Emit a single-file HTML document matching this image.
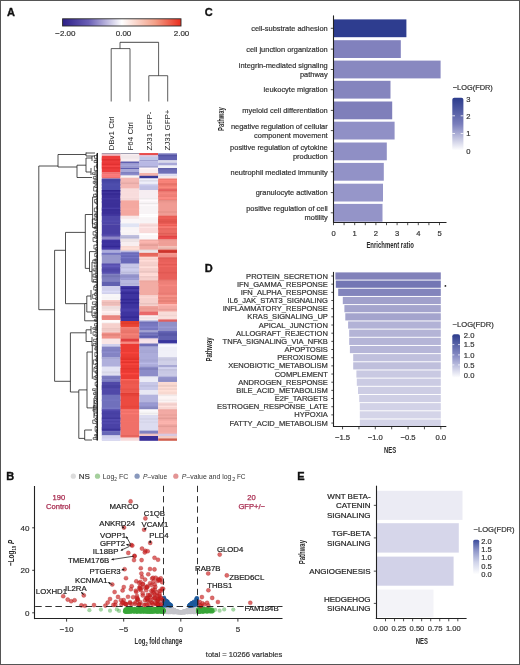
<!DOCTYPE html>
<html><head><meta charset="utf-8"><style>html,body{margin:0;padding:0;background:#fff;}svg{display:block;will-change:transform;}text{font-family:"Liberation Sans",sans-serif;}</style></head>
<body><svg width="520" height="665" viewBox="0 0 520 665" font-family="Liberation Sans, sans-serif"><text x="6.90" y="15.80" font-size="11" text-anchor="start" fill="#111" font-weight="bold"  stroke="#111" stroke-width="0.35">A</text>
<defs><linearGradient id="cb" x1="0" x2="1" y1="0" y2="0"><stop offset="0" stop-color="#2d2088"/><stop offset="0.22" stop-color="#6a5fb6"/><stop offset="0.5" stop-color="#ffffff"/><stop offset="0.78" stop-color="#f3a088"/><stop offset="1" stop-color="#ea2c1c"/></linearGradient><linearGradient id="cbC" x1="0" x2="0" y1="0" y2="1"><stop offset="0" stop-color="#2c3c8c"/><stop offset="0.5" stop-color="#7a7ebc"/><stop offset="1" stop-color="#ffffff"/></linearGradient><linearGradient id="cbD" x1="0" x2="0" y1="0" y2="1"><stop offset="0" stop-color="#2c3c8c"/><stop offset="0.5" stop-color="#8a8ec6"/><stop offset="1" stop-color="#ffffff"/></linearGradient><linearGradient id="cbE" x1="0" x2="0" y1="0" y2="1"><stop offset="0" stop-color="#3c4c9c"/><stop offset="0.3" stop-color="#8c94c8"/><stop offset="0.65" stop-color="#d0d4ea"/><stop offset="1" stop-color="#ffffff"/></linearGradient></defs>
<rect x="62.6" y="18.8" width="118.4" height="7.2" fill="url(#cb)" stroke="#2a2a2a" stroke-width="0.9"/>
<text x="65.40" y="35.60" font-size="8" text-anchor="middle" fill="#333" font-weight="normal" stroke="#333" stroke-width="0.2" >−2.00</text>
<text x="123.50" y="35.60" font-size="8" text-anchor="middle" fill="#333" font-weight="normal" stroke="#333" stroke-width="0.2" >0.00</text>
<text x="181.50" y="35.60" font-size="8" text-anchor="middle" fill="#333" font-weight="normal" stroke="#333" stroke-width="0.2" >2.00</text>
<line x1="120.00" y1="42.30" x2="158.60" y2="42.30" stroke="#333" stroke-width="0.9" />
<line x1="120.00" y1="42.30" x2="120.00" y2="48.60" stroke="#333" stroke-width="0.8" />
<line x1="111.20" y1="48.60" x2="130.00" y2="48.60" stroke="#333" stroke-width="0.8" />
<line x1="111.20" y1="48.60" x2="111.20" y2="101.50" stroke="#333" stroke-width="0.8" />
<line x1="130.00" y1="48.60" x2="130.00" y2="101.50" stroke="#333" stroke-width="0.8" />
<line x1="158.60" y1="42.30" x2="158.60" y2="75.70" stroke="#333" stroke-width="0.8" />
<line x1="148.80" y1="75.70" x2="167.70" y2="75.70" stroke="#333" stroke-width="0.8" />
<line x1="148.80" y1="75.70" x2="148.80" y2="101.50" stroke="#333" stroke-width="0.8" />
<line x1="167.70" y1="75.70" x2="167.70" y2="101.50" stroke="#333" stroke-width="0.8" />
<text transform="translate(114.10,150.6) rotate(-90)" font-size="8" fill="#222">DBv1 Ctrl</text>
<text transform="translate(132.80,150.6) rotate(-90)" font-size="8" fill="#222">F64 Ctrl</text>
<text transform="translate(151.60,150.6) rotate(-90)" font-size="8" fill="#222">ZJ31 GFP-</text>
<text transform="translate(170.40,150.6) rotate(-90)" font-size="8" fill="#222">ZJ31 GFP+</text>
<rect x="101.80" y="153.00" width="18.80" height="1.10" fill="#8a8aa0" />
<rect x="101.80" y="153.80" width="18.80" height="2.30" fill="#f4c0c8" />
<rect x="101.80" y="153.80" width="18.80" height="1.60" fill="#eab6be" />
<rect x="101.80" y="155.80" width="18.80" height="16.80" fill="#ec3c3c" />
<rect x="101.80" y="157.40" width="18.80" height="1.60" fill="#ed3d3d" />
<rect x="101.80" y="159.00" width="18.80" height="1.60" fill="#e03030" />
<rect x="101.80" y="162.20" width="18.80" height="1.60" fill="#ea3a3a" />
<rect x="101.80" y="163.80" width="18.80" height="1.60" fill="#e13131" />
<rect x="101.80" y="165.40" width="18.80" height="1.60" fill="#f54545" />
<rect x="101.80" y="167.00" width="18.80" height="1.60" fill="#e43434" />
<rect x="101.80" y="172.30" width="18.80" height="6.00" fill="#f07070" />
<rect x="101.80" y="173.90" width="18.80" height="1.60" fill="#fd7d7d" />
<rect x="101.80" y="175.50" width="18.80" height="1.60" fill="#fa7a7a" />
<rect x="101.80" y="178.00" width="18.80" height="1.50" fill="#a080b0" />
<rect x="101.80" y="179.20" width="18.80" height="11.10" fill="#4c4cab" />
<rect x="101.80" y="179.20" width="18.80" height="1.60" fill="#4242a1" />
<rect x="101.80" y="180.80" width="18.80" height="1.60" fill="#4747a6" />
<rect x="101.80" y="184.00" width="18.80" height="1.60" fill="#4e4ead" />
<rect x="101.80" y="187.20" width="18.80" height="1.60" fill="#4d4dac" />
<rect x="101.80" y="190.00" width="18.80" height="26.00" fill="#3b2f98" />
<rect x="101.80" y="190.00" width="18.80" height="1.60" fill="#2f238c" />
<rect x="101.80" y="191.60" width="18.80" height="1.60" fill="#40349d" />
<rect x="101.80" y="193.20" width="18.80" height="1.60" fill="#362a93" />
<rect x="101.80" y="198.00" width="18.80" height="1.60" fill="#4337a0" />
<rect x="101.80" y="201.20" width="18.80" height="1.60" fill="#3d319a" />
<rect x="101.80" y="207.60" width="18.80" height="1.60" fill="#483ca5" />
<rect x="101.80" y="209.20" width="18.80" height="1.60" fill="#392d96" />
<rect x="101.80" y="212.40" width="18.80" height="1.60" fill="#3b2f98" />
<rect x="101.80" y="214.00" width="18.80" height="1.60" fill="#40349d" />
<rect x="101.80" y="215.70" width="18.80" height="8.80" fill="#4e46a8" />
<rect x="101.80" y="220.50" width="18.80" height="1.60" fill="#534bad" />
<rect x="101.80" y="224.20" width="18.80" height="11.80" fill="#4a40a4" />
<rect x="101.80" y="233.80" width="18.80" height="1.60" fill="#5046aa" />
<rect x="101.80" y="235.70" width="18.80" height="2.10" fill="#7068b8" />
<rect x="101.80" y="237.50" width="18.80" height="2.30" fill="#9088c8" />
<rect x="101.80" y="239.50" width="18.80" height="10.60" fill="#3e33a0" />
<rect x="101.80" y="241.10" width="18.80" height="1.60" fill="#3b309d" />
<rect x="101.80" y="244.30" width="18.80" height="1.60" fill="#3d329f" />
<rect x="101.80" y="245.90" width="18.80" height="1.60" fill="#332895" />
<rect x="101.80" y="247.50" width="18.80" height="1.60" fill="#463ba8" />
<rect x="101.80" y="249.80" width="18.80" height="3.40" fill="#b0b0e0" />
<rect x="101.80" y="249.80" width="18.80" height="1.60" fill="#a9a9d9" />
<rect x="101.80" y="252.90" width="18.80" height="2.20" fill="#6a6ab8" />
<rect x="101.80" y="252.90" width="18.80" height="1.60" fill="#7474c2" />
<rect x="101.80" y="254.80" width="18.80" height="9.20" fill="#9898cc" />
<rect x="101.80" y="254.80" width="18.80" height="1.60" fill="#9797cb" />
<rect x="101.80" y="263.70" width="18.80" height="10.30" fill="#5850b0" />
<rect x="101.80" y="263.70" width="18.80" height="1.60" fill="#564eae" />
<rect x="101.80" y="265.30" width="18.80" height="1.60" fill="#635bbb" />
<rect x="101.80" y="268.50" width="18.80" height="1.60" fill="#4f47a7" />
<rect x="101.80" y="270.10" width="18.80" height="1.60" fill="#5149a9" />
<rect x="101.80" y="273.70" width="18.80" height="8.00" fill="#8080c0" />
<rect x="101.80" y="275.30" width="18.80" height="1.60" fill="#7272b2" />
<rect x="101.80" y="276.90" width="18.80" height="1.60" fill="#7c7cbc" />
<rect x="101.80" y="281.40" width="18.80" height="4.90" fill="#6060b0" />
<rect x="101.80" y="286.00" width="18.80" height="8.30" fill="#d0d0ec" />
<rect x="101.80" y="290.80" width="18.80" height="1.60" fill="#dbdbf7" />
<rect x="101.80" y="294.00" width="18.80" height="6.50" fill="#f8f6f8" />
<rect x="101.80" y="297.20" width="18.80" height="1.60" fill="#f5f3f5" />
<rect x="101.80" y="300.20" width="18.80" height="6.40" fill="#f4c4c0" />
<rect x="101.80" y="300.20" width="18.80" height="1.60" fill="#f8c8c4" />
<rect x="101.80" y="301.80" width="18.80" height="1.60" fill="#e8b8b4" />
<rect x="101.80" y="303.40" width="18.80" height="1.60" fill="#ebbbb7" />
<rect x="101.80" y="306.30" width="18.80" height="9.50" fill="#f8e8e8" />
<rect x="101.80" y="306.30" width="18.80" height="1.60" fill="#ebdbdb" />
<rect x="101.80" y="307.90" width="18.80" height="1.60" fill="#eedede" />
<rect x="101.80" y="309.50" width="18.80" height="1.60" fill="#f4e4e4" />
<rect x="101.80" y="311.10" width="18.80" height="1.60" fill="#fff2f2" />
<rect x="101.80" y="315.50" width="18.80" height="5.00" fill="#ee8a84" />
<rect x="101.80" y="315.50" width="18.80" height="1.60" fill="#e7837d" />
<rect x="101.80" y="317.10" width="18.80" height="1.60" fill="#ea8680" />
<rect x="101.80" y="320.20" width="18.80" height="3.30" fill="#faf4f4" />
<rect x="101.80" y="320.20" width="18.80" height="1.60" fill="#fffefe" />
<rect x="101.80" y="323.20" width="18.80" height="9.60" fill="#f6d0cc" />
<rect x="101.80" y="328.00" width="18.80" height="1.60" fill="#ebc5c1" />
<rect x="101.80" y="329.60" width="18.80" height="1.60" fill="#efc9c5" />
<rect x="101.80" y="332.50" width="18.80" height="6.40" fill="#f09088" />
<rect x="101.80" y="334.10" width="18.80" height="1.60" fill="#e3837b" />
<rect x="101.80" y="338.60" width="18.80" height="5.70" fill="#f8e4e4" />
<rect x="101.80" y="340.20" width="18.80" height="1.60" fill="#f9e5e5" />
<rect x="101.80" y="341.80" width="18.80" height="1.60" fill="#f9e5e5" />
<rect x="101.80" y="344.00" width="18.80" height="2.90" fill="#d0d0ec" />
<rect x="101.80" y="346.60" width="18.80" height="11.10" fill="#8484c4" />
<rect x="101.80" y="349.80" width="18.80" height="1.60" fill="#8080c0" />
<rect x="101.80" y="351.40" width="18.80" height="1.60" fill="#8c8ccc" />
<rect x="101.80" y="357.40" width="18.80" height="9.50" fill="#b0b0dc" />
<rect x="101.80" y="357.40" width="18.80" height="1.60" fill="#a8a8d4" />
<rect x="101.80" y="366.60" width="18.80" height="9.50" fill="#e4e4f4" />
<rect x="101.80" y="369.80" width="18.80" height="1.60" fill="#e4e4f4" />
<rect x="101.80" y="371.40" width="18.80" height="1.60" fill="#d7d7e7" />
<rect x="101.80" y="373.00" width="18.80" height="1.60" fill="#dedeee" />
<rect x="101.80" y="375.80" width="18.80" height="6.50" fill="#7878bc" />
<rect x="101.80" y="375.80" width="18.80" height="1.60" fill="#7d7dc1" />
<rect x="101.80" y="379.00" width="18.80" height="1.60" fill="#8484c8" />
<rect x="101.80" y="382.00" width="18.80" height="13.00" fill="#5048a8" />
<rect x="101.80" y="385.20" width="18.80" height="1.60" fill="#4840a0" />
<rect x="101.80" y="386.80" width="18.80" height="1.60" fill="#4840a0" />
<rect x="101.80" y="388.40" width="18.80" height="1.60" fill="#534bab" />
<rect x="101.80" y="394.70" width="18.80" height="15.10" fill="#7070bc" />
<rect x="101.80" y="399.50" width="18.80" height="1.60" fill="#7474c0" />
<rect x="101.80" y="407.50" width="18.80" height="1.60" fill="#7878c4" />
<rect x="101.80" y="409.50" width="18.80" height="22.20" fill="#4a42a6" />
<rect x="101.80" y="409.50" width="18.80" height="1.60" fill="#524aae" />
<rect x="101.80" y="412.70" width="18.80" height="1.60" fill="#473fa3" />
<rect x="101.80" y="417.50" width="18.80" height="1.60" fill="#40389c" />
<rect x="101.80" y="419.10" width="18.80" height="1.60" fill="#554db1" />
<rect x="101.80" y="422.30" width="18.80" height="1.60" fill="#534baf" />
<rect x="101.80" y="427.10" width="18.80" height="1.60" fill="#4b43a7" />
<rect x="101.80" y="428.70" width="18.80" height="1.60" fill="#3c3498" />
<rect x="101.80" y="431.40" width="18.80" height="4.20" fill="#6868b8" />
<rect x="101.80" y="435.30" width="18.80" height="5.50" fill="#d0d0ec" />
<rect x="101.80" y="438.50" width="18.80" height="1.60" fill="#dadaf6" />
<rect x="120.60" y="153.00" width="18.80" height="1.10" fill="#8a8aa0" />
<rect x="120.60" y="153.80" width="18.80" height="8.00" fill="#f8eef0" />
<rect x="120.60" y="155.40" width="18.80" height="1.60" fill="#f1e7e9" />
<rect x="120.60" y="157.00" width="18.80" height="1.60" fill="#f1e7e9" />
<rect x="120.60" y="161.50" width="18.80" height="1.80" fill="#6060b0" />
<rect x="120.60" y="163.00" width="18.80" height="5.30" fill="#9a9ad0" />
<rect x="120.60" y="163.00" width="18.80" height="1.60" fill="#9898ce" />
<rect x="120.60" y="164.60" width="18.80" height="1.60" fill="#a5a5db" />
<rect x="120.60" y="166.20" width="18.80" height="1.60" fill="#9999cf" />
<rect x="120.60" y="168.00" width="18.80" height="1.50" fill="#6060b0" />
<rect x="120.60" y="169.20" width="18.80" height="3.10" fill="#a8a8d8" />
<rect x="120.60" y="172.00" width="18.80" height="3.70" fill="#8080c0" />
<rect x="120.60" y="173.60" width="18.80" height="1.60" fill="#8c8ccc" />
<rect x="120.60" y="175.40" width="18.80" height="2.60" fill="#f8f4f4" />
<rect x="120.60" y="177.70" width="18.80" height="11.10" fill="#f4b8b4" />
<rect x="120.60" y="180.90" width="18.80" height="1.60" fill="#f2b6b2" />
<rect x="120.60" y="182.50" width="18.80" height="1.60" fill="#e6aaa6" />
<rect x="120.60" y="185.70" width="18.80" height="1.60" fill="#f3b7b3" />
<rect x="120.60" y="188.50" width="18.80" height="12.10" fill="#f8dcdc" />
<rect x="120.60" y="191.70" width="18.80" height="1.60" fill="#f9dddd" />
<rect x="120.60" y="196.50" width="18.80" height="1.60" fill="#fadede" />
<rect x="120.60" y="198.10" width="18.80" height="1.60" fill="#f2d6d6" />
<rect x="120.60" y="200.30" width="18.80" height="15.70" fill="#f4a8a0" />
<rect x="120.60" y="208.30" width="18.80" height="1.60" fill="#f7aba3" />
<rect x="120.60" y="215.70" width="18.80" height="3.40" fill="#f8e8e8" />
<rect x="120.60" y="218.80" width="18.80" height="4.90" fill="#faf6f8" />
<rect x="120.60" y="223.40" width="18.80" height="4.10" fill="#e0e4f4" />
<rect x="120.60" y="227.20" width="18.80" height="8.10" fill="#f8f4f6" />
<rect x="120.60" y="230.40" width="18.80" height="1.60" fill="#faf6f8" />
<rect x="120.60" y="235.00" width="18.80" height="4.10" fill="#c0c0e0" />
<rect x="120.60" y="236.60" width="18.80" height="1.60" fill="#b5b5d5" />
<rect x="120.60" y="238.80" width="18.80" height="7.50" fill="#f8eef0" />
<rect x="120.60" y="238.80" width="18.80" height="1.60" fill="#ece2e4" />
<rect x="120.60" y="240.40" width="18.80" height="1.60" fill="#ece2e4" />
<rect x="120.60" y="246.00" width="18.80" height="4.90" fill="#f8d8d0" />
<rect x="120.60" y="247.60" width="18.80" height="1.60" fill="#feded6" />
<rect x="120.60" y="250.60" width="18.80" height="1.90" fill="#b8b8e0" />
<rect x="120.60" y="252.20" width="18.80" height="11.80" fill="#6868b8" />
<rect x="120.60" y="253.80" width="18.80" height="1.60" fill="#7373c3" />
<rect x="120.60" y="257.00" width="18.80" height="1.60" fill="#7575c5" />
<rect x="120.60" y="258.60" width="18.80" height="1.60" fill="#6868b8" />
<rect x="120.60" y="263.70" width="18.80" height="11.10" fill="#c8c8e8" />
<rect x="120.60" y="263.70" width="18.80" height="1.60" fill="#c6c6e6" />
<rect x="120.60" y="266.90" width="18.80" height="1.60" fill="#bfbfdf" />
<rect x="120.60" y="268.50" width="18.80" height="1.60" fill="#ceceee" />
<rect x="120.60" y="270.10" width="18.80" height="1.60" fill="#cacaea" />
<rect x="120.60" y="271.70" width="18.80" height="1.60" fill="#bbbbdb" />
<rect x="120.60" y="274.50" width="18.80" height="5.60" fill="#9090c8" />
<rect x="120.60" y="274.50" width="18.80" height="1.60" fill="#9393cb" />
<rect x="120.60" y="277.70" width="18.80" height="1.60" fill="#9e9ed6" />
<rect x="120.60" y="279.80" width="18.80" height="6.50" fill="#b8b8e0" />
<rect x="120.60" y="283.00" width="18.80" height="1.60" fill="#b1b1d9" />
<rect x="120.60" y="286.00" width="18.80" height="35.30" fill="#3e34a0" />
<rect x="120.60" y="286.00" width="18.80" height="1.60" fill="#463ca8" />
<rect x="120.60" y="287.60" width="18.80" height="1.60" fill="#342a96" />
<rect x="120.60" y="289.20" width="18.80" height="1.60" fill="#4a40ac" />
<rect x="120.60" y="292.40" width="18.80" height="1.60" fill="#342a96" />
<rect x="120.60" y="298.80" width="18.80" height="1.60" fill="#322894" />
<rect x="120.60" y="302.00" width="18.80" height="1.60" fill="#322894" />
<rect x="120.60" y="308.40" width="18.80" height="1.60" fill="#483eaa" />
<rect x="120.60" y="310.00" width="18.80" height="1.60" fill="#483eaa" />
<rect x="120.60" y="313.20" width="18.80" height="1.60" fill="#3f35a1" />
<rect x="120.60" y="316.40" width="18.80" height="1.60" fill="#342a96" />
<rect x="120.60" y="321.00" width="18.80" height="6.30" fill="#ec4838" />
<rect x="120.60" y="321.00" width="18.80" height="1.60" fill="#e13d2d" />
<rect x="120.60" y="322.60" width="18.80" height="1.60" fill="#df3b2b" />
<rect x="120.60" y="324.20" width="18.80" height="1.60" fill="#e74333" />
<rect x="120.60" y="327.00" width="18.80" height="11.90" fill="#ee7a70" />
<rect x="120.60" y="327.00" width="18.80" height="1.60" fill="#f58177" />
<rect x="120.60" y="328.60" width="18.80" height="1.60" fill="#ee7a70" />
<rect x="120.60" y="330.20" width="18.80" height="1.60" fill="#ea766c" />
<rect x="120.60" y="331.80" width="18.80" height="1.60" fill="#e77369" />
<rect x="120.60" y="333.40" width="18.80" height="1.60" fill="#f58177" />
<rect x="120.60" y="336.60" width="18.80" height="1.60" fill="#ed796f" />
<rect x="120.60" y="338.60" width="18.80" height="3.40" fill="#e04040" />
<rect x="120.60" y="341.70" width="18.80" height="2.60" fill="#f08078" />
<rect x="120.60" y="341.70" width="18.80" height="1.60" fill="#f98981" />
<rect x="120.60" y="344.00" width="18.80" height="35.30" fill="#ec3c34" />
<rect x="120.60" y="344.00" width="18.80" height="1.60" fill="#ec3c34" />
<rect x="120.60" y="347.20" width="18.80" height="1.60" fill="#ec3c34" />
<rect x="120.60" y="352.00" width="18.80" height="1.60" fill="#f5453d" />
<rect x="120.60" y="356.80" width="18.80" height="1.60" fill="#e83830" />
<rect x="120.60" y="358.40" width="18.80" height="1.60" fill="#e2322a" />
<rect x="120.60" y="360.00" width="18.80" height="1.60" fill="#f3433b" />
<rect x="120.60" y="361.60" width="18.80" height="1.60" fill="#e3332b" />
<rect x="120.60" y="363.20" width="18.80" height="1.60" fill="#f6463e" />
<rect x="120.60" y="368.00" width="18.80" height="1.60" fill="#e5352d" />
<rect x="120.60" y="369.60" width="18.80" height="1.60" fill="#eb3b33" />
<rect x="120.60" y="371.20" width="18.80" height="1.60" fill="#ea3a32" />
<rect x="120.60" y="372.80" width="18.80" height="1.60" fill="#f94941" />
<rect x="120.60" y="379.00" width="18.80" height="14.30" fill="#ef5a50" />
<rect x="120.60" y="379.00" width="18.80" height="1.60" fill="#fc675d" />
<rect x="120.60" y="380.60" width="18.80" height="1.60" fill="#eb564c" />
<rect x="120.60" y="382.20" width="18.80" height="1.60" fill="#ec574d" />
<rect x="120.60" y="387.00" width="18.80" height="1.60" fill="#ef5a50" />
<rect x="120.60" y="388.60" width="18.80" height="1.60" fill="#e85349" />
<rect x="120.60" y="390.20" width="18.80" height="1.60" fill="#ec574d" />
<rect x="120.60" y="393.00" width="18.80" height="16.80" fill="#ec4a40" />
<rect x="120.60" y="393.00" width="18.80" height="1.60" fill="#df3d33" />
<rect x="120.60" y="394.60" width="18.80" height="1.60" fill="#e54339" />
<rect x="120.60" y="405.80" width="18.80" height="1.60" fill="#e7453b" />
<rect x="120.60" y="409.50" width="18.80" height="28.50" fill="#f07068" />
<rect x="120.60" y="409.50" width="18.80" height="1.60" fill="#f6766e" />
<rect x="120.60" y="412.70" width="18.80" height="1.60" fill="#f97971" />
<rect x="120.60" y="420.70" width="18.80" height="1.60" fill="#f17169" />
<rect x="120.60" y="435.10" width="18.80" height="1.60" fill="#e3635b" />
<rect x="120.60" y="437.70" width="18.80" height="3.10" fill="#f8dcdc" />
<rect x="120.60" y="437.70" width="18.80" height="1.60" fill="#f4d8d8" />
<rect x="139.40" y="153.00" width="18.80" height="2.30" fill="#e04848" />
<rect x="139.40" y="153.00" width="18.80" height="1.60" fill="#e95151" />
<rect x="139.40" y="155.00" width="18.80" height="1.80" fill="#e0c0d8" />
<rect x="139.40" y="156.50" width="18.80" height="3.80" fill="#c0c8e8" />
<rect x="139.40" y="160.00" width="18.80" height="1.50" fill="#a0a0d0" />
<rect x="139.40" y="161.20" width="18.80" height="5.30" fill="#b8b8e4" />
<rect x="139.40" y="166.20" width="18.80" height="1.80" fill="#9898c8" />
<rect x="139.40" y="167.70" width="18.80" height="5.60" fill="#f8eef0" />
<rect x="139.40" y="167.70" width="18.80" height="1.60" fill="#fff6f8" />
<rect x="139.40" y="173.00" width="18.80" height="3.10" fill="#f4b4ac" />
<rect x="139.40" y="175.80" width="18.80" height="3.00" fill="#3a3a98" />
<rect x="139.40" y="178.50" width="18.80" height="6.40" fill="#e8e8f4" />
<rect x="139.40" y="178.50" width="18.80" height="1.60" fill="#efeffb" />
<rect x="139.40" y="180.10" width="18.80" height="1.60" fill="#dcdce8" />
<rect x="139.40" y="181.70" width="18.80" height="1.60" fill="#eeeefa" />
<rect x="139.40" y="184.60" width="18.80" height="5.70" fill="#c0c0e4" />
<rect x="139.40" y="184.60" width="18.80" height="1.60" fill="#c7c7eb" />
<rect x="139.40" y="190.00" width="18.80" height="8.30" fill="#f6eef2" />
<rect x="139.40" y="190.00" width="18.80" height="1.60" fill="#f5edf1" />
<rect x="139.40" y="198.00" width="18.80" height="25.70" fill="#f8f4f6" />
<rect x="139.40" y="198.00" width="18.80" height="1.60" fill="#eeeaec" />
<rect x="139.40" y="199.60" width="18.80" height="1.60" fill="#fffbfd" />
<rect x="139.40" y="201.20" width="18.80" height="1.60" fill="#faf6f8" />
<rect x="139.40" y="202.80" width="18.80" height="1.60" fill="#ece8ea" />
<rect x="139.40" y="204.40" width="18.80" height="1.60" fill="#fdf9fb" />
<rect x="139.40" y="209.20" width="18.80" height="1.60" fill="#f8f4f6" />
<rect x="139.40" y="214.00" width="18.80" height="1.60" fill="#ffffff" />
<rect x="139.40" y="215.60" width="18.80" height="1.60" fill="#ffffff" />
<rect x="139.40" y="218.80" width="18.80" height="1.60" fill="#f7f3f5" />
<rect x="139.40" y="223.40" width="18.80" height="10.30" fill="#f8dada" />
<rect x="139.40" y="225.00" width="18.80" height="1.60" fill="#f2d4d4" />
<rect x="139.40" y="226.60" width="18.80" height="1.60" fill="#ffe6e6" />
<rect x="139.40" y="228.20" width="18.80" height="1.60" fill="#fadcdc" />
<rect x="139.40" y="229.80" width="18.80" height="1.60" fill="#f9dbdb" />
<rect x="139.40" y="233.40" width="18.80" height="6.40" fill="#faf6f8" />
<rect x="139.40" y="233.40" width="18.80" height="1.60" fill="#ffffff" />
<rect x="139.40" y="239.50" width="18.80" height="10.60" fill="#f2aca6" />
<rect x="139.40" y="241.10" width="18.80" height="1.60" fill="#fdb7b1" />
<rect x="139.40" y="244.30" width="18.80" height="1.60" fill="#e49e98" />
<rect x="139.40" y="249.80" width="18.80" height="3.40" fill="#f0e8ec" />
<rect x="139.40" y="249.80" width="18.80" height="1.60" fill="#e6dee2" />
<rect x="139.40" y="252.90" width="18.80" height="4.20" fill="#e86a60" />
<rect x="139.40" y="252.90" width="18.80" height="1.60" fill="#e3655b" />
<rect x="139.40" y="256.80" width="18.80" height="24.10" fill="#f6d0cc" />
<rect x="139.40" y="256.80" width="18.80" height="1.60" fill="#fdd7d3" />
<rect x="139.40" y="260.00" width="18.80" height="1.60" fill="#ffdcd8" />
<rect x="139.40" y="264.80" width="18.80" height="1.60" fill="#f2ccc8" />
<rect x="139.40" y="266.40" width="18.80" height="1.60" fill="#ffdeda" />
<rect x="139.40" y="269.60" width="18.80" height="1.60" fill="#f4ceca" />
<rect x="139.40" y="271.20" width="18.80" height="1.60" fill="#e9c3bf" />
<rect x="139.40" y="272.80" width="18.80" height="1.60" fill="#ffd9d5" />
<rect x="139.40" y="274.40" width="18.80" height="1.60" fill="#ffdcd8" />
<rect x="139.40" y="276.00" width="18.80" height="1.60" fill="#efc9c5" />
<rect x="139.40" y="280.60" width="18.80" height="14.70" fill="#f2aca4" />
<rect x="139.40" y="280.60" width="18.80" height="1.60" fill="#eea8a0" />
<rect x="139.40" y="295.00" width="18.80" height="11.60" fill="#f6d0cc" />
<rect x="139.40" y="296.60" width="18.80" height="1.60" fill="#fdd7d3" />
<rect x="139.40" y="303.00" width="18.80" height="1.60" fill="#e9c3bf" />
<rect x="139.40" y="306.30" width="18.80" height="5.70" fill="#f0a098" />
<rect x="139.40" y="306.30" width="18.80" height="1.60" fill="#ef9f97" />
<rect x="139.40" y="307.90" width="18.80" height="1.60" fill="#ea9a92" />
<rect x="139.40" y="311.70" width="18.80" height="4.10" fill="#e86868" />
<rect x="139.40" y="313.30" width="18.80" height="1.60" fill="#ec6c6c" />
<rect x="139.40" y="315.50" width="18.80" height="5.00" fill="#f8ecec" />
<rect x="139.40" y="315.50" width="18.80" height="1.60" fill="#faeeee" />
<rect x="139.40" y="317.10" width="18.80" height="1.60" fill="#efe3e3" />
<rect x="139.40" y="320.20" width="18.80" height="1.80" fill="#c0c0e0" />
<rect x="139.40" y="321.70" width="18.80" height="8.60" fill="#7878c0" />
<rect x="139.40" y="321.70" width="18.80" height="1.60" fill="#7070b8" />
<rect x="139.40" y="326.50" width="18.80" height="1.60" fill="#8383cb" />
<rect x="139.40" y="330.00" width="18.80" height="2.80" fill="#a8a8d8" />
<rect x="139.40" y="330.00" width="18.80" height="1.60" fill="#9e9ece" />
<rect x="139.40" y="332.50" width="18.80" height="3.30" fill="#7878c0" />
<rect x="139.40" y="332.50" width="18.80" height="1.60" fill="#6d6db5" />
<rect x="139.40" y="335.50" width="18.80" height="3.40" fill="#6868b8" />
<rect x="139.40" y="335.50" width="18.80" height="1.60" fill="#5d5dad" />
<rect x="139.40" y="338.60" width="18.80" height="5.20" fill="#f8e4ea" />
<rect x="139.40" y="338.60" width="18.80" height="1.60" fill="#f1dde3" />
<rect x="139.40" y="343.50" width="18.80" height="3.40" fill="#7070b8" />
<rect x="139.40" y="346.60" width="18.80" height="20.30" fill="#acacda" />
<rect x="139.40" y="346.60" width="18.80" height="1.60" fill="#aaaad8" />
<rect x="139.40" y="349.80" width="18.80" height="1.60" fill="#a7a7d5" />
<rect x="139.40" y="351.40" width="18.80" height="1.60" fill="#a6a6d4" />
<rect x="139.40" y="354.60" width="18.80" height="1.60" fill="#acacda" />
<rect x="139.40" y="359.40" width="18.80" height="1.60" fill="#a6a6d4" />
<rect x="139.40" y="361.00" width="18.80" height="1.60" fill="#a9a9d7" />
<rect x="139.40" y="362.60" width="18.80" height="1.60" fill="#b9b9e7" />
<rect x="139.40" y="366.60" width="18.80" height="10.30" fill="#8c8cc8" />
<rect x="139.40" y="368.20" width="18.80" height="1.60" fill="#7f7fbb" />
<rect x="139.40" y="376.60" width="18.80" height="5.70" fill="#ececf6" />
<rect x="139.40" y="376.60" width="18.80" height="1.60" fill="#e9e9f3" />
<rect x="139.40" y="382.00" width="18.80" height="8.30" fill="#c8c8e8" />
<rect x="139.40" y="385.20" width="18.80" height="1.60" fill="#bdbddd" />
<rect x="139.40" y="386.80" width="18.80" height="1.60" fill="#c9c9e9" />
<rect x="139.40" y="390.00" width="18.80" height="5.00" fill="#e8e8f4" />
<rect x="139.40" y="394.70" width="18.80" height="8.10" fill="#b4b4de" />
<rect x="139.40" y="402.50" width="18.80" height="7.30" fill="#9090c8" />
<rect x="139.40" y="402.50" width="18.80" height="1.60" fill="#9898d0" />
<rect x="139.40" y="404.10" width="18.80" height="1.60" fill="#9c9cd4" />
<rect x="139.40" y="407.30" width="18.80" height="1.60" fill="#8686be" />
<rect x="139.40" y="409.50" width="18.80" height="5.80" fill="#f8f6f8" />
<rect x="139.40" y="409.50" width="18.80" height="1.60" fill="#fcfafc" />
<rect x="139.40" y="412.70" width="18.80" height="1.60" fill="#eceaec" />
<rect x="139.40" y="415.00" width="18.80" height="15.90" fill="#dcdcf0" />
<rect x="139.40" y="418.20" width="18.80" height="1.60" fill="#d4d4e8" />
<rect x="139.40" y="421.40" width="18.80" height="1.60" fill="#d6d6ea" />
<rect x="139.40" y="430.60" width="18.80" height="3.50" fill="#8080c0" />
<rect x="139.40" y="433.80" width="18.80" height="2.50" fill="#f4c8c8" />
<rect x="139.40" y="433.80" width="18.80" height="1.60" fill="#edc1c1" />
<rect x="139.40" y="436.00" width="18.80" height="4.80" fill="#3a2f98" />
<rect x="158.20" y="153.00" width="18.80" height="1.90" fill="#a0a0d0" />
<rect x="158.20" y="154.60" width="18.80" height="6.10" fill="#6060b0" />
<rect x="158.20" y="154.60" width="18.80" height="1.60" fill="#5353a3" />
<rect x="158.20" y="160.40" width="18.80" height="2.60" fill="#e0e0f0" />
<rect x="158.20" y="160.40" width="18.80" height="1.60" fill="#d9d9e9" />
<rect x="158.20" y="162.70" width="18.80" height="3.00" fill="#a8a8d8" />
<rect x="158.20" y="165.40" width="18.80" height="2.90" fill="#f0f0f8" />
<rect x="158.20" y="168.00" width="18.80" height="6.10" fill="#7070b8" />
<rect x="158.20" y="168.00" width="18.80" height="1.60" fill="#6363ab" />
<rect x="158.20" y="169.60" width="18.80" height="1.60" fill="#6e6eb6" />
<rect x="158.20" y="173.80" width="18.80" height="2.70" fill="#d8d8ec" />
<rect x="158.20" y="173.80" width="18.80" height="1.60" fill="#e0e0f4" />
<rect x="158.20" y="176.20" width="18.80" height="2.60" fill="#f8e8e8" />
<rect x="158.20" y="178.50" width="18.80" height="11.00" fill="#ee7a70" />
<rect x="158.20" y="180.10" width="18.80" height="1.60" fill="#fb877d" />
<rect x="158.20" y="181.70" width="18.80" height="1.60" fill="#f78379" />
<rect x="158.20" y="183.30" width="18.80" height="1.60" fill="#e67268" />
<rect x="158.20" y="186.50" width="18.80" height="1.60" fill="#fb877d" />
<rect x="158.20" y="189.20" width="18.80" height="1.90" fill="#e05050" />
<rect x="158.20" y="190.80" width="18.80" height="9.50" fill="#f08078" />
<rect x="158.20" y="190.80" width="18.80" height="1.60" fill="#e87870" />
<rect x="158.20" y="192.40" width="18.80" height="1.60" fill="#f5857d" />
<rect x="158.20" y="195.60" width="18.80" height="1.60" fill="#ed7d75" />
<rect x="158.20" y="197.20" width="18.80" height="1.60" fill="#fd8d85" />
<rect x="158.20" y="200.00" width="18.80" height="16.00" fill="#f09c94" />
<rect x="158.20" y="200.00" width="18.80" height="1.60" fill="#e38f87" />
<rect x="158.20" y="201.60" width="18.80" height="1.60" fill="#ed9991" />
<rect x="158.20" y="211.20" width="18.80" height="1.60" fill="#e7938b" />
<rect x="158.20" y="215.70" width="18.80" height="11.10" fill="#e85c54" />
<rect x="158.20" y="217.30" width="18.80" height="1.60" fill="#ed6159" />
<rect x="158.20" y="218.90" width="18.80" height="1.60" fill="#e45850" />
<rect x="158.20" y="220.50" width="18.80" height="1.60" fill="#df534b" />
<rect x="158.20" y="222.10" width="18.80" height="1.60" fill="#e2564e" />
<rect x="158.20" y="223.70" width="18.80" height="1.60" fill="#f56961" />
<rect x="158.20" y="226.50" width="18.80" height="9.50" fill="#ec6c64" />
<rect x="158.20" y="226.50" width="18.80" height="1.60" fill="#f97971" />
<rect x="158.20" y="228.10" width="18.80" height="1.60" fill="#e86860" />
<rect x="158.20" y="232.90" width="18.80" height="1.60" fill="#df5f57" />
<rect x="158.20" y="235.70" width="18.80" height="4.10" fill="#e04444" />
<rect x="158.20" y="237.30" width="18.80" height="1.60" fill="#ec5050" />
<rect x="158.20" y="239.50" width="18.80" height="6.80" fill="#f0a098" />
<rect x="158.20" y="239.50" width="18.80" height="1.60" fill="#ec9c94" />
<rect x="158.20" y="242.70" width="18.80" height="1.60" fill="#ee9e96" />
<rect x="158.20" y="246.00" width="18.80" height="4.10" fill="#f4c0b8" />
<rect x="158.20" y="247.60" width="18.80" height="1.60" fill="#e7b3ab" />
<rect x="158.20" y="249.80" width="18.80" height="3.40" fill="#c83028" />
<rect x="158.20" y="249.80" width="18.80" height="1.60" fill="#d43c34" />
<rect x="158.20" y="252.90" width="18.80" height="4.90" fill="#f09088" />
<rect x="158.20" y="252.90" width="18.80" height="1.60" fill="#f7978f" />
<rect x="158.20" y="257.50" width="18.80" height="22.60" fill="#e8605a" />
<rect x="158.20" y="257.50" width="18.80" height="1.60" fill="#e25a54" />
<rect x="158.20" y="262.30" width="18.80" height="1.60" fill="#ee6660" />
<rect x="158.20" y="263.90" width="18.80" height="1.60" fill="#e25a54" />
<rect x="158.20" y="265.50" width="18.80" height="1.60" fill="#ef6761" />
<rect x="158.20" y="271.90" width="18.80" height="1.60" fill="#e15953" />
<rect x="158.20" y="279.80" width="18.80" height="16.00" fill="#ee8078" />
<rect x="158.20" y="279.80" width="18.80" height="1.60" fill="#e77971" />
<rect x="158.20" y="281.40" width="18.80" height="1.60" fill="#ee8078" />
<rect x="158.20" y="284.60" width="18.80" height="1.60" fill="#f68880" />
<rect x="158.20" y="292.60" width="18.80" height="1.60" fill="#e97b73" />
<rect x="158.20" y="295.50" width="18.80" height="8.80" fill="#f08a80" />
<rect x="158.20" y="295.50" width="18.80" height="1.60" fill="#f89288" />
<rect x="158.20" y="297.10" width="18.80" height="1.60" fill="#e88278" />
<rect x="158.20" y="300.30" width="18.80" height="1.60" fill="#e47e74" />
<rect x="158.20" y="301.90" width="18.80" height="1.60" fill="#f18b81" />
<rect x="158.20" y="304.00" width="18.80" height="8.00" fill="#f4aaa4" />
<rect x="158.20" y="304.00" width="18.80" height="1.60" fill="#ffb7b1" />
<rect x="158.20" y="308.80" width="18.80" height="1.60" fill="#e89e98" />
<rect x="158.20" y="311.70" width="18.80" height="8.00" fill="#f8dcd8" />
<rect x="158.20" y="311.70" width="18.80" height="1.60" fill="#f8dcd8" />
<rect x="158.20" y="314.90" width="18.80" height="1.60" fill="#f1d5d1" />
<rect x="158.20" y="316.50" width="18.80" height="1.60" fill="#fbdfdb" />
<rect x="158.20" y="319.40" width="18.80" height="2.60" fill="#e06060" />
<rect x="158.20" y="321.70" width="18.80" height="9.60" fill="#9090c8" />
<rect x="158.20" y="326.50" width="18.80" height="1.60" fill="#9a9ad2" />
<rect x="158.20" y="328.10" width="18.80" height="1.60" fill="#9292ca" />
<rect x="158.20" y="331.00" width="18.80" height="9.50" fill="#6060b0" />
<rect x="158.20" y="331.00" width="18.80" height="1.60" fill="#6767b7" />
<rect x="158.20" y="332.60" width="18.80" height="1.60" fill="#5959a9" />
<rect x="158.20" y="334.20" width="18.80" height="1.60" fill="#5656a6" />
<rect x="158.20" y="340.20" width="18.80" height="3.60" fill="#3c38a0" />
<rect x="158.20" y="340.20" width="18.80" height="1.60" fill="#39359d" />
<rect x="158.20" y="343.50" width="18.80" height="14.20" fill="#f0f0f8" />
<rect x="158.20" y="345.10" width="18.80" height="1.60" fill="#f9f9ff" />
<rect x="158.20" y="349.90" width="18.80" height="1.60" fill="#efeff7" />
<rect x="158.20" y="357.40" width="18.80" height="7.90" fill="#d0d0e8" />
<rect x="158.20" y="357.40" width="18.80" height="1.60" fill="#cacae2" />
<rect x="158.20" y="359.00" width="18.80" height="1.60" fill="#c7c7df" />
<rect x="158.20" y="365.00" width="18.80" height="2.70" fill="#a8a8d4" />
<rect x="158.20" y="367.40" width="18.80" height="9.50" fill="#c8c8e4" />
<rect x="158.20" y="367.40" width="18.80" height="1.60" fill="#d2d2ee" />
<rect x="158.20" y="369.00" width="18.80" height="1.60" fill="#c1c1dd" />
<rect x="158.20" y="373.80" width="18.80" height="1.60" fill="#cbcbe7" />
<rect x="158.20" y="376.60" width="18.80" height="5.70" fill="#9494cc" />
<rect x="158.20" y="378.20" width="18.80" height="1.60" fill="#9090c8" />
<rect x="158.20" y="379.80" width="18.80" height="1.60" fill="#8c8cc4" />
<rect x="158.20" y="382.00" width="18.80" height="13.00" fill="#f8d8d0" />
<rect x="158.20" y="382.00" width="18.80" height="1.60" fill="#fbdbd3" />
<rect x="158.20" y="385.20" width="18.80" height="1.60" fill="#eacac2" />
<rect x="158.20" y="386.80" width="18.80" height="1.60" fill="#fdddd5" />
<rect x="158.20" y="388.40" width="18.80" height="1.60" fill="#f3d3cb" />
<rect x="158.20" y="390.00" width="18.80" height="1.60" fill="#ffe0d8" />
<rect x="158.20" y="394.70" width="18.80" height="8.10" fill="#fcf4f4" />
<rect x="158.20" y="394.70" width="18.80" height="1.60" fill="#f1e9e9" />
<rect x="158.20" y="396.30" width="18.80" height="1.60" fill="#fdf5f5" />
<rect x="158.20" y="399.50" width="18.80" height="1.60" fill="#f3ebeb" />
<rect x="158.20" y="402.50" width="18.80" height="7.30" fill="#f6d4d0" />
<rect x="158.20" y="404.10" width="18.80" height="1.60" fill="#f0ceca" />
<rect x="158.20" y="405.70" width="18.80" height="1.60" fill="#ffe1dd" />
<rect x="158.20" y="407.30" width="18.80" height="1.60" fill="#f8d6d2" />
<rect x="158.20" y="409.50" width="18.80" height="24.60" fill="#f2aaa4" />
<rect x="158.20" y="409.50" width="18.80" height="1.60" fill="#f0a8a2" />
<rect x="158.20" y="414.30" width="18.80" height="1.60" fill="#eaa29c" />
<rect x="158.20" y="417.50" width="18.80" height="1.60" fill="#e49c96" />
<rect x="158.20" y="420.70" width="18.80" height="1.60" fill="#fbb3ad" />
<rect x="158.20" y="422.30" width="18.80" height="1.60" fill="#fdb5af" />
<rect x="158.20" y="425.50" width="18.80" height="1.60" fill="#e49c96" />
<rect x="158.20" y="431.90" width="18.80" height="1.60" fill="#f5ada7" />
<rect x="158.20" y="433.80" width="18.80" height="2.50" fill="#d8c8e0" />
<rect x="158.20" y="433.80" width="18.80" height="1.60" fill="#d8c8e0" />
<rect x="158.20" y="436.00" width="18.80" height="2.70" fill="#f8d0c8" />
<rect x="158.20" y="436.00" width="18.80" height="1.60" fill="#f2cac2" />
<rect x="158.20" y="438.40" width="18.80" height="2.40" fill="#d06050" />
<line x1="38.80" y1="166.00" x2="38.80" y2="309.70" stroke="#222" stroke-width="0.8" />
<line x1="38.80" y1="166.00" x2="58.00" y2="166.00" stroke="#222" stroke-width="0.8" />
<line x1="38.80" y1="309.70" x2="54.60" y2="309.70" stroke="#222" stroke-width="0.8" />
<line x1="58.00" y1="154.50" x2="58.00" y2="167.00" stroke="#222" stroke-width="0.8" />
<line x1="58.00" y1="154.50" x2="86.00" y2="154.50" stroke="#222" stroke-width="0.8" />
<line x1="58.00" y1="167.00" x2="77.00" y2="167.00" stroke="#222" stroke-width="0.8" />
<line x1="77.00" y1="165.20" x2="77.00" y2="177.50" stroke="#222" stroke-width="0.8" />
<line x1="77.00" y1="165.20" x2="86.00" y2="165.20" stroke="#222" stroke-width="0.8" />
<line x1="77.00" y1="177.50" x2="92.00" y2="177.50" stroke="#222" stroke-width="0.8" />
<line x1="86.00" y1="158.00" x2="86.00" y2="172.00" stroke="#222" stroke-width="0.8" />
<line x1="86.00" y1="158.00" x2="92.00" y2="158.00" stroke="#222" stroke-width="0.8" />
<line x1="86.00" y1="172.00" x2="91.00" y2="172.00" stroke="#222" stroke-width="0.8" />
<line x1="92.00" y1="156.00" x2="92.00" y2="161.00" stroke="#222" stroke-width="0.8" />
<line x1="91.00" y1="168.00" x2="91.00" y2="175.00" stroke="#222" stroke-width="0.8" />
<line x1="86.00" y1="152.50" x2="86.00" y2="156.00" stroke="#222" stroke-width="0.8" />
<line x1="86.00" y1="153.00" x2="95.00" y2="153.00" stroke="#222" stroke-width="0.8" />
<line x1="86.00" y1="156.00" x2="95.00" y2="156.00" stroke="#222" stroke-width="0.8" />
<line x1="54.60" y1="250.30" x2="54.60" y2="381.30" stroke="#222" stroke-width="0.8" />
<line x1="54.60" y1="250.30" x2="65.50" y2="250.30" stroke="#222" stroke-width="0.8" />
<line x1="54.60" y1="381.30" x2="70.40" y2="381.30" stroke="#222" stroke-width="0.8" />
<line x1="65.50" y1="232.40" x2="65.50" y2="303.70" stroke="#222" stroke-width="0.8" />
<line x1="65.50" y1="232.40" x2="85.30" y2="232.40" stroke="#222" stroke-width="0.8" />
<line x1="65.50" y1="303.70" x2="84.70" y2="303.70" stroke="#222" stroke-width="0.8" />
<line x1="85.30" y1="214.50" x2="85.30" y2="268.40" stroke="#222" stroke-width="0.8" />
<line x1="85.30" y1="214.50" x2="92.60" y2="214.50" stroke="#222" stroke-width="0.8" />
<line x1="85.30" y1="268.40" x2="89.50" y2="268.40" stroke="#222" stroke-width="0.8" />
<line x1="92.60" y1="197.10" x2="92.60" y2="227.60" stroke="#222" stroke-width="0.8" />
<line x1="92.60" y1="197.10" x2="96.00" y2="197.10" stroke="#222" stroke-width="0.8" />
<line x1="92.60" y1="227.60" x2="96.00" y2="227.60" stroke="#222" stroke-width="0.8" />
<line x1="89.50" y1="251.60" x2="89.50" y2="271.60" stroke="#222" stroke-width="0.8" />
<line x1="89.50" y1="251.60" x2="96.30" y2="251.60" stroke="#222" stroke-width="0.8" />
<line x1="89.50" y1="271.60" x2="92.00" y2="271.60" stroke="#222" stroke-width="0.8" />
<line x1="92.00" y1="262.00" x2="92.00" y2="282.00" stroke="#222" stroke-width="0.8" />
<line x1="92.00" y1="282.00" x2="96.00" y2="282.00" stroke="#222" stroke-width="0.8" />
<line x1="84.70" y1="303.50" x2="84.70" y2="320.80" stroke="#222" stroke-width="0.8" />
<line x1="84.70" y1="320.80" x2="97.00" y2="320.80" stroke="#222" stroke-width="0.8" />
<line x1="84.70" y1="303.50" x2="86.80" y2="303.50" stroke="#222" stroke-width="0.8" />
<line x1="86.80" y1="296.00" x2="86.80" y2="312.00" stroke="#222" stroke-width="0.8" />
<line x1="86.80" y1="296.00" x2="91.00" y2="296.00" stroke="#222" stroke-width="0.8" />
<line x1="86.80" y1="312.00" x2="92.00" y2="312.00" stroke="#222" stroke-width="0.8" />
<line x1="91.00" y1="290.00" x2="91.00" y2="300.00" stroke="#222" stroke-width="0.8" />
<line x1="92.00" y1="306.00" x2="92.00" y2="316.00" stroke="#222" stroke-width="0.8" />
<line x1="70.40" y1="332.80" x2="70.40" y2="392.00" stroke="#222" stroke-width="0.8" />
<line x1="70.40" y1="332.80" x2="86.10" y2="332.80" stroke="#222" stroke-width="0.8" />
<line x1="70.40" y1="392.00" x2="78.80" y2="392.00" stroke="#222" stroke-width="0.8" />
<line x1="86.10" y1="329.80" x2="86.10" y2="341.50" stroke="#222" stroke-width="0.8" />
<line x1="86.10" y1="329.80" x2="91.00" y2="329.80" stroke="#222" stroke-width="0.8" />
<line x1="86.10" y1="341.50" x2="92.00" y2="341.50" stroke="#222" stroke-width="0.8" />
<line x1="91.00" y1="326.00" x2="91.00" y2="334.00" stroke="#222" stroke-width="0.8" />
<line x1="92.00" y1="337.00" x2="92.00" y2="346.00" stroke="#222" stroke-width="0.8" />
<line x1="78.80" y1="389.90" x2="78.80" y2="438.40" stroke="#222" stroke-width="0.8" />
<line x1="78.80" y1="389.90" x2="87.00" y2="389.90" stroke="#222" stroke-width="0.8" />
<line x1="78.80" y1="438.40" x2="84.70" y2="438.40" stroke="#222" stroke-width="0.8" />
<line x1="87.00" y1="352.00" x2="87.00" y2="407.90" stroke="#222" stroke-width="0.8" />
<line x1="87.00" y1="352.00" x2="92.30" y2="352.00" stroke="#222" stroke-width="0.8" />
<line x1="87.00" y1="407.90" x2="94.00" y2="407.90" stroke="#222" stroke-width="0.8" />
<line x1="92.30" y1="345.00" x2="92.30" y2="378.90" stroke="#222" stroke-width="0.8" />
<line x1="84.70" y1="430.00" x2="84.70" y2="440.00" stroke="#222" stroke-width="0.8" />
<line x1="84.70" y1="430.00" x2="92.00" y2="430.00" stroke="#222" stroke-width="0.8" />
<line x1="84.70" y1="440.00" x2="92.00" y2="440.00" stroke="#222" stroke-width="0.8" />
<line x1="94.00" y1="398.00" x2="94.00" y2="418.00" stroke="#222" stroke-width="0.8" />
<line x1="97.44" y1="153.33" x2="97.44" y2="154.27" stroke="#151515" stroke-width="0.6" />
<line x1="97.44" y1="153.33" x2="97.80" y2="153.33" stroke="#151515" stroke-width="0.6" />
<line x1="97.44" y1="154.27" x2="97.80" y2="154.27" stroke="#151515" stroke-width="0.6" />
<line x1="97.01" y1="153.80" x2="97.01" y2="155.34" stroke="#151515" stroke-width="0.6" />
<line x1="97.01" y1="153.80" x2="97.44" y2="153.80" stroke="#151515" stroke-width="0.6" />
<line x1="97.01" y1="155.34" x2="97.80" y2="155.34" stroke="#151515" stroke-width="0.6" />
<line x1="97.22" y1="156.14" x2="97.22" y2="156.83" stroke="#151515" stroke-width="0.6" />
<line x1="97.22" y1="156.14" x2="97.80" y2="156.14" stroke="#151515" stroke-width="0.6" />
<line x1="97.22" y1="156.83" x2="97.80" y2="156.83" stroke="#151515" stroke-width="0.6" />
<line x1="96.73" y1="154.57" x2="96.73" y2="156.49" stroke="#151515" stroke-width="0.6" />
<line x1="96.73" y1="154.57" x2="97.01" y2="154.57" stroke="#151515" stroke-width="0.6" />
<line x1="96.73" y1="156.49" x2="97.22" y2="156.49" stroke="#151515" stroke-width="0.6" />
<line x1="97.34" y1="158.64" x2="97.34" y2="159.43" stroke="#151515" stroke-width="0.6" />
<line x1="97.34" y1="158.64" x2="97.80" y2="158.64" stroke="#151515" stroke-width="0.6" />
<line x1="97.34" y1="159.43" x2="97.80" y2="159.43" stroke="#151515" stroke-width="0.6" />
<line x1="96.43" y1="157.66" x2="96.43" y2="159.03" stroke="#151515" stroke-width="0.6" />
<line x1="96.43" y1="157.66" x2="97.80" y2="157.66" stroke="#151515" stroke-width="0.6" />
<line x1="96.43" y1="159.03" x2="97.34" y2="159.03" stroke="#151515" stroke-width="0.6" />
<line x1="94.53" y1="155.53" x2="94.53" y2="158.35" stroke="#151515" stroke-width="0.6" />
<line x1="94.53" y1="155.53" x2="96.73" y2="155.53" stroke="#151515" stroke-width="0.6" />
<line x1="94.53" y1="158.35" x2="96.43" y2="158.35" stroke="#151515" stroke-width="0.6" />
<line x1="95.07" y1="160.00" x2="95.07" y2="160.67" stroke="#151515" stroke-width="0.6" />
<line x1="95.07" y1="160.00" x2="97.80" y2="160.00" stroke="#151515" stroke-width="0.6" />
<line x1="95.07" y1="160.67" x2="97.80" y2="160.67" stroke="#151515" stroke-width="0.6" />
<line x1="96.99" y1="161.50" x2="96.99" y2="162.31" stroke="#151515" stroke-width="0.6" />
<line x1="96.99" y1="161.50" x2="97.80" y2="161.50" stroke="#151515" stroke-width="0.6" />
<line x1="96.99" y1="162.31" x2="97.80" y2="162.31" stroke="#151515" stroke-width="0.6" />
<line x1="96.49" y1="161.90" x2="96.49" y2="163.13" stroke="#151515" stroke-width="0.6" />
<line x1="96.49" y1="161.90" x2="96.99" y2="161.90" stroke="#151515" stroke-width="0.6" />
<line x1="96.49" y1="163.13" x2="97.80" y2="163.13" stroke="#151515" stroke-width="0.6" />
<line x1="94.15" y1="160.33" x2="94.15" y2="162.52" stroke="#151515" stroke-width="0.6" />
<line x1="94.15" y1="160.33" x2="95.07" y2="160.33" stroke="#151515" stroke-width="0.6" />
<line x1="94.15" y1="162.52" x2="96.49" y2="162.52" stroke="#151515" stroke-width="0.6" />
<line x1="97.41" y1="164.70" x2="97.41" y2="165.59" stroke="#151515" stroke-width="0.6" />
<line x1="97.41" y1="164.70" x2="97.80" y2="164.70" stroke="#151515" stroke-width="0.6" />
<line x1="97.41" y1="165.59" x2="97.80" y2="165.59" stroke="#151515" stroke-width="0.6" />
<line x1="96.99" y1="164.00" x2="96.99" y2="165.14" stroke="#151515" stroke-width="0.6" />
<line x1="96.99" y1="164.00" x2="97.80" y2="164.00" stroke="#151515" stroke-width="0.6" />
<line x1="96.99" y1="165.14" x2="97.41" y2="165.14" stroke="#151515" stroke-width="0.6" />
<line x1="97.49" y1="166.51" x2="97.49" y2="167.21" stroke="#151515" stroke-width="0.6" />
<line x1="97.49" y1="166.51" x2="97.80" y2="166.51" stroke="#151515" stroke-width="0.6" />
<line x1="97.49" y1="167.21" x2="97.80" y2="167.21" stroke="#151515" stroke-width="0.6" />
<line x1="97.36" y1="167.91" x2="97.36" y2="168.86" stroke="#151515" stroke-width="0.6" />
<line x1="97.36" y1="167.91" x2="97.80" y2="167.91" stroke="#151515" stroke-width="0.6" />
<line x1="97.36" y1="168.86" x2="97.80" y2="168.86" stroke="#151515" stroke-width="0.6" />
<line x1="96.98" y1="166.86" x2="96.98" y2="168.39" stroke="#151515" stroke-width="0.6" />
<line x1="96.98" y1="166.86" x2="97.49" y2="166.86" stroke="#151515" stroke-width="0.6" />
<line x1="96.98" y1="168.39" x2="97.36" y2="168.39" stroke="#151515" stroke-width="0.6" />
<line x1="96.61" y1="164.57" x2="96.61" y2="167.62" stroke="#151515" stroke-width="0.6" />
<line x1="96.61" y1="164.57" x2="96.99" y2="164.57" stroke="#151515" stroke-width="0.6" />
<line x1="96.61" y1="167.62" x2="96.98" y2="167.62" stroke="#151515" stroke-width="0.6" />
<line x1="97.02" y1="170.01" x2="97.02" y2="170.82" stroke="#151515" stroke-width="0.6" />
<line x1="97.02" y1="170.01" x2="97.80" y2="170.01" stroke="#151515" stroke-width="0.6" />
<line x1="97.02" y1="170.82" x2="97.80" y2="170.82" stroke="#151515" stroke-width="0.6" />
<line x1="95.69" y1="170.41" x2="95.69" y2="171.67" stroke="#151515" stroke-width="0.6" />
<line x1="95.69" y1="170.41" x2="97.02" y2="170.41" stroke="#151515" stroke-width="0.6" />
<line x1="95.69" y1="171.67" x2="97.80" y2="171.67" stroke="#151515" stroke-width="0.6" />
<line x1="94.37" y1="166.10" x2="94.37" y2="171.04" stroke="#151515" stroke-width="0.6" />
<line x1="94.37" y1="166.10" x2="96.61" y2="166.10" stroke="#151515" stroke-width="0.6" />
<line x1="94.37" y1="171.04" x2="95.69" y2="171.04" stroke="#151515" stroke-width="0.6" />
<line x1="94.25" y1="173.93" x2="94.25" y2="174.89" stroke="#151515" stroke-width="0.6" />
<line x1="94.25" y1="173.93" x2="97.80" y2="173.93" stroke="#151515" stroke-width="0.6" />
<line x1="94.25" y1="174.89" x2="97.80" y2="174.89" stroke="#151515" stroke-width="0.6" />
<line x1="92.44" y1="172.78" x2="92.44" y2="174.41" stroke="#151515" stroke-width="0.6" />
<line x1="92.44" y1="172.78" x2="97.80" y2="172.78" stroke="#151515" stroke-width="0.6" />
<line x1="92.44" y1="174.41" x2="94.25" y2="174.41" stroke="#151515" stroke-width="0.6" />
<line x1="97.10" y1="175.51" x2="97.10" y2="176.29" stroke="#151515" stroke-width="0.6" />
<line x1="97.10" y1="175.51" x2="97.80" y2="175.51" stroke="#151515" stroke-width="0.6" />
<line x1="97.10" y1="176.29" x2="97.80" y2="176.29" stroke="#151515" stroke-width="0.6" />
<line x1="96.02" y1="175.90" x2="96.02" y2="177.34" stroke="#151515" stroke-width="0.6" />
<line x1="96.02" y1="175.90" x2="97.10" y2="175.90" stroke="#151515" stroke-width="0.6" />
<line x1="96.02" y1="177.34" x2="97.80" y2="177.34" stroke="#151515" stroke-width="0.6" />
<line x1="96.75" y1="179.24" x2="96.75" y2="179.94" stroke="#151515" stroke-width="0.6" />
<line x1="96.75" y1="179.24" x2="97.80" y2="179.24" stroke="#151515" stroke-width="0.6" />
<line x1="96.75" y1="179.94" x2="97.80" y2="179.94" stroke="#151515" stroke-width="0.6" />
<line x1="94.69" y1="178.40" x2="94.69" y2="179.59" stroke="#151515" stroke-width="0.6" />
<line x1="94.69" y1="178.40" x2="97.80" y2="178.40" stroke="#151515" stroke-width="0.6" />
<line x1="94.69" y1="179.59" x2="96.75" y2="179.59" stroke="#151515" stroke-width="0.6" />
<line x1="93.36" y1="176.62" x2="93.36" y2="178.99" stroke="#151515" stroke-width="0.6" />
<line x1="93.36" y1="176.62" x2="96.02" y2="176.62" stroke="#151515" stroke-width="0.6" />
<line x1="93.36" y1="178.99" x2="94.69" y2="178.99" stroke="#151515" stroke-width="0.6" />
<line x1="94.55" y1="180.86" x2="94.55" y2="181.76" stroke="#151515" stroke-width="0.6" />
<line x1="94.55" y1="180.86" x2="97.80" y2="180.86" stroke="#151515" stroke-width="0.6" />
<line x1="94.55" y1="181.76" x2="97.80" y2="181.76" stroke="#151515" stroke-width="0.6" />
<line x1="96.22" y1="183.61" x2="96.22" y2="184.65" stroke="#151515" stroke-width="0.6" />
<line x1="96.22" y1="183.61" x2="97.80" y2="183.61" stroke="#151515" stroke-width="0.6" />
<line x1="96.22" y1="184.65" x2="97.80" y2="184.65" stroke="#151515" stroke-width="0.6" />
<line x1="94.69" y1="182.63" x2="94.69" y2="184.13" stroke="#151515" stroke-width="0.6" />
<line x1="94.69" y1="182.63" x2="97.80" y2="182.63" stroke="#151515" stroke-width="0.6" />
<line x1="94.69" y1="184.13" x2="96.22" y2="184.13" stroke="#151515" stroke-width="0.6" />
<line x1="93.25" y1="181.31" x2="93.25" y2="183.38" stroke="#151515" stroke-width="0.6" />
<line x1="93.25" y1="181.31" x2="94.55" y2="181.31" stroke="#151515" stroke-width="0.6" />
<line x1="93.25" y1="183.38" x2="94.69" y2="183.38" stroke="#151515" stroke-width="0.6" />
<line x1="97.44" y1="187.74" x2="97.44" y2="188.57" stroke="#151515" stroke-width="0.6" />
<line x1="97.44" y1="187.74" x2="97.80" y2="187.74" stroke="#151515" stroke-width="0.6" />
<line x1="97.44" y1="188.57" x2="97.80" y2="188.57" stroke="#151515" stroke-width="0.6" />
<line x1="96.68" y1="186.83" x2="96.68" y2="188.15" stroke="#151515" stroke-width="0.6" />
<line x1="96.68" y1="186.83" x2="97.80" y2="186.83" stroke="#151515" stroke-width="0.6" />
<line x1="96.68" y1="188.15" x2="97.44" y2="188.15" stroke="#151515" stroke-width="0.6" />
<line x1="94.80" y1="185.80" x2="94.80" y2="187.49" stroke="#151515" stroke-width="0.6" />
<line x1="94.80" y1="185.80" x2="97.80" y2="185.80" stroke="#151515" stroke-width="0.6" />
<line x1="94.80" y1="187.49" x2="96.68" y2="187.49" stroke="#151515" stroke-width="0.6" />
<line x1="96.85" y1="189.36" x2="96.85" y2="190.36" stroke="#151515" stroke-width="0.6" />
<line x1="96.85" y1="189.36" x2="97.80" y2="189.36" stroke="#151515" stroke-width="0.6" />
<line x1="96.85" y1="190.36" x2="97.80" y2="190.36" stroke="#151515" stroke-width="0.6" />
<line x1="97.64" y1="191.30" x2="97.64" y2="192.01" stroke="#151515" stroke-width="0.6" />
<line x1="97.64" y1="191.30" x2="97.80" y2="191.30" stroke="#151515" stroke-width="0.6" />
<line x1="97.64" y1="192.01" x2="97.80" y2="192.01" stroke="#151515" stroke-width="0.6" />
<line x1="97.28" y1="191.65" x2="97.28" y2="192.77" stroke="#151515" stroke-width="0.6" />
<line x1="97.28" y1="191.65" x2="97.64" y2="191.65" stroke="#151515" stroke-width="0.6" />
<line x1="97.28" y1="192.77" x2="97.80" y2="192.77" stroke="#151515" stroke-width="0.6" />
<line x1="96.40" y1="189.86" x2="96.40" y2="192.21" stroke="#151515" stroke-width="0.6" />
<line x1="96.40" y1="189.86" x2="96.85" y2="189.86" stroke="#151515" stroke-width="0.6" />
<line x1="96.40" y1="192.21" x2="97.28" y2="192.21" stroke="#151515" stroke-width="0.6" />
<line x1="93.67" y1="186.64" x2="93.67" y2="191.04" stroke="#151515" stroke-width="0.6" />
<line x1="93.67" y1="186.64" x2="94.80" y2="186.64" stroke="#151515" stroke-width="0.6" />
<line x1="93.67" y1="191.04" x2="96.40" y2="191.04" stroke="#151515" stroke-width="0.6" />
<line x1="95.31" y1="193.75" x2="95.31" y2="194.60" stroke="#151515" stroke-width="0.6" />
<line x1="95.31" y1="193.75" x2="97.80" y2="193.75" stroke="#151515" stroke-width="0.6" />
<line x1="95.31" y1="194.60" x2="97.80" y2="194.60" stroke="#151515" stroke-width="0.6" />
<line x1="96.87" y1="195.28" x2="96.87" y2="195.94" stroke="#151515" stroke-width="0.6" />
<line x1="96.87" y1="195.28" x2="97.80" y2="195.28" stroke="#151515" stroke-width="0.6" />
<line x1="96.87" y1="195.94" x2="97.80" y2="195.94" stroke="#151515" stroke-width="0.6" />
<line x1="96.98" y1="196.72" x2="96.98" y2="197.58" stroke="#151515" stroke-width="0.6" />
<line x1="96.98" y1="196.72" x2="97.80" y2="196.72" stroke="#151515" stroke-width="0.6" />
<line x1="96.98" y1="197.58" x2="97.80" y2="197.58" stroke="#151515" stroke-width="0.6" />
<line x1="96.49" y1="195.61" x2="96.49" y2="197.15" stroke="#151515" stroke-width="0.6" />
<line x1="96.49" y1="195.61" x2="96.87" y2="195.61" stroke="#151515" stroke-width="0.6" />
<line x1="96.49" y1="197.15" x2="96.98" y2="197.15" stroke="#151515" stroke-width="0.6" />
<line x1="93.51" y1="194.18" x2="93.51" y2="196.38" stroke="#151515" stroke-width="0.6" />
<line x1="93.51" y1="194.18" x2="95.31" y2="194.18" stroke="#151515" stroke-width="0.6" />
<line x1="93.51" y1="196.38" x2="96.49" y2="196.38" stroke="#151515" stroke-width="0.6" />
<line x1="97.24" y1="198.24" x2="97.24" y2="199.00" stroke="#151515" stroke-width="0.6" />
<line x1="97.24" y1="198.24" x2="97.80" y2="198.24" stroke="#151515" stroke-width="0.6" />
<line x1="97.24" y1="199.00" x2="97.80" y2="199.00" stroke="#151515" stroke-width="0.6" />
<line x1="97.19" y1="199.87" x2="97.19" y2="200.66" stroke="#151515" stroke-width="0.6" />
<line x1="97.19" y1="199.87" x2="97.80" y2="199.87" stroke="#151515" stroke-width="0.6" />
<line x1="97.19" y1="200.66" x2="97.80" y2="200.66" stroke="#151515" stroke-width="0.6" />
<line x1="96.41" y1="198.62" x2="96.41" y2="200.26" stroke="#151515" stroke-width="0.6" />
<line x1="96.41" y1="198.62" x2="97.24" y2="198.62" stroke="#151515" stroke-width="0.6" />
<line x1="96.41" y1="200.26" x2="97.19" y2="200.26" stroke="#151515" stroke-width="0.6" />
<line x1="96.90" y1="201.51" x2="96.90" y2="202.29" stroke="#151515" stroke-width="0.6" />
<line x1="96.90" y1="201.51" x2="97.80" y2="201.51" stroke="#151515" stroke-width="0.6" />
<line x1="96.90" y1="202.29" x2="97.80" y2="202.29" stroke="#151515" stroke-width="0.6" />
<line x1="97.35" y1="204.01" x2="97.35" y2="204.66" stroke="#151515" stroke-width="0.6" />
<line x1="97.35" y1="204.01" x2="97.80" y2="204.01" stroke="#151515" stroke-width="0.6" />
<line x1="97.35" y1="204.66" x2="97.80" y2="204.66" stroke="#151515" stroke-width="0.6" />
<line x1="96.71" y1="203.09" x2="96.71" y2="204.33" stroke="#151515" stroke-width="0.6" />
<line x1="96.71" y1="203.09" x2="97.80" y2="203.09" stroke="#151515" stroke-width="0.6" />
<line x1="96.71" y1="204.33" x2="97.35" y2="204.33" stroke="#151515" stroke-width="0.6" />
<line x1="95.79" y1="201.90" x2="95.79" y2="203.71" stroke="#151515" stroke-width="0.6" />
<line x1="95.79" y1="201.90" x2="96.90" y2="201.90" stroke="#151515" stroke-width="0.6" />
<line x1="95.79" y1="203.71" x2="96.71" y2="203.71" stroke="#151515" stroke-width="0.6" />
<line x1="94.58" y1="199.44" x2="94.58" y2="202.80" stroke="#151515" stroke-width="0.6" />
<line x1="94.58" y1="199.44" x2="96.41" y2="199.44" stroke="#151515" stroke-width="0.6" />
<line x1="94.58" y1="202.80" x2="95.79" y2="202.80" stroke="#151515" stroke-width="0.6" />
<line x1="97.40" y1="205.48" x2="97.40" y2="206.46" stroke="#151515" stroke-width="0.6" />
<line x1="97.40" y1="205.48" x2="97.80" y2="205.48" stroke="#151515" stroke-width="0.6" />
<line x1="97.40" y1="206.46" x2="97.80" y2="206.46" stroke="#151515" stroke-width="0.6" />
<line x1="97.06" y1="205.97" x2="97.06" y2="207.33" stroke="#151515" stroke-width="0.6" />
<line x1="97.06" y1="205.97" x2="97.40" y2="205.97" stroke="#151515" stroke-width="0.6" />
<line x1="97.06" y1="207.33" x2="97.80" y2="207.33" stroke="#151515" stroke-width="0.6" />
<line x1="97.60" y1="208.20" x2="97.60" y2="209.05" stroke="#151515" stroke-width="0.6" />
<line x1="97.60" y1="208.20" x2="97.80" y2="208.20" stroke="#151515" stroke-width="0.6" />
<line x1="97.60" y1="209.05" x2="97.80" y2="209.05" stroke="#151515" stroke-width="0.6" />
<line x1="97.39" y1="208.62" x2="97.39" y2="210.04" stroke="#151515" stroke-width="0.6" />
<line x1="97.39" y1="208.62" x2="97.60" y2="208.62" stroke="#151515" stroke-width="0.6" />
<line x1="97.39" y1="210.04" x2="97.80" y2="210.04" stroke="#151515" stroke-width="0.6" />
<line x1="96.70" y1="206.65" x2="96.70" y2="209.33" stroke="#151515" stroke-width="0.6" />
<line x1="96.70" y1="206.65" x2="97.06" y2="206.65" stroke="#151515" stroke-width="0.6" />
<line x1="96.70" y1="209.33" x2="97.39" y2="209.33" stroke="#151515" stroke-width="0.6" />
<line x1="97.04" y1="210.83" x2="97.04" y2="211.54" stroke="#151515" stroke-width="0.6" />
<line x1="97.04" y1="210.83" x2="97.80" y2="210.83" stroke="#151515" stroke-width="0.6" />
<line x1="97.04" y1="211.54" x2="97.80" y2="211.54" stroke="#151515" stroke-width="0.6" />
<line x1="96.02" y1="211.18" x2="96.02" y2="212.55" stroke="#151515" stroke-width="0.6" />
<line x1="96.02" y1="211.18" x2="97.04" y2="211.18" stroke="#151515" stroke-width="0.6" />
<line x1="96.02" y1="212.55" x2="97.80" y2="212.55" stroke="#151515" stroke-width="0.6" />
<line x1="94.37" y1="207.99" x2="94.37" y2="211.87" stroke="#151515" stroke-width="0.6" />
<line x1="94.37" y1="207.99" x2="96.70" y2="207.99" stroke="#151515" stroke-width="0.6" />
<line x1="94.37" y1="211.87" x2="96.02" y2="211.87" stroke="#151515" stroke-width="0.6" />
<line x1="96.06" y1="214.36" x2="96.06" y2="215.09" stroke="#151515" stroke-width="0.6" />
<line x1="96.06" y1="214.36" x2="97.80" y2="214.36" stroke="#151515" stroke-width="0.6" />
<line x1="96.06" y1="215.09" x2="97.80" y2="215.09" stroke="#151515" stroke-width="0.6" />
<line x1="95.28" y1="213.58" x2="95.28" y2="214.72" stroke="#151515" stroke-width="0.6" />
<line x1="95.28" y1="213.58" x2="97.80" y2="213.58" stroke="#151515" stroke-width="0.6" />
<line x1="95.28" y1="214.72" x2="96.06" y2="214.72" stroke="#151515" stroke-width="0.6" />
<line x1="96.73" y1="216.47" x2="96.73" y2="217.13" stroke="#151515" stroke-width="0.6" />
<line x1="96.73" y1="216.47" x2="97.80" y2="216.47" stroke="#151515" stroke-width="0.6" />
<line x1="96.73" y1="217.13" x2="97.80" y2="217.13" stroke="#151515" stroke-width="0.6" />
<line x1="95.95" y1="215.81" x2="95.95" y2="216.80" stroke="#151515" stroke-width="0.6" />
<line x1="95.95" y1="215.81" x2="97.80" y2="215.81" stroke="#151515" stroke-width="0.6" />
<line x1="95.95" y1="216.80" x2="96.73" y2="216.80" stroke="#151515" stroke-width="0.6" />
<line x1="94.36" y1="214.15" x2="94.36" y2="216.30" stroke="#151515" stroke-width="0.6" />
<line x1="94.36" y1="214.15" x2="95.28" y2="214.15" stroke="#151515" stroke-width="0.6" />
<line x1="94.36" y1="216.30" x2="95.95" y2="216.30" stroke="#151515" stroke-width="0.6" />
<line x1="96.51" y1="217.64" x2="96.51" y2="218.32" stroke="#151515" stroke-width="0.6" />
<line x1="96.51" y1="217.64" x2="97.80" y2="217.64" stroke="#151515" stroke-width="0.6" />
<line x1="96.51" y1="218.32" x2="97.80" y2="218.32" stroke="#151515" stroke-width="0.6" />
<line x1="96.61" y1="219.23" x2="96.61" y2="219.89" stroke="#151515" stroke-width="0.6" />
<line x1="96.61" y1="219.23" x2="97.80" y2="219.23" stroke="#151515" stroke-width="0.6" />
<line x1="96.61" y1="219.89" x2="97.80" y2="219.89" stroke="#151515" stroke-width="0.6" />
<line x1="95.80" y1="219.56" x2="95.80" y2="220.71" stroke="#151515" stroke-width="0.6" />
<line x1="95.80" y1="219.56" x2="96.61" y2="219.56" stroke="#151515" stroke-width="0.6" />
<line x1="95.80" y1="220.71" x2="97.80" y2="220.71" stroke="#151515" stroke-width="0.6" />
<line x1="94.37" y1="217.98" x2="94.37" y2="220.14" stroke="#151515" stroke-width="0.6" />
<line x1="94.37" y1="217.98" x2="96.51" y2="217.98" stroke="#151515" stroke-width="0.6" />
<line x1="94.37" y1="220.14" x2="95.80" y2="220.14" stroke="#151515" stroke-width="0.6" />
<line x1="97.09" y1="222.96" x2="97.09" y2="223.87" stroke="#151515" stroke-width="0.6" />
<line x1="97.09" y1="222.96" x2="97.80" y2="222.96" stroke="#151515" stroke-width="0.6" />
<line x1="97.09" y1="223.87" x2="97.80" y2="223.87" stroke="#151515" stroke-width="0.6" />
<line x1="96.37" y1="221.83" x2="96.37" y2="223.41" stroke="#151515" stroke-width="0.6" />
<line x1="96.37" y1="221.83" x2="97.80" y2="221.83" stroke="#151515" stroke-width="0.6" />
<line x1="96.37" y1="223.41" x2="97.09" y2="223.41" stroke="#151515" stroke-width="0.6" />
<line x1="95.99" y1="224.53" x2="95.99" y2="225.38" stroke="#151515" stroke-width="0.6" />
<line x1="95.99" y1="224.53" x2="97.80" y2="224.53" stroke="#151515" stroke-width="0.6" />
<line x1="95.99" y1="225.38" x2="97.80" y2="225.38" stroke="#151515" stroke-width="0.6" />
<line x1="94.69" y1="222.62" x2="94.69" y2="224.95" stroke="#151515" stroke-width="0.6" />
<line x1="94.69" y1="222.62" x2="96.37" y2="222.62" stroke="#151515" stroke-width="0.6" />
<line x1="94.69" y1="224.95" x2="95.99" y2="224.95" stroke="#151515" stroke-width="0.6" />
<line x1="92.30" y1="219.06" x2="92.30" y2="223.79" stroke="#151515" stroke-width="0.6" />
<line x1="92.30" y1="219.06" x2="94.37" y2="219.06" stroke="#151515" stroke-width="0.6" />
<line x1="92.30" y1="223.79" x2="94.69" y2="223.79" stroke="#151515" stroke-width="0.6" />
<line x1="96.28" y1="226.11" x2="96.28" y2="226.76" stroke="#151515" stroke-width="0.6" />
<line x1="96.28" y1="226.11" x2="97.80" y2="226.11" stroke="#151515" stroke-width="0.6" />
<line x1="96.28" y1="226.76" x2="97.80" y2="226.76" stroke="#151515" stroke-width="0.6" />
<line x1="95.19" y1="226.43" x2="95.19" y2="227.50" stroke="#151515" stroke-width="0.6" />
<line x1="95.19" y1="226.43" x2="96.28" y2="226.43" stroke="#151515" stroke-width="0.6" />
<line x1="95.19" y1="227.50" x2="97.80" y2="227.50" stroke="#151515" stroke-width="0.6" />
<line x1="96.03" y1="228.22" x2="96.03" y2="229.05" stroke="#151515" stroke-width="0.6" />
<line x1="96.03" y1="228.22" x2="97.80" y2="228.22" stroke="#151515" stroke-width="0.6" />
<line x1="96.03" y1="229.05" x2="97.80" y2="229.05" stroke="#151515" stroke-width="0.6" />
<line x1="94.00" y1="226.97" x2="94.00" y2="228.63" stroke="#151515" stroke-width="0.6" />
<line x1="94.00" y1="226.97" x2="95.19" y2="226.97" stroke="#151515" stroke-width="0.6" />
<line x1="94.00" y1="228.63" x2="96.03" y2="228.63" stroke="#151515" stroke-width="0.6" />
<line x1="97.04" y1="229.90" x2="97.04" y2="230.88" stroke="#151515" stroke-width="0.6" />
<line x1="97.04" y1="229.90" x2="97.80" y2="229.90" stroke="#151515" stroke-width="0.6" />
<line x1="97.04" y1="230.88" x2="97.80" y2="230.88" stroke="#151515" stroke-width="0.6" />
<line x1="97.08" y1="231.88" x2="97.08" y2="232.60" stroke="#151515" stroke-width="0.6" />
<line x1="97.08" y1="231.88" x2="97.80" y2="231.88" stroke="#151515" stroke-width="0.6" />
<line x1="97.08" y1="232.60" x2="97.80" y2="232.60" stroke="#151515" stroke-width="0.6" />
<line x1="96.49" y1="232.24" x2="96.49" y2="233.46" stroke="#151515" stroke-width="0.6" />
<line x1="96.49" y1="232.24" x2="97.08" y2="232.24" stroke="#151515" stroke-width="0.6" />
<line x1="96.49" y1="233.46" x2="97.80" y2="233.46" stroke="#151515" stroke-width="0.6" />
<line x1="95.31" y1="230.39" x2="95.31" y2="232.85" stroke="#151515" stroke-width="0.6" />
<line x1="95.31" y1="230.39" x2="97.04" y2="230.39" stroke="#151515" stroke-width="0.6" />
<line x1="95.31" y1="232.85" x2="96.49" y2="232.85" stroke="#151515" stroke-width="0.6" />
<line x1="95.14" y1="234.57" x2="95.14" y2="235.58" stroke="#151515" stroke-width="0.6" />
<line x1="95.14" y1="234.57" x2="97.80" y2="234.57" stroke="#151515" stroke-width="0.6" />
<line x1="95.14" y1="235.58" x2="97.80" y2="235.58" stroke="#151515" stroke-width="0.6" />
<line x1="93.08" y1="231.62" x2="93.08" y2="235.08" stroke="#151515" stroke-width="0.6" />
<line x1="93.08" y1="231.62" x2="95.31" y2="231.62" stroke="#151515" stroke-width="0.6" />
<line x1="93.08" y1="235.08" x2="95.14" y2="235.08" stroke="#151515" stroke-width="0.6" />
<line x1="96.26" y1="236.44" x2="96.26" y2="237.09" stroke="#151515" stroke-width="0.6" />
<line x1="96.26" y1="236.44" x2="97.80" y2="236.44" stroke="#151515" stroke-width="0.6" />
<line x1="96.26" y1="237.09" x2="97.80" y2="237.09" stroke="#151515" stroke-width="0.6" />
<line x1="96.06" y1="237.70" x2="96.06" y2="238.61" stroke="#151515" stroke-width="0.6" />
<line x1="96.06" y1="237.70" x2="97.80" y2="237.70" stroke="#151515" stroke-width="0.6" />
<line x1="96.06" y1="238.61" x2="97.80" y2="238.61" stroke="#151515" stroke-width="0.6" />
<line x1="94.56" y1="236.77" x2="94.56" y2="238.15" stroke="#151515" stroke-width="0.6" />
<line x1="94.56" y1="236.77" x2="96.26" y2="236.77" stroke="#151515" stroke-width="0.6" />
<line x1="94.56" y1="238.15" x2="96.06" y2="238.15" stroke="#151515" stroke-width="0.6" />
<line x1="96.93" y1="239.80" x2="96.93" y2="240.98" stroke="#151515" stroke-width="0.6" />
<line x1="96.93" y1="239.80" x2="97.80" y2="239.80" stroke="#151515" stroke-width="0.6" />
<line x1="96.93" y1="240.98" x2="97.80" y2="240.98" stroke="#151515" stroke-width="0.6" />
<line x1="97.37" y1="241.81" x2="97.37" y2="242.48" stroke="#151515" stroke-width="0.6" />
<line x1="97.37" y1="241.81" x2="97.80" y2="241.81" stroke="#151515" stroke-width="0.6" />
<line x1="97.37" y1="242.48" x2="97.80" y2="242.48" stroke="#151515" stroke-width="0.6" />
<line x1="96.90" y1="242.14" x2="96.90" y2="243.32" stroke="#151515" stroke-width="0.6" />
<line x1="96.90" y1="242.14" x2="97.37" y2="242.14" stroke="#151515" stroke-width="0.6" />
<line x1="96.90" y1="243.32" x2="97.80" y2="243.32" stroke="#151515" stroke-width="0.6" />
<line x1="96.35" y1="240.39" x2="96.35" y2="242.73" stroke="#151515" stroke-width="0.6" />
<line x1="96.35" y1="240.39" x2="96.93" y2="240.39" stroke="#151515" stroke-width="0.6" />
<line x1="96.35" y1="242.73" x2="96.90" y2="242.73" stroke="#151515" stroke-width="0.6" />
<line x1="93.04" y1="237.46" x2="93.04" y2="241.56" stroke="#151515" stroke-width="0.6" />
<line x1="93.04" y1="237.46" x2="94.56" y2="237.46" stroke="#151515" stroke-width="0.6" />
<line x1="93.04" y1="241.56" x2="96.35" y2="241.56" stroke="#151515" stroke-width="0.6" />
<line x1="97.13" y1="244.10" x2="97.13" y2="244.77" stroke="#151515" stroke-width="0.6" />
<line x1="97.13" y1="244.10" x2="97.80" y2="244.10" stroke="#151515" stroke-width="0.6" />
<line x1="97.13" y1="244.77" x2="97.80" y2="244.77" stroke="#151515" stroke-width="0.6" />
<line x1="96.26" y1="244.44" x2="96.26" y2="245.71" stroke="#151515" stroke-width="0.6" />
<line x1="96.26" y1="244.44" x2="97.13" y2="244.44" stroke="#151515" stroke-width="0.6" />
<line x1="96.26" y1="245.71" x2="97.80" y2="245.71" stroke="#151515" stroke-width="0.6" />
<line x1="97.23" y1="247.91" x2="97.23" y2="248.67" stroke="#151515" stroke-width="0.6" />
<line x1="97.23" y1="247.91" x2="97.80" y2="247.91" stroke="#151515" stroke-width="0.6" />
<line x1="97.23" y1="248.67" x2="97.80" y2="248.67" stroke="#151515" stroke-width="0.6" />
<line x1="97.01" y1="246.87" x2="97.01" y2="248.29" stroke="#151515" stroke-width="0.6" />
<line x1="97.01" y1="246.87" x2="97.80" y2="246.87" stroke="#151515" stroke-width="0.6" />
<line x1="97.01" y1="248.29" x2="97.23" y2="248.29" stroke="#151515" stroke-width="0.6" />
<line x1="97.23" y1="249.19" x2="97.23" y2="249.84" stroke="#151515" stroke-width="0.6" />
<line x1="97.23" y1="249.19" x2="97.80" y2="249.19" stroke="#151515" stroke-width="0.6" />
<line x1="97.23" y1="249.84" x2="97.80" y2="249.84" stroke="#151515" stroke-width="0.6" />
<line x1="97.32" y1="250.71" x2="97.32" y2="251.63" stroke="#151515" stroke-width="0.6" />
<line x1="97.32" y1="250.71" x2="97.80" y2="250.71" stroke="#151515" stroke-width="0.6" />
<line x1="97.32" y1="251.63" x2="97.80" y2="251.63" stroke="#151515" stroke-width="0.6" />
<line x1="96.38" y1="249.51" x2="96.38" y2="251.17" stroke="#151515" stroke-width="0.6" />
<line x1="96.38" y1="249.51" x2="97.23" y2="249.51" stroke="#151515" stroke-width="0.6" />
<line x1="96.38" y1="251.17" x2="97.32" y2="251.17" stroke="#151515" stroke-width="0.6" />
<line x1="95.65" y1="247.58" x2="95.65" y2="250.34" stroke="#151515" stroke-width="0.6" />
<line x1="95.65" y1="247.58" x2="97.01" y2="247.58" stroke="#151515" stroke-width="0.6" />
<line x1="95.65" y1="250.34" x2="96.38" y2="250.34" stroke="#151515" stroke-width="0.6" />
<line x1="93.94" y1="245.08" x2="93.94" y2="248.96" stroke="#151515" stroke-width="0.6" />
<line x1="93.94" y1="245.08" x2="96.26" y2="245.08" stroke="#151515" stroke-width="0.6" />
<line x1="93.94" y1="248.96" x2="95.65" y2="248.96" stroke="#151515" stroke-width="0.6" />
<line x1="96.91" y1="252.48" x2="96.91" y2="253.14" stroke="#151515" stroke-width="0.6" />
<line x1="96.91" y1="252.48" x2="97.80" y2="252.48" stroke="#151515" stroke-width="0.6" />
<line x1="96.91" y1="253.14" x2="97.80" y2="253.14" stroke="#151515" stroke-width="0.6" />
<line x1="95.82" y1="252.81" x2="95.82" y2="253.82" stroke="#151515" stroke-width="0.6" />
<line x1="95.82" y1="252.81" x2="96.91" y2="252.81" stroke="#151515" stroke-width="0.6" />
<line x1="95.82" y1="253.82" x2="97.80" y2="253.82" stroke="#151515" stroke-width="0.6" />
<line x1="97.53" y1="255.67" x2="97.53" y2="256.45" stroke="#151515" stroke-width="0.6" />
<line x1="97.53" y1="255.67" x2="97.80" y2="255.67" stroke="#151515" stroke-width="0.6" />
<line x1="97.53" y1="256.45" x2="97.80" y2="256.45" stroke="#151515" stroke-width="0.6" />
<line x1="96.95" y1="254.72" x2="96.95" y2="256.06" stroke="#151515" stroke-width="0.6" />
<line x1="96.95" y1="254.72" x2="97.80" y2="254.72" stroke="#151515" stroke-width="0.6" />
<line x1="96.95" y1="256.06" x2="97.53" y2="256.06" stroke="#151515" stroke-width="0.6" />
<line x1="97.37" y1="257.38" x2="97.37" y2="258.30" stroke="#151515" stroke-width="0.6" />
<line x1="97.37" y1="257.38" x2="97.80" y2="257.38" stroke="#151515" stroke-width="0.6" />
<line x1="97.37" y1="258.30" x2="97.80" y2="258.30" stroke="#151515" stroke-width="0.6" />
<line x1="96.63" y1="255.39" x2="96.63" y2="257.84" stroke="#151515" stroke-width="0.6" />
<line x1="96.63" y1="255.39" x2="96.95" y2="255.39" stroke="#151515" stroke-width="0.6" />
<line x1="96.63" y1="257.84" x2="97.37" y2="257.84" stroke="#151515" stroke-width="0.6" />
<line x1="94.74" y1="253.31" x2="94.74" y2="256.62" stroke="#151515" stroke-width="0.6" />
<line x1="94.74" y1="253.31" x2="95.82" y2="253.31" stroke="#151515" stroke-width="0.6" />
<line x1="94.74" y1="256.62" x2="96.63" y2="256.62" stroke="#151515" stroke-width="0.6" />
<line x1="95.17" y1="258.97" x2="95.17" y2="259.65" stroke="#151515" stroke-width="0.6" />
<line x1="95.17" y1="258.97" x2="97.80" y2="258.97" stroke="#151515" stroke-width="0.6" />
<line x1="95.17" y1="259.65" x2="97.80" y2="259.65" stroke="#151515" stroke-width="0.6" />
<line x1="95.15" y1="260.26" x2="95.15" y2="261.09" stroke="#151515" stroke-width="0.6" />
<line x1="95.15" y1="260.26" x2="97.80" y2="260.26" stroke="#151515" stroke-width="0.6" />
<line x1="95.15" y1="261.09" x2="97.80" y2="261.09" stroke="#151515" stroke-width="0.6" />
<line x1="94.14" y1="259.31" x2="94.14" y2="260.67" stroke="#151515" stroke-width="0.6" />
<line x1="94.14" y1="259.31" x2="95.17" y2="259.31" stroke="#151515" stroke-width="0.6" />
<line x1="94.14" y1="260.67" x2="95.15" y2="260.67" stroke="#151515" stroke-width="0.6" />
<line x1="95.94" y1="261.92" x2="95.94" y2="262.59" stroke="#151515" stroke-width="0.6" />
<line x1="95.94" y1="261.92" x2="97.80" y2="261.92" stroke="#151515" stroke-width="0.6" />
<line x1="95.94" y1="262.59" x2="97.80" y2="262.59" stroke="#151515" stroke-width="0.6" />
<line x1="94.28" y1="262.25" x2="94.28" y2="263.52" stroke="#151515" stroke-width="0.6" />
<line x1="94.28" y1="262.25" x2="95.94" y2="262.25" stroke="#151515" stroke-width="0.6" />
<line x1="94.28" y1="263.52" x2="97.80" y2="263.52" stroke="#151515" stroke-width="0.6" />
<line x1="92.78" y1="259.99" x2="92.78" y2="262.89" stroke="#151515" stroke-width="0.6" />
<line x1="92.78" y1="259.99" x2="94.14" y2="259.99" stroke="#151515" stroke-width="0.6" />
<line x1="92.78" y1="262.89" x2="94.28" y2="262.89" stroke="#151515" stroke-width="0.6" />
<line x1="96.57" y1="264.63" x2="96.57" y2="265.61" stroke="#151515" stroke-width="0.6" />
<line x1="96.57" y1="264.63" x2="97.80" y2="264.63" stroke="#151515" stroke-width="0.6" />
<line x1="96.57" y1="265.61" x2="97.80" y2="265.61" stroke="#151515" stroke-width="0.6" />
<line x1="96.00" y1="266.45" x2="96.00" y2="267.42" stroke="#151515" stroke-width="0.6" />
<line x1="96.00" y1="266.45" x2="97.80" y2="266.45" stroke="#151515" stroke-width="0.6" />
<line x1="96.00" y1="267.42" x2="97.80" y2="267.42" stroke="#151515" stroke-width="0.6" />
<line x1="94.19" y1="265.12" x2="94.19" y2="266.93" stroke="#151515" stroke-width="0.6" />
<line x1="94.19" y1="265.12" x2="96.57" y2="265.12" stroke="#151515" stroke-width="0.6" />
<line x1="94.19" y1="266.93" x2="96.00" y2="266.93" stroke="#151515" stroke-width="0.6" />
<line x1="95.79" y1="268.50" x2="95.79" y2="269.35" stroke="#151515" stroke-width="0.6" />
<line x1="95.79" y1="268.50" x2="97.80" y2="268.50" stroke="#151515" stroke-width="0.6" />
<line x1="95.79" y1="269.35" x2="97.80" y2="269.35" stroke="#151515" stroke-width="0.6" />
<line x1="94.59" y1="270.30" x2="94.59" y2="271.35" stroke="#151515" stroke-width="0.6" />
<line x1="94.59" y1="270.30" x2="97.80" y2="270.30" stroke="#151515" stroke-width="0.6" />
<line x1="94.59" y1="271.35" x2="97.80" y2="271.35" stroke="#151515" stroke-width="0.6" />
<line x1="93.00" y1="268.92" x2="93.00" y2="270.82" stroke="#151515" stroke-width="0.6" />
<line x1="93.00" y1="268.92" x2="95.79" y2="268.92" stroke="#151515" stroke-width="0.6" />
<line x1="93.00" y1="270.82" x2="94.59" y2="270.82" stroke="#151515" stroke-width="0.6" />
<line x1="97.19" y1="273.16" x2="97.19" y2="274.06" stroke="#151515" stroke-width="0.6" />
<line x1="97.19" y1="273.16" x2="97.80" y2="273.16" stroke="#151515" stroke-width="0.6" />
<line x1="97.19" y1="274.06" x2="97.80" y2="274.06" stroke="#151515" stroke-width="0.6" />
<line x1="95.92" y1="272.23" x2="95.92" y2="273.61" stroke="#151515" stroke-width="0.6" />
<line x1="95.92" y1="272.23" x2="97.80" y2="272.23" stroke="#151515" stroke-width="0.6" />
<line x1="95.92" y1="273.61" x2="97.19" y2="273.61" stroke="#151515" stroke-width="0.6" />
<line x1="96.72" y1="275.01" x2="96.72" y2="275.82" stroke="#151515" stroke-width="0.6" />
<line x1="96.72" y1="275.01" x2="97.80" y2="275.01" stroke="#151515" stroke-width="0.6" />
<line x1="96.72" y1="275.82" x2="97.80" y2="275.82" stroke="#151515" stroke-width="0.6" />
<line x1="95.25" y1="272.92" x2="95.25" y2="275.41" stroke="#151515" stroke-width="0.6" />
<line x1="95.25" y1="272.92" x2="95.92" y2="272.92" stroke="#151515" stroke-width="0.6" />
<line x1="95.25" y1="275.41" x2="96.72" y2="275.41" stroke="#151515" stroke-width="0.6" />
<line x1="96.09" y1="277.18" x2="96.09" y2="277.92" stroke="#151515" stroke-width="0.6" />
<line x1="96.09" y1="277.18" x2="97.80" y2="277.18" stroke="#151515" stroke-width="0.6" />
<line x1="96.09" y1="277.92" x2="97.80" y2="277.92" stroke="#151515" stroke-width="0.6" />
<line x1="94.91" y1="276.48" x2="94.91" y2="277.55" stroke="#151515" stroke-width="0.6" />
<line x1="94.91" y1="276.48" x2="97.80" y2="276.48" stroke="#151515" stroke-width="0.6" />
<line x1="94.91" y1="277.55" x2="96.09" y2="277.55" stroke="#151515" stroke-width="0.6" />
<line x1="93.02" y1="274.17" x2="93.02" y2="277.02" stroke="#151515" stroke-width="0.6" />
<line x1="93.02" y1="274.17" x2="95.25" y2="274.17" stroke="#151515" stroke-width="0.6" />
<line x1="93.02" y1="277.02" x2="94.91" y2="277.02" stroke="#151515" stroke-width="0.6" />
<line x1="96.17" y1="278.93" x2="96.17" y2="279.83" stroke="#151515" stroke-width="0.6" />
<line x1="96.17" y1="278.93" x2="97.80" y2="278.93" stroke="#151515" stroke-width="0.6" />
<line x1="96.17" y1="279.83" x2="97.80" y2="279.83" stroke="#151515" stroke-width="0.6" />
<line x1="96.84" y1="280.67" x2="96.84" y2="281.50" stroke="#151515" stroke-width="0.6" />
<line x1="96.84" y1="280.67" x2="97.80" y2="280.67" stroke="#151515" stroke-width="0.6" />
<line x1="96.84" y1="281.50" x2="97.80" y2="281.50" stroke="#151515" stroke-width="0.6" />
<line x1="96.82" y1="282.09" x2="96.82" y2="282.90" stroke="#151515" stroke-width="0.6" />
<line x1="96.82" y1="282.09" x2="97.80" y2="282.09" stroke="#151515" stroke-width="0.6" />
<line x1="96.82" y1="282.90" x2="97.80" y2="282.90" stroke="#151515" stroke-width="0.6" />
<line x1="95.81" y1="281.08" x2="95.81" y2="282.50" stroke="#151515" stroke-width="0.6" />
<line x1="95.81" y1="281.08" x2="96.84" y2="281.08" stroke="#151515" stroke-width="0.6" />
<line x1="95.81" y1="282.50" x2="96.82" y2="282.50" stroke="#151515" stroke-width="0.6" />
<line x1="93.46" y1="279.38" x2="93.46" y2="281.79" stroke="#151515" stroke-width="0.6" />
<line x1="93.46" y1="279.38" x2="96.17" y2="279.38" stroke="#151515" stroke-width="0.6" />
<line x1="93.46" y1="281.79" x2="95.81" y2="281.79" stroke="#151515" stroke-width="0.6" />
<line x1="96.79" y1="283.75" x2="96.79" y2="284.55" stroke="#151515" stroke-width="0.6" />
<line x1="96.79" y1="283.75" x2="97.80" y2="283.75" stroke="#151515" stroke-width="0.6" />
<line x1="96.79" y1="284.55" x2="97.80" y2="284.55" stroke="#151515" stroke-width="0.6" />
<line x1="96.82" y1="285.62" x2="96.82" y2="286.47" stroke="#151515" stroke-width="0.6" />
<line x1="96.82" y1="285.62" x2="97.80" y2="285.62" stroke="#151515" stroke-width="0.6" />
<line x1="96.82" y1="286.47" x2="97.80" y2="286.47" stroke="#151515" stroke-width="0.6" />
<line x1="96.37" y1="284.15" x2="96.37" y2="286.04" stroke="#151515" stroke-width="0.6" />
<line x1="96.37" y1="284.15" x2="96.79" y2="284.15" stroke="#151515" stroke-width="0.6" />
<line x1="96.37" y1="286.04" x2="96.82" y2="286.04" stroke="#151515" stroke-width="0.6" />
<line x1="96.11" y1="287.12" x2="96.11" y2="287.98" stroke="#151515" stroke-width="0.6" />
<line x1="96.11" y1="287.12" x2="97.80" y2="287.12" stroke="#151515" stroke-width="0.6" />
<line x1="96.11" y1="287.98" x2="97.80" y2="287.98" stroke="#151515" stroke-width="0.6" />
<line x1="94.76" y1="285.10" x2="94.76" y2="287.55" stroke="#151515" stroke-width="0.6" />
<line x1="94.76" y1="285.10" x2="96.37" y2="285.10" stroke="#151515" stroke-width="0.6" />
<line x1="94.76" y1="287.55" x2="96.11" y2="287.55" stroke="#151515" stroke-width="0.6" />
<line x1="96.64" y1="288.93" x2="96.64" y2="289.58" stroke="#151515" stroke-width="0.6" />
<line x1="96.64" y1="288.93" x2="97.80" y2="288.93" stroke="#151515" stroke-width="0.6" />
<line x1="96.64" y1="289.58" x2="97.80" y2="289.58" stroke="#151515" stroke-width="0.6" />
<line x1="96.19" y1="290.37" x2="96.19" y2="291.37" stroke="#151515" stroke-width="0.6" />
<line x1="96.19" y1="290.37" x2="97.80" y2="290.37" stroke="#151515" stroke-width="0.6" />
<line x1="96.19" y1="291.37" x2="97.80" y2="291.37" stroke="#151515" stroke-width="0.6" />
<line x1="95.62" y1="289.25" x2="95.62" y2="290.87" stroke="#151515" stroke-width="0.6" />
<line x1="95.62" y1="289.25" x2="96.64" y2="289.25" stroke="#151515" stroke-width="0.6" />
<line x1="95.62" y1="290.87" x2="96.19" y2="290.87" stroke="#151515" stroke-width="0.6" />
<line x1="93.74" y1="286.32" x2="93.74" y2="290.06" stroke="#151515" stroke-width="0.6" />
<line x1="93.74" y1="286.32" x2="94.76" y2="286.32" stroke="#151515" stroke-width="0.6" />
<line x1="93.74" y1="290.06" x2="95.62" y2="290.06" stroke="#151515" stroke-width="0.6" />
<line x1="96.26" y1="293.16" x2="96.26" y2="294.16" stroke="#151515" stroke-width="0.6" />
<line x1="96.26" y1="293.16" x2="97.80" y2="293.16" stroke="#151515" stroke-width="0.6" />
<line x1="96.26" y1="294.16" x2="97.80" y2="294.16" stroke="#151515" stroke-width="0.6" />
<line x1="95.64" y1="292.24" x2="95.64" y2="293.66" stroke="#151515" stroke-width="0.6" />
<line x1="95.64" y1="292.24" x2="97.80" y2="292.24" stroke="#151515" stroke-width="0.6" />
<line x1="95.64" y1="293.66" x2="96.26" y2="293.66" stroke="#151515" stroke-width="0.6" />
<line x1="95.70" y1="295.13" x2="95.70" y2="296.14" stroke="#151515" stroke-width="0.6" />
<line x1="95.70" y1="295.13" x2="97.80" y2="295.13" stroke="#151515" stroke-width="0.6" />
<line x1="95.70" y1="296.14" x2="97.80" y2="296.14" stroke="#151515" stroke-width="0.6" />
<line x1="94.61" y1="292.95" x2="94.61" y2="295.63" stroke="#151515" stroke-width="0.6" />
<line x1="94.61" y1="292.95" x2="95.64" y2="292.95" stroke="#151515" stroke-width="0.6" />
<line x1="94.61" y1="295.63" x2="95.70" y2="295.63" stroke="#151515" stroke-width="0.6" />
<line x1="97.48" y1="297.97" x2="97.48" y2="298.64" stroke="#151515" stroke-width="0.6" />
<line x1="97.48" y1="297.97" x2="97.80" y2="297.97" stroke="#151515" stroke-width="0.6" />
<line x1="97.48" y1="298.64" x2="97.80" y2="298.64" stroke="#151515" stroke-width="0.6" />
<line x1="96.82" y1="297.15" x2="96.82" y2="298.31" stroke="#151515" stroke-width="0.6" />
<line x1="96.82" y1="297.15" x2="97.80" y2="297.15" stroke="#151515" stroke-width="0.6" />
<line x1="96.82" y1="298.31" x2="97.48" y2="298.31" stroke="#151515" stroke-width="0.6" />
<line x1="96.25" y1="299.17" x2="96.25" y2="299.93" stroke="#151515" stroke-width="0.6" />
<line x1="96.25" y1="299.17" x2="97.80" y2="299.17" stroke="#151515" stroke-width="0.6" />
<line x1="96.25" y1="299.93" x2="97.80" y2="299.93" stroke="#151515" stroke-width="0.6" />
<line x1="95.50" y1="297.73" x2="95.50" y2="299.55" stroke="#151515" stroke-width="0.6" />
<line x1="95.50" y1="297.73" x2="96.82" y2="297.73" stroke="#151515" stroke-width="0.6" />
<line x1="95.50" y1="299.55" x2="96.25" y2="299.55" stroke="#151515" stroke-width="0.6" />
<line x1="92.65" y1="294.29" x2="92.65" y2="298.64" stroke="#151515" stroke-width="0.6" />
<line x1="92.65" y1="294.29" x2="94.61" y2="294.29" stroke="#151515" stroke-width="0.6" />
<line x1="92.65" y1="298.64" x2="95.50" y2="298.64" stroke="#151515" stroke-width="0.6" />
<line x1="96.63" y1="302.24" x2="96.63" y2="303.03" stroke="#151515" stroke-width="0.6" />
<line x1="96.63" y1="302.24" x2="97.80" y2="302.24" stroke="#151515" stroke-width="0.6" />
<line x1="96.63" y1="303.03" x2="97.80" y2="303.03" stroke="#151515" stroke-width="0.6" />
<line x1="96.17" y1="301.09" x2="96.17" y2="302.63" stroke="#151515" stroke-width="0.6" />
<line x1="96.17" y1="301.09" x2="97.80" y2="301.09" stroke="#151515" stroke-width="0.6" />
<line x1="96.17" y1="302.63" x2="96.63" y2="302.63" stroke="#151515" stroke-width="0.6" />
<line x1="95.78" y1="304.55" x2="95.78" y2="305.44" stroke="#151515" stroke-width="0.6" />
<line x1="95.78" y1="304.55" x2="97.80" y2="304.55" stroke="#151515" stroke-width="0.6" />
<line x1="95.78" y1="305.44" x2="97.80" y2="305.44" stroke="#151515" stroke-width="0.6" />
<line x1="95.03" y1="303.72" x2="95.03" y2="305.00" stroke="#151515" stroke-width="0.6" />
<line x1="95.03" y1="303.72" x2="97.80" y2="303.72" stroke="#151515" stroke-width="0.6" />
<line x1="95.03" y1="305.00" x2="95.78" y2="305.00" stroke="#151515" stroke-width="0.6" />
<line x1="92.43" y1="301.86" x2="92.43" y2="304.36" stroke="#151515" stroke-width="0.6" />
<line x1="92.43" y1="301.86" x2="96.17" y2="301.86" stroke="#151515" stroke-width="0.6" />
<line x1="92.43" y1="304.36" x2="95.03" y2="304.36" stroke="#151515" stroke-width="0.6" />
<line x1="94.44" y1="306.25" x2="94.44" y2="307.12" stroke="#151515" stroke-width="0.6" />
<line x1="94.44" y1="306.25" x2="97.80" y2="306.25" stroke="#151515" stroke-width="0.6" />
<line x1="94.44" y1="307.12" x2="97.80" y2="307.12" stroke="#151515" stroke-width="0.6" />
<line x1="96.78" y1="308.00" x2="96.78" y2="308.95" stroke="#151515" stroke-width="0.6" />
<line x1="96.78" y1="308.00" x2="97.80" y2="308.00" stroke="#151515" stroke-width="0.6" />
<line x1="96.78" y1="308.95" x2="97.80" y2="308.95" stroke="#151515" stroke-width="0.6" />
<line x1="96.93" y1="310.05" x2="96.93" y2="310.96" stroke="#151515" stroke-width="0.6" />
<line x1="96.93" y1="310.05" x2="97.80" y2="310.05" stroke="#151515" stroke-width="0.6" />
<line x1="96.93" y1="310.96" x2="97.80" y2="310.96" stroke="#151515" stroke-width="0.6" />
<line x1="96.37" y1="308.47" x2="96.37" y2="310.51" stroke="#151515" stroke-width="0.6" />
<line x1="96.37" y1="308.47" x2="96.78" y2="308.47" stroke="#151515" stroke-width="0.6" />
<line x1="96.37" y1="310.51" x2="96.93" y2="310.51" stroke="#151515" stroke-width="0.6" />
<line x1="93.22" y1="306.69" x2="93.22" y2="309.49" stroke="#151515" stroke-width="0.6" />
<line x1="93.22" y1="306.69" x2="94.44" y2="306.69" stroke="#151515" stroke-width="0.6" />
<line x1="93.22" y1="309.49" x2="96.37" y2="309.49" stroke="#151515" stroke-width="0.6" />
<line x1="95.89" y1="311.79" x2="95.89" y2="312.56" stroke="#151515" stroke-width="0.6" />
<line x1="95.89" y1="311.79" x2="97.80" y2="311.79" stroke="#151515" stroke-width="0.6" />
<line x1="95.89" y1="312.56" x2="97.80" y2="312.56" stroke="#151515" stroke-width="0.6" />
<line x1="95.55" y1="313.24" x2="95.55" y2="314.02" stroke="#151515" stroke-width="0.6" />
<line x1="95.55" y1="313.24" x2="97.80" y2="313.24" stroke="#151515" stroke-width="0.6" />
<line x1="95.55" y1="314.02" x2="97.80" y2="314.02" stroke="#151515" stroke-width="0.6" />
<line x1="93.92" y1="312.18" x2="93.92" y2="313.63" stroke="#151515" stroke-width="0.6" />
<line x1="93.92" y1="312.18" x2="95.89" y2="312.18" stroke="#151515" stroke-width="0.6" />
<line x1="93.92" y1="313.63" x2="95.55" y2="313.63" stroke="#151515" stroke-width="0.6" />
<line x1="94.14" y1="315.05" x2="94.14" y2="315.98" stroke="#151515" stroke-width="0.6" />
<line x1="94.14" y1="315.05" x2="97.80" y2="315.05" stroke="#151515" stroke-width="0.6" />
<line x1="94.14" y1="315.98" x2="97.80" y2="315.98" stroke="#151515" stroke-width="0.6" />
<line x1="96.32" y1="317.55" x2="96.32" y2="318.38" stroke="#151515" stroke-width="0.6" />
<line x1="96.32" y1="317.55" x2="97.80" y2="317.55" stroke="#151515" stroke-width="0.6" />
<line x1="96.32" y1="318.38" x2="97.80" y2="318.38" stroke="#151515" stroke-width="0.6" />
<line x1="95.73" y1="316.74" x2="95.73" y2="317.96" stroke="#151515" stroke-width="0.6" />
<line x1="95.73" y1="316.74" x2="97.80" y2="316.74" stroke="#151515" stroke-width="0.6" />
<line x1="95.73" y1="317.96" x2="96.32" y2="317.96" stroke="#151515" stroke-width="0.6" />
<line x1="92.65" y1="315.52" x2="92.65" y2="317.35" stroke="#151515" stroke-width="0.6" />
<line x1="92.65" y1="315.52" x2="94.14" y2="315.52" stroke="#151515" stroke-width="0.6" />
<line x1="92.65" y1="317.35" x2="95.73" y2="317.35" stroke="#151515" stroke-width="0.6" />
<line x1="95.69" y1="320.41" x2="95.69" y2="321.56" stroke="#151515" stroke-width="0.6" />
<line x1="95.69" y1="320.41" x2="97.80" y2="320.41" stroke="#151515" stroke-width="0.6" />
<line x1="95.69" y1="321.56" x2="97.80" y2="321.56" stroke="#151515" stroke-width="0.6" />
<line x1="94.40" y1="319.36" x2="94.40" y2="320.98" stroke="#151515" stroke-width="0.6" />
<line x1="94.40" y1="319.36" x2="97.80" y2="319.36" stroke="#151515" stroke-width="0.6" />
<line x1="94.40" y1="320.98" x2="95.69" y2="320.98" stroke="#151515" stroke-width="0.6" />
<line x1="97.25" y1="322.67" x2="97.25" y2="323.44" stroke="#151515" stroke-width="0.6" />
<line x1="97.25" y1="322.67" x2="97.80" y2="322.67" stroke="#151515" stroke-width="0.6" />
<line x1="97.25" y1="323.44" x2="97.80" y2="323.44" stroke="#151515" stroke-width="0.6" />
<line x1="96.68" y1="323.06" x2="96.68" y2="324.23" stroke="#151515" stroke-width="0.6" />
<line x1="96.68" y1="323.06" x2="97.25" y2="323.06" stroke="#151515" stroke-width="0.6" />
<line x1="96.68" y1="324.23" x2="97.80" y2="324.23" stroke="#151515" stroke-width="0.6" />
<line x1="97.16" y1="325.17" x2="97.16" y2="325.86" stroke="#151515" stroke-width="0.6" />
<line x1="97.16" y1="325.17" x2="97.80" y2="325.17" stroke="#151515" stroke-width="0.6" />
<line x1="97.16" y1="325.86" x2="97.80" y2="325.86" stroke="#151515" stroke-width="0.6" />
<line x1="96.32" y1="325.52" x2="96.32" y2="326.60" stroke="#151515" stroke-width="0.6" />
<line x1="96.32" y1="325.52" x2="97.16" y2="325.52" stroke="#151515" stroke-width="0.6" />
<line x1="96.32" y1="326.60" x2="97.80" y2="326.60" stroke="#151515" stroke-width="0.6" />
<line x1="94.56" y1="323.65" x2="94.56" y2="326.06" stroke="#151515" stroke-width="0.6" />
<line x1="94.56" y1="323.65" x2="96.68" y2="323.65" stroke="#151515" stroke-width="0.6" />
<line x1="94.56" y1="326.06" x2="96.32" y2="326.06" stroke="#151515" stroke-width="0.6" />
<line x1="95.57" y1="327.30" x2="95.57" y2="327.98" stroke="#151515" stroke-width="0.6" />
<line x1="95.57" y1="327.30" x2="97.80" y2="327.30" stroke="#151515" stroke-width="0.6" />
<line x1="95.57" y1="327.98" x2="97.80" y2="327.98" stroke="#151515" stroke-width="0.6" />
<line x1="95.65" y1="329.38" x2="95.65" y2="330.08" stroke="#151515" stroke-width="0.6" />
<line x1="95.65" y1="329.38" x2="97.80" y2="329.38" stroke="#151515" stroke-width="0.6" />
<line x1="95.65" y1="330.08" x2="97.80" y2="330.08" stroke="#151515" stroke-width="0.6" />
<line x1="94.70" y1="328.76" x2="94.70" y2="329.73" stroke="#151515" stroke-width="0.6" />
<line x1="94.70" y1="328.76" x2="97.80" y2="328.76" stroke="#151515" stroke-width="0.6" />
<line x1="94.70" y1="329.73" x2="95.65" y2="329.73" stroke="#151515" stroke-width="0.6" />
<line x1="92.81" y1="327.64" x2="92.81" y2="329.25" stroke="#151515" stroke-width="0.6" />
<line x1="92.81" y1="327.64" x2="95.57" y2="327.64" stroke="#151515" stroke-width="0.6" />
<line x1="92.81" y1="329.25" x2="94.70" y2="329.25" stroke="#151515" stroke-width="0.6" />
<line x1="96.73" y1="332.07" x2="96.73" y2="333.17" stroke="#151515" stroke-width="0.6" />
<line x1="96.73" y1="332.07" x2="97.80" y2="332.07" stroke="#151515" stroke-width="0.6" />
<line x1="96.73" y1="333.17" x2="97.80" y2="333.17" stroke="#151515" stroke-width="0.6" />
<line x1="94.98" y1="330.95" x2="94.98" y2="332.62" stroke="#151515" stroke-width="0.6" />
<line x1="94.98" y1="330.95" x2="97.80" y2="330.95" stroke="#151515" stroke-width="0.6" />
<line x1="94.98" y1="332.62" x2="96.73" y2="332.62" stroke="#151515" stroke-width="0.6" />
<line x1="97.18" y1="335.23" x2="97.18" y2="335.99" stroke="#151515" stroke-width="0.6" />
<line x1="97.18" y1="335.23" x2="97.80" y2="335.23" stroke="#151515" stroke-width="0.6" />
<line x1="97.18" y1="335.99" x2="97.80" y2="335.99" stroke="#151515" stroke-width="0.6" />
<line x1="96.21" y1="335.61" x2="96.21" y2="336.78" stroke="#151515" stroke-width="0.6" />
<line x1="96.21" y1="335.61" x2="97.18" y2="335.61" stroke="#151515" stroke-width="0.6" />
<line x1="96.21" y1="336.78" x2="97.80" y2="336.78" stroke="#151515" stroke-width="0.6" />
<line x1="94.91" y1="334.26" x2="94.91" y2="336.19" stroke="#151515" stroke-width="0.6" />
<line x1="94.91" y1="334.26" x2="97.80" y2="334.26" stroke="#151515" stroke-width="0.6" />
<line x1="94.91" y1="336.19" x2="96.21" y2="336.19" stroke="#151515" stroke-width="0.6" />
<line x1="92.99" y1="331.78" x2="92.99" y2="335.23" stroke="#151515" stroke-width="0.6" />
<line x1="92.99" y1="331.78" x2="94.98" y2="331.78" stroke="#151515" stroke-width="0.6" />
<line x1="92.99" y1="335.23" x2="94.91" y2="335.23" stroke="#151515" stroke-width="0.6" />
<line x1="97.43" y1="337.65" x2="97.43" y2="338.38" stroke="#151515" stroke-width="0.6" />
<line x1="97.43" y1="337.65" x2="97.80" y2="337.65" stroke="#151515" stroke-width="0.6" />
<line x1="97.43" y1="338.38" x2="97.80" y2="338.38" stroke="#151515" stroke-width="0.6" />
<line x1="97.14" y1="338.01" x2="97.14" y2="339.04" stroke="#151515" stroke-width="0.6" />
<line x1="97.14" y1="338.01" x2="97.43" y2="338.01" stroke="#151515" stroke-width="0.6" />
<line x1="97.14" y1="339.04" x2="97.80" y2="339.04" stroke="#151515" stroke-width="0.6" />
<line x1="96.43" y1="338.53" x2="96.43" y2="340.01" stroke="#151515" stroke-width="0.6" />
<line x1="96.43" y1="338.53" x2="97.14" y2="338.53" stroke="#151515" stroke-width="0.6" />
<line x1="96.43" y1="340.01" x2="97.80" y2="340.01" stroke="#151515" stroke-width="0.6" />
<line x1="95.67" y1="341.08" x2="95.67" y2="342.19" stroke="#151515" stroke-width="0.6" />
<line x1="95.67" y1="341.08" x2="97.80" y2="341.08" stroke="#151515" stroke-width="0.6" />
<line x1="95.67" y1="342.19" x2="97.80" y2="342.19" stroke="#151515" stroke-width="0.6" />
<line x1="93.62" y1="339.27" x2="93.62" y2="341.64" stroke="#151515" stroke-width="0.6" />
<line x1="93.62" y1="339.27" x2="96.43" y2="339.27" stroke="#151515" stroke-width="0.6" />
<line x1="93.62" y1="341.64" x2="95.67" y2="341.64" stroke="#151515" stroke-width="0.6" />
<line x1="95.48" y1="343.23" x2="95.48" y2="344.05" stroke="#151515" stroke-width="0.6" />
<line x1="95.48" y1="343.23" x2="97.80" y2="343.23" stroke="#151515" stroke-width="0.6" />
<line x1="95.48" y1="344.05" x2="97.80" y2="344.05" stroke="#151515" stroke-width="0.6" />
<line x1="96.78" y1="345.95" x2="96.78" y2="346.75" stroke="#151515" stroke-width="0.6" />
<line x1="96.78" y1="345.95" x2="97.80" y2="345.95" stroke="#151515" stroke-width="0.6" />
<line x1="96.78" y1="346.75" x2="97.80" y2="346.75" stroke="#151515" stroke-width="0.6" />
<line x1="95.05" y1="344.91" x2="95.05" y2="346.35" stroke="#151515" stroke-width="0.6" />
<line x1="95.05" y1="344.91" x2="97.80" y2="344.91" stroke="#151515" stroke-width="0.6" />
<line x1="95.05" y1="346.35" x2="96.78" y2="346.35" stroke="#151515" stroke-width="0.6" />
<line x1="93.13" y1="343.64" x2="93.13" y2="345.63" stroke="#151515" stroke-width="0.6" />
<line x1="93.13" y1="343.64" x2="95.48" y2="343.64" stroke="#151515" stroke-width="0.6" />
<line x1="93.13" y1="345.63" x2="95.05" y2="345.63" stroke="#151515" stroke-width="0.6" />
<line x1="95.60" y1="347.36" x2="95.60" y2="348.32" stroke="#151515" stroke-width="0.6" />
<line x1="95.60" y1="347.36" x2="97.80" y2="347.36" stroke="#151515" stroke-width="0.6" />
<line x1="95.60" y1="348.32" x2="97.80" y2="348.32" stroke="#151515" stroke-width="0.6" />
<line x1="95.78" y1="349.32" x2="95.78" y2="350.29" stroke="#151515" stroke-width="0.6" />
<line x1="95.78" y1="349.32" x2="97.80" y2="349.32" stroke="#151515" stroke-width="0.6" />
<line x1="95.78" y1="350.29" x2="97.80" y2="350.29" stroke="#151515" stroke-width="0.6" />
<line x1="94.80" y1="347.84" x2="94.80" y2="349.81" stroke="#151515" stroke-width="0.6" />
<line x1="94.80" y1="347.84" x2="95.60" y2="347.84" stroke="#151515" stroke-width="0.6" />
<line x1="94.80" y1="349.81" x2="95.78" y2="349.81" stroke="#151515" stroke-width="0.6" />
<line x1="97.47" y1="353.36" x2="97.47" y2="354.21" stroke="#151515" stroke-width="0.6" />
<line x1="97.47" y1="353.36" x2="97.80" y2="353.36" stroke="#151515" stroke-width="0.6" />
<line x1="97.47" y1="354.21" x2="97.80" y2="354.21" stroke="#151515" stroke-width="0.6" />
<line x1="97.25" y1="352.59" x2="97.25" y2="353.78" stroke="#151515" stroke-width="0.6" />
<line x1="97.25" y1="352.59" x2="97.80" y2="352.59" stroke="#151515" stroke-width="0.6" />
<line x1="97.25" y1="353.78" x2="97.47" y2="353.78" stroke="#151515" stroke-width="0.6" />
<line x1="96.67" y1="351.49" x2="96.67" y2="353.19" stroke="#151515" stroke-width="0.6" />
<line x1="96.67" y1="351.49" x2="97.80" y2="351.49" stroke="#151515" stroke-width="0.6" />
<line x1="96.67" y1="353.19" x2="97.25" y2="353.19" stroke="#151515" stroke-width="0.6" />
<line x1="97.07" y1="355.34" x2="97.07" y2="356.12" stroke="#151515" stroke-width="0.6" />
<line x1="97.07" y1="355.34" x2="97.80" y2="355.34" stroke="#151515" stroke-width="0.6" />
<line x1="97.07" y1="356.12" x2="97.80" y2="356.12" stroke="#151515" stroke-width="0.6" />
<line x1="96.84" y1="356.83" x2="96.84" y2="357.65" stroke="#151515" stroke-width="0.6" />
<line x1="96.84" y1="356.83" x2="97.80" y2="356.83" stroke="#151515" stroke-width="0.6" />
<line x1="96.84" y1="357.65" x2="97.80" y2="357.65" stroke="#151515" stroke-width="0.6" />
<line x1="96.11" y1="355.73" x2="96.11" y2="357.24" stroke="#151515" stroke-width="0.6" />
<line x1="96.11" y1="355.73" x2="97.07" y2="355.73" stroke="#151515" stroke-width="0.6" />
<line x1="96.11" y1="357.24" x2="96.84" y2="357.24" stroke="#151515" stroke-width="0.6" />
<line x1="94.89" y1="352.34" x2="94.89" y2="356.49" stroke="#151515" stroke-width="0.6" />
<line x1="94.89" y1="352.34" x2="96.67" y2="352.34" stroke="#151515" stroke-width="0.6" />
<line x1="94.89" y1="356.49" x2="96.11" y2="356.49" stroke="#151515" stroke-width="0.6" />
<line x1="96.40" y1="358.38" x2="96.40" y2="359.24" stroke="#151515" stroke-width="0.6" />
<line x1="96.40" y1="358.38" x2="97.80" y2="358.38" stroke="#151515" stroke-width="0.6" />
<line x1="96.40" y1="359.24" x2="97.80" y2="359.24" stroke="#151515" stroke-width="0.6" />
<line x1="96.95" y1="360.02" x2="96.95" y2="360.74" stroke="#151515" stroke-width="0.6" />
<line x1="96.95" y1="360.02" x2="97.80" y2="360.02" stroke="#151515" stroke-width="0.6" />
<line x1="96.95" y1="360.74" x2="97.80" y2="360.74" stroke="#151515" stroke-width="0.6" />
<line x1="96.41" y1="360.38" x2="96.41" y2="361.67" stroke="#151515" stroke-width="0.6" />
<line x1="96.41" y1="360.38" x2="96.95" y2="360.38" stroke="#151515" stroke-width="0.6" />
<line x1="96.41" y1="361.67" x2="97.80" y2="361.67" stroke="#151515" stroke-width="0.6" />
<line x1="95.84" y1="358.81" x2="95.84" y2="361.03" stroke="#151515" stroke-width="0.6" />
<line x1="95.84" y1="358.81" x2="96.40" y2="358.81" stroke="#151515" stroke-width="0.6" />
<line x1="95.84" y1="361.03" x2="96.41" y2="361.03" stroke="#151515" stroke-width="0.6" />
<line x1="97.35" y1="362.61" x2="97.35" y2="363.32" stroke="#151515" stroke-width="0.6" />
<line x1="97.35" y1="362.61" x2="97.80" y2="362.61" stroke="#151515" stroke-width="0.6" />
<line x1="97.35" y1="363.32" x2="97.80" y2="363.32" stroke="#151515" stroke-width="0.6" />
<line x1="96.78" y1="362.96" x2="96.78" y2="363.98" stroke="#151515" stroke-width="0.6" />
<line x1="96.78" y1="362.96" x2="97.35" y2="362.96" stroke="#151515" stroke-width="0.6" />
<line x1="96.78" y1="363.98" x2="97.80" y2="363.98" stroke="#151515" stroke-width="0.6" />
<line x1="97.07" y1="364.71" x2="97.07" y2="365.43" stroke="#151515" stroke-width="0.6" />
<line x1="97.07" y1="364.71" x2="97.80" y2="364.71" stroke="#151515" stroke-width="0.6" />
<line x1="97.07" y1="365.43" x2="97.80" y2="365.43" stroke="#151515" stroke-width="0.6" />
<line x1="95.53" y1="363.47" x2="95.53" y2="365.07" stroke="#151515" stroke-width="0.6" />
<line x1="95.53" y1="363.47" x2="96.78" y2="363.47" stroke="#151515" stroke-width="0.6" />
<line x1="95.53" y1="365.07" x2="97.07" y2="365.07" stroke="#151515" stroke-width="0.6" />
<line x1="93.39" y1="359.92" x2="93.39" y2="364.27" stroke="#151515" stroke-width="0.6" />
<line x1="93.39" y1="359.92" x2="95.84" y2="359.92" stroke="#151515" stroke-width="0.6" />
<line x1="93.39" y1="364.27" x2="95.53" y2="364.27" stroke="#151515" stroke-width="0.6" />
<line x1="96.48" y1="366.28" x2="96.48" y2="367.04" stroke="#151515" stroke-width="0.6" />
<line x1="96.48" y1="366.28" x2="97.80" y2="366.28" stroke="#151515" stroke-width="0.6" />
<line x1="96.48" y1="367.04" x2="97.80" y2="367.04" stroke="#151515" stroke-width="0.6" />
<line x1="97.30" y1="368.65" x2="97.30" y2="369.49" stroke="#151515" stroke-width="0.6" />
<line x1="97.30" y1="368.65" x2="97.80" y2="368.65" stroke="#151515" stroke-width="0.6" />
<line x1="97.30" y1="369.49" x2="97.80" y2="369.49" stroke="#151515" stroke-width="0.6" />
<line x1="96.80" y1="367.73" x2="96.80" y2="369.07" stroke="#151515" stroke-width="0.6" />
<line x1="96.80" y1="367.73" x2="97.80" y2="367.73" stroke="#151515" stroke-width="0.6" />
<line x1="96.80" y1="369.07" x2="97.30" y2="369.07" stroke="#151515" stroke-width="0.6" />
<line x1="94.90" y1="366.66" x2="94.90" y2="368.40" stroke="#151515" stroke-width="0.6" />
<line x1="94.90" y1="366.66" x2="96.48" y2="366.66" stroke="#151515" stroke-width="0.6" />
<line x1="94.90" y1="368.40" x2="96.80" y2="368.40" stroke="#151515" stroke-width="0.6" />
<line x1="96.44" y1="370.34" x2="96.44" y2="371.26" stroke="#151515" stroke-width="0.6" />
<line x1="96.44" y1="370.34" x2="97.80" y2="370.34" stroke="#151515" stroke-width="0.6" />
<line x1="96.44" y1="371.26" x2="97.80" y2="371.26" stroke="#151515" stroke-width="0.6" />
<line x1="97.23" y1="371.95" x2="97.23" y2="372.76" stroke="#151515" stroke-width="0.6" />
<line x1="97.23" y1="371.95" x2="97.80" y2="371.95" stroke="#151515" stroke-width="0.6" />
<line x1="97.23" y1="372.76" x2="97.80" y2="372.76" stroke="#151515" stroke-width="0.6" />
<line x1="96.89" y1="373.74" x2="96.89" y2="374.40" stroke="#151515" stroke-width="0.6" />
<line x1="96.89" y1="373.74" x2="97.80" y2="373.74" stroke="#151515" stroke-width="0.6" />
<line x1="96.89" y1="374.40" x2="97.80" y2="374.40" stroke="#151515" stroke-width="0.6" />
<line x1="96.40" y1="372.36" x2="96.40" y2="374.07" stroke="#151515" stroke-width="0.6" />
<line x1="96.40" y1="372.36" x2="97.23" y2="372.36" stroke="#151515" stroke-width="0.6" />
<line x1="96.40" y1="374.07" x2="96.89" y2="374.07" stroke="#151515" stroke-width="0.6" />
<line x1="95.58" y1="370.80" x2="95.58" y2="373.21" stroke="#151515" stroke-width="0.6" />
<line x1="95.58" y1="370.80" x2="96.44" y2="370.80" stroke="#151515" stroke-width="0.6" />
<line x1="95.58" y1="373.21" x2="96.40" y2="373.21" stroke="#151515" stroke-width="0.6" />
<line x1="93.93" y1="367.53" x2="93.93" y2="372.01" stroke="#151515" stroke-width="0.6" />
<line x1="93.93" y1="367.53" x2="94.90" y2="367.53" stroke="#151515" stroke-width="0.6" />
<line x1="93.93" y1="372.01" x2="95.58" y2="372.01" stroke="#151515" stroke-width="0.6" />
<line x1="97.42" y1="375.63" x2="97.42" y2="376.31" stroke="#151515" stroke-width="0.6" />
<line x1="97.42" y1="375.63" x2="97.80" y2="375.63" stroke="#151515" stroke-width="0.6" />
<line x1="97.42" y1="376.31" x2="97.80" y2="376.31" stroke="#151515" stroke-width="0.6" />
<line x1="97.04" y1="374.94" x2="97.04" y2="375.97" stroke="#151515" stroke-width="0.6" />
<line x1="97.04" y1="374.94" x2="97.80" y2="374.94" stroke="#151515" stroke-width="0.6" />
<line x1="97.04" y1="375.97" x2="97.42" y2="375.97" stroke="#151515" stroke-width="0.6" />
<line x1="96.20" y1="377.08" x2="96.20" y2="377.92" stroke="#151515" stroke-width="0.6" />
<line x1="96.20" y1="377.08" x2="97.80" y2="377.08" stroke="#151515" stroke-width="0.6" />
<line x1="96.20" y1="377.92" x2="97.80" y2="377.92" stroke="#151515" stroke-width="0.6" />
<line x1="95.40" y1="375.46" x2="95.40" y2="377.50" stroke="#151515" stroke-width="0.6" />
<line x1="95.40" y1="375.46" x2="97.04" y2="375.46" stroke="#151515" stroke-width="0.6" />
<line x1="95.40" y1="377.50" x2="96.20" y2="377.50" stroke="#151515" stroke-width="0.6" />
<line x1="95.36" y1="378.86" x2="95.36" y2="379.80" stroke="#151515" stroke-width="0.6" />
<line x1="95.36" y1="378.86" x2="97.80" y2="378.86" stroke="#151515" stroke-width="0.6" />
<line x1="95.36" y1="379.80" x2="97.80" y2="379.80" stroke="#151515" stroke-width="0.6" />
<line x1="93.89" y1="376.48" x2="93.89" y2="379.33" stroke="#151515" stroke-width="0.6" />
<line x1="93.89" y1="376.48" x2="95.40" y2="376.48" stroke="#151515" stroke-width="0.6" />
<line x1="93.89" y1="379.33" x2="95.36" y2="379.33" stroke="#151515" stroke-width="0.6" />
<line x1="97.47" y1="380.46" x2="97.47" y2="381.19" stroke="#151515" stroke-width="0.6" />
<line x1="97.47" y1="380.46" x2="97.80" y2="380.46" stroke="#151515" stroke-width="0.6" />
<line x1="97.47" y1="381.19" x2="97.80" y2="381.19" stroke="#151515" stroke-width="0.6" />
<line x1="97.18" y1="380.83" x2="97.18" y2="382.06" stroke="#151515" stroke-width="0.6" />
<line x1="97.18" y1="380.83" x2="97.47" y2="380.83" stroke="#151515" stroke-width="0.6" />
<line x1="97.18" y1="382.06" x2="97.80" y2="382.06" stroke="#151515" stroke-width="0.6" />
<line x1="96.83" y1="381.45" x2="96.83" y2="383.05" stroke="#151515" stroke-width="0.6" />
<line x1="96.83" y1="381.45" x2="97.18" y2="381.45" stroke="#151515" stroke-width="0.6" />
<line x1="96.83" y1="383.05" x2="97.80" y2="383.05" stroke="#151515" stroke-width="0.6" />
<line x1="97.23" y1="384.11" x2="97.23" y2="384.93" stroke="#151515" stroke-width="0.6" />
<line x1="97.23" y1="384.11" x2="97.80" y2="384.11" stroke="#151515" stroke-width="0.6" />
<line x1="97.23" y1="384.93" x2="97.80" y2="384.93" stroke="#151515" stroke-width="0.6" />
<line x1="97.44" y1="385.88" x2="97.44" y2="386.80" stroke="#151515" stroke-width="0.6" />
<line x1="97.44" y1="385.88" x2="97.80" y2="385.88" stroke="#151515" stroke-width="0.6" />
<line x1="97.44" y1="386.80" x2="97.80" y2="386.80" stroke="#151515" stroke-width="0.6" />
<line x1="96.95" y1="386.34" x2="96.95" y2="387.64" stroke="#151515" stroke-width="0.6" />
<line x1="96.95" y1="386.34" x2="97.44" y2="386.34" stroke="#151515" stroke-width="0.6" />
<line x1="96.95" y1="387.64" x2="97.80" y2="387.64" stroke="#151515" stroke-width="0.6" />
<line x1="96.59" y1="384.52" x2="96.59" y2="386.99" stroke="#151515" stroke-width="0.6" />
<line x1="96.59" y1="384.52" x2="97.23" y2="384.52" stroke="#151515" stroke-width="0.6" />
<line x1="96.59" y1="386.99" x2="96.95" y2="386.99" stroke="#151515" stroke-width="0.6" />
<line x1="95.17" y1="382.25" x2="95.17" y2="385.76" stroke="#151515" stroke-width="0.6" />
<line x1="95.17" y1="382.25" x2="96.83" y2="382.25" stroke="#151515" stroke-width="0.6" />
<line x1="95.17" y1="385.76" x2="96.59" y2="385.76" stroke="#151515" stroke-width="0.6" />
<line x1="94.78" y1="389.96" x2="94.78" y2="391.18" stroke="#151515" stroke-width="0.6" />
<line x1="94.78" y1="389.96" x2="97.80" y2="389.96" stroke="#151515" stroke-width="0.6" />
<line x1="94.78" y1="391.18" x2="97.80" y2="391.18" stroke="#151515" stroke-width="0.6" />
<line x1="92.61" y1="388.78" x2="92.61" y2="390.57" stroke="#151515" stroke-width="0.6" />
<line x1="92.61" y1="388.78" x2="97.80" y2="388.78" stroke="#151515" stroke-width="0.6" />
<line x1="92.61" y1="390.57" x2="94.78" y2="390.57" stroke="#151515" stroke-width="0.6" />
<line x1="95.31" y1="392.30" x2="95.31" y2="393.21" stroke="#151515" stroke-width="0.6" />
<line x1="95.31" y1="392.30" x2="97.80" y2="392.30" stroke="#151515" stroke-width="0.6" />
<line x1="95.31" y1="393.21" x2="97.80" y2="393.21" stroke="#151515" stroke-width="0.6" />
<line x1="94.81" y1="394.05" x2="94.81" y2="394.89" stroke="#151515" stroke-width="0.6" />
<line x1="94.81" y1="394.05" x2="97.80" y2="394.05" stroke="#151515" stroke-width="0.6" />
<line x1="94.81" y1="394.89" x2="97.80" y2="394.89" stroke="#151515" stroke-width="0.6" />
<line x1="93.51" y1="392.76" x2="93.51" y2="394.47" stroke="#151515" stroke-width="0.6" />
<line x1="93.51" y1="392.76" x2="95.31" y2="392.76" stroke="#151515" stroke-width="0.6" />
<line x1="93.51" y1="394.47" x2="94.81" y2="394.47" stroke="#151515" stroke-width="0.6" />
<line x1="95.81" y1="395.81" x2="95.81" y2="396.82" stroke="#151515" stroke-width="0.6" />
<line x1="95.81" y1="395.81" x2="97.80" y2="395.81" stroke="#151515" stroke-width="0.6" />
<line x1="95.81" y1="396.82" x2="97.80" y2="396.82" stroke="#151515" stroke-width="0.6" />
<line x1="95.55" y1="397.81" x2="95.55" y2="398.51" stroke="#151515" stroke-width="0.6" />
<line x1="95.55" y1="397.81" x2="97.80" y2="397.81" stroke="#151515" stroke-width="0.6" />
<line x1="95.55" y1="398.51" x2="97.80" y2="398.51" stroke="#151515" stroke-width="0.6" />
<line x1="94.58" y1="396.32" x2="94.58" y2="398.16" stroke="#151515" stroke-width="0.6" />
<line x1="94.58" y1="396.32" x2="95.81" y2="396.32" stroke="#151515" stroke-width="0.6" />
<line x1="94.58" y1="398.16" x2="95.55" y2="398.16" stroke="#151515" stroke-width="0.6" />
<line x1="97.18" y1="399.01" x2="97.18" y2="399.81" stroke="#151515" stroke-width="0.6" />
<line x1="97.18" y1="399.01" x2="97.80" y2="399.01" stroke="#151515" stroke-width="0.6" />
<line x1="97.18" y1="399.81" x2="97.80" y2="399.81" stroke="#151515" stroke-width="0.6" />
<line x1="96.94" y1="400.94" x2="96.94" y2="401.99" stroke="#151515" stroke-width="0.6" />
<line x1="96.94" y1="400.94" x2="97.80" y2="400.94" stroke="#151515" stroke-width="0.6" />
<line x1="96.94" y1="401.99" x2="97.80" y2="401.99" stroke="#151515" stroke-width="0.6" />
<line x1="96.13" y1="399.41" x2="96.13" y2="401.47" stroke="#151515" stroke-width="0.6" />
<line x1="96.13" y1="399.41" x2="97.18" y2="399.41" stroke="#151515" stroke-width="0.6" />
<line x1="96.13" y1="401.47" x2="96.94" y2="401.47" stroke="#151515" stroke-width="0.6" />
<line x1="97.15" y1="403.61" x2="97.15" y2="404.37" stroke="#151515" stroke-width="0.6" />
<line x1="97.15" y1="403.61" x2="97.80" y2="403.61" stroke="#151515" stroke-width="0.6" />
<line x1="97.15" y1="404.37" x2="97.80" y2="404.37" stroke="#151515" stroke-width="0.6" />
<line x1="95.70" y1="402.83" x2="95.70" y2="403.99" stroke="#151515" stroke-width="0.6" />
<line x1="95.70" y1="402.83" x2="97.80" y2="402.83" stroke="#151515" stroke-width="0.6" />
<line x1="95.70" y1="403.99" x2="97.15" y2="403.99" stroke="#151515" stroke-width="0.6" />
<line x1="94.39" y1="400.44" x2="94.39" y2="403.41" stroke="#151515" stroke-width="0.6" />
<line x1="94.39" y1="400.44" x2="96.13" y2="400.44" stroke="#151515" stroke-width="0.6" />
<line x1="94.39" y1="403.41" x2="95.70" y2="403.41" stroke="#151515" stroke-width="0.6" />
<line x1="94.49" y1="405.24" x2="94.49" y2="406.34" stroke="#151515" stroke-width="0.6" />
<line x1="94.49" y1="405.24" x2="97.80" y2="405.24" stroke="#151515" stroke-width="0.6" />
<line x1="94.49" y1="406.34" x2="97.80" y2="406.34" stroke="#151515" stroke-width="0.6" />
<line x1="96.00" y1="407.28" x2="96.00" y2="407.95" stroke="#151515" stroke-width="0.6" />
<line x1="96.00" y1="407.28" x2="97.80" y2="407.28" stroke="#151515" stroke-width="0.6" />
<line x1="96.00" y1="407.95" x2="97.80" y2="407.95" stroke="#151515" stroke-width="0.6" />
<line x1="93.37" y1="405.79" x2="93.37" y2="407.62" stroke="#151515" stroke-width="0.6" />
<line x1="93.37" y1="405.79" x2="94.49" y2="405.79" stroke="#151515" stroke-width="0.6" />
<line x1="93.37" y1="407.62" x2="96.00" y2="407.62" stroke="#151515" stroke-width="0.6" />
<line x1="96.95" y1="409.50" x2="96.95" y2="410.26" stroke="#151515" stroke-width="0.6" />
<line x1="96.95" y1="409.50" x2="97.80" y2="409.50" stroke="#151515" stroke-width="0.6" />
<line x1="96.95" y1="410.26" x2="97.80" y2="410.26" stroke="#151515" stroke-width="0.6" />
<line x1="95.13" y1="408.68" x2="95.13" y2="409.88" stroke="#151515" stroke-width="0.6" />
<line x1="95.13" y1="408.68" x2="97.80" y2="408.68" stroke="#151515" stroke-width="0.6" />
<line x1="95.13" y1="409.88" x2="96.95" y2="409.88" stroke="#151515" stroke-width="0.6" />
<line x1="92.96" y1="409.28" x2="92.96" y2="411.10" stroke="#151515" stroke-width="0.6" />
<line x1="92.96" y1="409.28" x2="95.13" y2="409.28" stroke="#151515" stroke-width="0.6" />
<line x1="92.96" y1="411.10" x2="97.80" y2="411.10" stroke="#151515" stroke-width="0.6" />
<line x1="97.09" y1="411.83" x2="97.09" y2="412.54" stroke="#151515" stroke-width="0.6" />
<line x1="97.09" y1="411.83" x2="97.80" y2="411.83" stroke="#151515" stroke-width="0.6" />
<line x1="97.09" y1="412.54" x2="97.80" y2="412.54" stroke="#151515" stroke-width="0.6" />
<line x1="96.27" y1="412.19" x2="96.27" y2="413.59" stroke="#151515" stroke-width="0.6" />
<line x1="96.27" y1="412.19" x2="97.09" y2="412.19" stroke="#151515" stroke-width="0.6" />
<line x1="96.27" y1="413.59" x2="97.80" y2="413.59" stroke="#151515" stroke-width="0.6" />
<line x1="97.39" y1="414.56" x2="97.39" y2="415.48" stroke="#151515" stroke-width="0.6" />
<line x1="97.39" y1="414.56" x2="97.80" y2="414.56" stroke="#151515" stroke-width="0.6" />
<line x1="97.39" y1="415.48" x2="97.80" y2="415.48" stroke="#151515" stroke-width="0.6" />
<line x1="96.71" y1="415.02" x2="96.71" y2="416.47" stroke="#151515" stroke-width="0.6" />
<line x1="96.71" y1="415.02" x2="97.39" y2="415.02" stroke="#151515" stroke-width="0.6" />
<line x1="96.71" y1="416.47" x2="97.80" y2="416.47" stroke="#151515" stroke-width="0.6" />
<line x1="94.64" y1="412.89" x2="94.64" y2="415.75" stroke="#151515" stroke-width="0.6" />
<line x1="94.64" y1="412.89" x2="96.27" y2="412.89" stroke="#151515" stroke-width="0.6" />
<line x1="94.64" y1="415.75" x2="96.71" y2="415.75" stroke="#151515" stroke-width="0.6" />
<line x1="96.81" y1="417.38" x2="96.81" y2="418.11" stroke="#151515" stroke-width="0.6" />
<line x1="96.81" y1="417.38" x2="97.80" y2="417.38" stroke="#151515" stroke-width="0.6" />
<line x1="96.81" y1="418.11" x2="97.80" y2="418.11" stroke="#151515" stroke-width="0.6" />
<line x1="96.65" y1="418.94" x2="96.65" y2="419.99" stroke="#151515" stroke-width="0.6" />
<line x1="96.65" y1="418.94" x2="97.80" y2="418.94" stroke="#151515" stroke-width="0.6" />
<line x1="96.65" y1="419.99" x2="97.80" y2="419.99" stroke="#151515" stroke-width="0.6" />
<line x1="95.95" y1="417.75" x2="95.95" y2="419.46" stroke="#151515" stroke-width="0.6" />
<line x1="95.95" y1="417.75" x2="96.81" y2="417.75" stroke="#151515" stroke-width="0.6" />
<line x1="95.95" y1="419.46" x2="96.65" y2="419.46" stroke="#151515" stroke-width="0.6" />
<line x1="96.21" y1="421.05" x2="96.21" y2="421.82" stroke="#151515" stroke-width="0.6" />
<line x1="96.21" y1="421.05" x2="97.80" y2="421.05" stroke="#151515" stroke-width="0.6" />
<line x1="96.21" y1="421.82" x2="97.80" y2="421.82" stroke="#151515" stroke-width="0.6" />
<line x1="94.97" y1="418.60" x2="94.97" y2="421.43" stroke="#151515" stroke-width="0.6" />
<line x1="94.97" y1="418.60" x2="95.95" y2="418.60" stroke="#151515" stroke-width="0.6" />
<line x1="94.97" y1="421.43" x2="96.21" y2="421.43" stroke="#151515" stroke-width="0.6" />
<line x1="97.30" y1="423.68" x2="97.30" y2="424.80" stroke="#151515" stroke-width="0.6" />
<line x1="97.30" y1="423.68" x2="97.80" y2="423.68" stroke="#151515" stroke-width="0.6" />
<line x1="97.30" y1="424.80" x2="97.80" y2="424.80" stroke="#151515" stroke-width="0.6" />
<line x1="96.22" y1="422.58" x2="96.22" y2="424.24" stroke="#151515" stroke-width="0.6" />
<line x1="96.22" y1="422.58" x2="97.80" y2="422.58" stroke="#151515" stroke-width="0.6" />
<line x1="96.22" y1="424.24" x2="97.30" y2="424.24" stroke="#151515" stroke-width="0.6" />
<line x1="92.74" y1="420.02" x2="92.74" y2="423.41" stroke="#151515" stroke-width="0.6" />
<line x1="92.74" y1="420.02" x2="94.97" y2="420.02" stroke="#151515" stroke-width="0.6" />
<line x1="92.74" y1="423.41" x2="96.22" y2="423.41" stroke="#151515" stroke-width="0.6" />
<line x1="96.76" y1="426.88" x2="96.76" y2="427.67" stroke="#151515" stroke-width="0.6" />
<line x1="96.76" y1="426.88" x2="97.80" y2="426.88" stroke="#151515" stroke-width="0.6" />
<line x1="96.76" y1="427.67" x2="97.80" y2="427.67" stroke="#151515" stroke-width="0.6" />
<line x1="96.01" y1="425.86" x2="96.01" y2="427.28" stroke="#151515" stroke-width="0.6" />
<line x1="96.01" y1="425.86" x2="97.80" y2="425.86" stroke="#151515" stroke-width="0.6" />
<line x1="96.01" y1="427.28" x2="96.76" y2="427.28" stroke="#151515" stroke-width="0.6" />
<line x1="97.50" y1="428.29" x2="97.50" y2="428.99" stroke="#151515" stroke-width="0.6" />
<line x1="97.50" y1="428.29" x2="97.80" y2="428.29" stroke="#151515" stroke-width="0.6" />
<line x1="97.50" y1="428.99" x2="97.80" y2="428.99" stroke="#151515" stroke-width="0.6" />
<line x1="97.56" y1="429.74" x2="97.56" y2="430.65" stroke="#151515" stroke-width="0.6" />
<line x1="97.56" y1="429.74" x2="97.80" y2="429.74" stroke="#151515" stroke-width="0.6" />
<line x1="97.56" y1="430.65" x2="97.80" y2="430.65" stroke="#151515" stroke-width="0.6" />
<line x1="97.42" y1="430.20" x2="97.42" y2="431.61" stroke="#151515" stroke-width="0.6" />
<line x1="97.42" y1="430.20" x2="97.56" y2="430.20" stroke="#151515" stroke-width="0.6" />
<line x1="97.42" y1="431.61" x2="97.80" y2="431.61" stroke="#151515" stroke-width="0.6" />
<line x1="97.15" y1="428.64" x2="97.15" y2="430.90" stroke="#151515" stroke-width="0.6" />
<line x1="97.15" y1="428.64" x2="97.50" y2="428.64" stroke="#151515" stroke-width="0.6" />
<line x1="97.15" y1="430.90" x2="97.42" y2="430.90" stroke="#151515" stroke-width="0.6" />
<line x1="96.74" y1="432.34" x2="96.74" y2="433.25" stroke="#151515" stroke-width="0.6" />
<line x1="96.74" y1="432.34" x2="97.80" y2="432.34" stroke="#151515" stroke-width="0.6" />
<line x1="96.74" y1="433.25" x2="97.80" y2="433.25" stroke="#151515" stroke-width="0.6" />
<line x1="96.30" y1="429.77" x2="96.30" y2="432.80" stroke="#151515" stroke-width="0.6" />
<line x1="96.30" y1="429.77" x2="97.15" y2="429.77" stroke="#151515" stroke-width="0.6" />
<line x1="96.30" y1="432.80" x2="96.74" y2="432.80" stroke="#151515" stroke-width="0.6" />
<line x1="95.11" y1="426.57" x2="95.11" y2="431.29" stroke="#151515" stroke-width="0.6" />
<line x1="95.11" y1="426.57" x2="96.01" y2="426.57" stroke="#151515" stroke-width="0.6" />
<line x1="95.11" y1="431.29" x2="96.30" y2="431.29" stroke="#151515" stroke-width="0.6" />
<line x1="96.13" y1="434.28" x2="96.13" y2="434.99" stroke="#151515" stroke-width="0.6" />
<line x1="96.13" y1="434.28" x2="97.80" y2="434.28" stroke="#151515" stroke-width="0.6" />
<line x1="96.13" y1="434.99" x2="97.80" y2="434.99" stroke="#151515" stroke-width="0.6" />
<line x1="96.29" y1="435.52" x2="96.29" y2="436.33" stroke="#151515" stroke-width="0.6" />
<line x1="96.29" y1="435.52" x2="97.80" y2="435.52" stroke="#151515" stroke-width="0.6" />
<line x1="96.29" y1="436.33" x2="97.80" y2="436.33" stroke="#151515" stroke-width="0.6" />
<line x1="94.61" y1="434.64" x2="94.61" y2="435.93" stroke="#151515" stroke-width="0.6" />
<line x1="94.61" y1="434.64" x2="96.13" y2="434.64" stroke="#151515" stroke-width="0.6" />
<line x1="94.61" y1="435.93" x2="96.29" y2="435.93" stroke="#151515" stroke-width="0.6" />
<line x1="95.70" y1="437.23" x2="95.70" y2="437.98" stroke="#151515" stroke-width="0.6" />
<line x1="95.70" y1="437.23" x2="97.80" y2="437.23" stroke="#151515" stroke-width="0.6" />
<line x1="95.70" y1="437.98" x2="97.80" y2="437.98" stroke="#151515" stroke-width="0.6" />
<line x1="96.26" y1="438.94" x2="96.26" y2="439.75" stroke="#151515" stroke-width="0.6" />
<line x1="96.26" y1="438.94" x2="97.80" y2="438.94" stroke="#151515" stroke-width="0.6" />
<line x1="96.26" y1="439.75" x2="97.80" y2="439.75" stroke="#151515" stroke-width="0.6" />
<line x1="93.19" y1="437.60" x2="93.19" y2="439.35" stroke="#151515" stroke-width="0.6" />
<line x1="93.19" y1="437.60" x2="95.70" y2="437.60" stroke="#151515" stroke-width="0.6" />
<line x1="93.19" y1="439.35" x2="96.26" y2="439.35" stroke="#151515" stroke-width="0.6" />
<line x1="97.30" y1="153.00" x2="97.30" y2="440.50" stroke="#111" stroke-width="1.1" />
<text x="6.20" y="479.60" font-size="11" text-anchor="start" fill="#111" font-weight="bold"  stroke="#111" stroke-width="0.35">B</text>
<circle cx="73.3" cy="476.2" r="2.6" fill="#dcdcdc"/>
<circle cx="97.5" cy="476.2" r="2.6" fill="#a4cf9c"/>
<circle cx="137.1" cy="476.2" r="2.6" fill="#8898bc"/>
<circle cx="175.8" cy="476.2" r="2.6" fill="#e39494"/>
<text x="78.70" y="478.80" font-size="8" text-anchor="start" fill="#333" font-weight="normal" stroke="#333" stroke-width="0.2" >NS</text>
<text x="102.7" y="478.8" font-size="8" fill="#333" textLength="25.6" lengthAdjust="spacingAndGlyphs">Log<tspan font-size="5.5" dy="1.8">2</tspan><tspan dy="-1.8"> FC</tspan></text>
<text x="143.0" y="478.8" font-size="8" fill="#333" textLength="24.2" lengthAdjust="spacingAndGlyphs"><tspan font-style="italic">P</tspan>–value</text>
<text x="181.8" y="478.8" font-size="8" fill="#333" textLength="49.6" lengthAdjust="spacingAndGlyphs"><tspan font-style="italic">P</tspan>–value and log</text>
<text x="232.2" y="480.6" font-size="5.5" fill="#333">2</text>
<text x="236.9" y="478.8" font-size="8" fill="#333" textLength="8.6" lengthAdjust="spacingAndGlyphs">FC</text>
<circle cx="179.2" cy="612.1" r="2.1" fill="#c4c4ca" fill-opacity="0.9"/>
<circle cx="195.3" cy="610.5" r="2.1" fill="#c4c4ca" fill-opacity="0.9"/>
<circle cx="181.1" cy="612.1" r="2.1" fill="#c4c4ca" fill-opacity="0.9"/>
<circle cx="170.0" cy="610.4" r="2.1" fill="#c4c4ca" fill-opacity="0.9"/>
<circle cx="185.2" cy="611.4" r="2.1" fill="#c4c4ca" fill-opacity="0.9"/>
<circle cx="166.9" cy="611.1" r="2.1" fill="#c4c4ca" fill-opacity="0.9"/>
<circle cx="166.8" cy="609.3" r="2.1" fill="#c4c4ca" fill-opacity="0.9"/>
<circle cx="187.4" cy="612.2" r="2.1" fill="#c4c4ca" fill-opacity="0.9"/>
<circle cx="197.3" cy="608.7" r="2.1" fill="#c4c4ca" fill-opacity="0.9"/>
<circle cx="186.1" cy="611.4" r="2.1" fill="#c4c4ca" fill-opacity="0.9"/>
<circle cx="169.1" cy="612.2" r="2.1" fill="#c4c4ca" fill-opacity="0.9"/>
<circle cx="181.8" cy="612.3" r="2.1" fill="#c4c4ca" fill-opacity="0.9"/>
<circle cx="170.2" cy="611.4" r="2.1" fill="#c4c4ca" fill-opacity="0.9"/>
<circle cx="164.7" cy="610.5" r="2.1" fill="#c4c4ca" fill-opacity="0.9"/>
<circle cx="178.8" cy="611.9" r="2.1" fill="#c4c4ca" fill-opacity="0.9"/>
<circle cx="181.5" cy="612.1" r="2.1" fill="#c4c4ca" fill-opacity="0.9"/>
<circle cx="180.8" cy="612.1" r="2.1" fill="#c4c4ca" fill-opacity="0.9"/>
<circle cx="179.3" cy="612.2" r="2.1" fill="#c4c4ca" fill-opacity="0.9"/>
<circle cx="197.8" cy="608.6" r="2.1" fill="#c4c4ca" fill-opacity="0.9"/>
<circle cx="192.5" cy="609.6" r="2.1" fill="#c4c4ca" fill-opacity="0.9"/>
<circle cx="174.5" cy="611.8" r="2.1" fill="#c4c4ca" fill-opacity="0.9"/>
<circle cx="173.6" cy="612.1" r="2.1" fill="#c4c4ca" fill-opacity="0.9"/>
<circle cx="189.9" cy="610.8" r="2.1" fill="#c4c4ca" fill-opacity="0.9"/>
<circle cx="192.7" cy="610.8" r="2.1" fill="#c4c4ca" fill-opacity="0.9"/>
<circle cx="196.5" cy="609.1" r="2.1" fill="#c4c4ca" fill-opacity="0.9"/>
<circle cx="163.7" cy="611.5" r="2.1" fill="#c4c4ca" fill-opacity="0.9"/>
<circle cx="194.9" cy="610.5" r="2.1" fill="#c4c4ca" fill-opacity="0.9"/>
<circle cx="197.3" cy="610.8" r="2.1" fill="#c4c4ca" fill-opacity="0.9"/>
<circle cx="166.2" cy="609.9" r="2.1" fill="#c4c4ca" fill-opacity="0.9"/>
<circle cx="190.3" cy="611.3" r="2.1" fill="#c4c4ca" fill-opacity="0.9"/>
<circle cx="166.7" cy="611.0" r="2.1" fill="#c4c4ca" fill-opacity="0.9"/>
<circle cx="196.7" cy="609.4" r="2.1" fill="#c4c4ca" fill-opacity="0.9"/>
<circle cx="167.7" cy="611.4" r="2.1" fill="#c4c4ca" fill-opacity="0.9"/>
<circle cx="167.1" cy="612.0" r="2.1" fill="#c4c4ca" fill-opacity="0.9"/>
<circle cx="191.0" cy="611.6" r="2.1" fill="#c4c4ca" fill-opacity="0.9"/>
<circle cx="182.8" cy="612.1" r="2.1" fill="#c4c4ca" fill-opacity="0.9"/>
<circle cx="170.2" cy="609.5" r="2.1" fill="#c4c4ca" fill-opacity="0.9"/>
<circle cx="168.2" cy="609.9" r="2.1" fill="#c4c4ca" fill-opacity="0.9"/>
<circle cx="167.7" cy="610.7" r="2.1" fill="#c4c4ca" fill-opacity="0.9"/>
<circle cx="171.0" cy="611.3" r="2.1" fill="#c4c4ca" fill-opacity="0.9"/>
<circle cx="196.9" cy="609.3" r="2.1" fill="#c4c4ca" fill-opacity="0.9"/>
<circle cx="174.1" cy="610.4" r="2.1" fill="#c4c4ca" fill-opacity="0.9"/>
<circle cx="170.9" cy="610.8" r="2.1" fill="#c4c4ca" fill-opacity="0.9"/>
<circle cx="192.9" cy="609.9" r="2.1" fill="#c4c4ca" fill-opacity="0.9"/>
<circle cx="167.1" cy="608.6" r="2.1" fill="#c4c4ca" fill-opacity="0.9"/>
<circle cx="171.0" cy="611.3" r="2.1" fill="#c4c4ca" fill-opacity="0.9"/>
<circle cx="190.1" cy="611.0" r="2.1" fill="#c4c4ca" fill-opacity="0.9"/>
<circle cx="173.8" cy="612.1" r="2.1" fill="#c4c4ca" fill-opacity="0.9"/>
<circle cx="166.8" cy="610.1" r="2.1" fill="#c4c4ca" fill-opacity="0.9"/>
<circle cx="172.0" cy="610.2" r="2.1" fill="#c4c4ca" fill-opacity="0.9"/>
<circle cx="176.4" cy="611.8" r="2.1" fill="#c4c4ca" fill-opacity="0.9"/>
<circle cx="196.5" cy="610.5" r="2.1" fill="#c4c4ca" fill-opacity="0.9"/>
<circle cx="183.4" cy="611.8" r="2.1" fill="#c4c4ca" fill-opacity="0.9"/>
<circle cx="169.9" cy="611.7" r="2.1" fill="#c4c4ca" fill-opacity="0.9"/>
<circle cx="194.8" cy="609.2" r="2.1" fill="#c4c4ca" fill-opacity="0.9"/>
<circle cx="172.2" cy="611.6" r="2.1" fill="#c4c4ca" fill-opacity="0.9"/>
<circle cx="189.0" cy="609.4" r="2.1" fill="#c4c4ca" fill-opacity="0.9"/>
<circle cx="170.4" cy="608.7" r="2.1" fill="#c4c4ca" fill-opacity="0.9"/>
<circle cx="193.9" cy="610.0" r="2.1" fill="#c4c4ca" fill-opacity="0.9"/>
<circle cx="178.1" cy="612.2" r="2.1" fill="#c4c4ca" fill-opacity="0.9"/>
<circle cx="165.0" cy="608.7" r="2.1" fill="#c4c4ca" fill-opacity="0.9"/>
<circle cx="171.8" cy="609.7" r="2.1" fill="#c4c4ca" fill-opacity="0.9"/>
<circle cx="172.5" cy="609.7" r="2.1" fill="#c4c4ca" fill-opacity="0.9"/>
<circle cx="184.1" cy="612.1" r="2.1" fill="#c4c4ca" fill-opacity="0.9"/>
<circle cx="169.7" cy="609.6" r="2.1" fill="#c4c4ca" fill-opacity="0.9"/>
<circle cx="166.0" cy="611.4" r="2.1" fill="#c4c4ca" fill-opacity="0.9"/>
<circle cx="182.8" cy="611.9" r="2.1" fill="#c4c4ca" fill-opacity="0.9"/>
<circle cx="184.7" cy="612.0" r="2.1" fill="#c4c4ca" fill-opacity="0.9"/>
<circle cx="195.1" cy="611.5" r="2.1" fill="#c4c4ca" fill-opacity="0.9"/>
<circle cx="164.2" cy="611.3" r="2.1" fill="#c4c4ca" fill-opacity="0.9"/>
<circle cx="178.9" cy="612.2" r="2.1" fill="#c4c4ca" fill-opacity="0.9"/>
<circle cx="169.7" cy="610.9" r="2.1" fill="#c4c4ca" fill-opacity="0.9"/>
<circle cx="183.3" cy="612.2" r="2.1" fill="#c4c4ca" fill-opacity="0.9"/>
<circle cx="176.1" cy="611.2" r="2.1" fill="#c4c4ca" fill-opacity="0.9"/>
<circle cx="197.3" cy="609.8" r="2.1" fill="#c4c4ca" fill-opacity="0.9"/>
<circle cx="187.4" cy="611.1" r="2.1" fill="#c4c4ca" fill-opacity="0.9"/>
<circle cx="168.5" cy="612.1" r="2.1" fill="#c4c4ca" fill-opacity="0.9"/>
<circle cx="164.3" cy="608.9" r="2.1" fill="#c4c4ca" fill-opacity="0.9"/>
<circle cx="187.7" cy="610.1" r="2.1" fill="#c4c4ca" fill-opacity="0.9"/>
<circle cx="164.4" cy="609.9" r="2.1" fill="#c4c4ca" fill-opacity="0.9"/>
<circle cx="180.2" cy="612.1" r="2.1" fill="#c4c4ca" fill-opacity="0.9"/>
<circle cx="174.6" cy="610.4" r="2.1" fill="#c4c4ca" fill-opacity="0.9"/>
<circle cx="166.2" cy="610.2" r="2.1" fill="#c4c4ca" fill-opacity="0.9"/>
<circle cx="188.9" cy="609.5" r="2.1" fill="#c4c4ca" fill-opacity="0.9"/>
<circle cx="188.9" cy="610.1" r="2.1" fill="#c4c4ca" fill-opacity="0.9"/>
<circle cx="190.8" cy="608.9" r="2.1" fill="#c4c4ca" fill-opacity="0.9"/>
<circle cx="175.7" cy="611.4" r="2.1" fill="#c4c4ca" fill-opacity="0.9"/>
<circle cx="194.5" cy="609.0" r="2.1" fill="#c4c4ca" fill-opacity="0.9"/>
<circle cx="178.0" cy="611.8" r="2.1" fill="#c4c4ca" fill-opacity="0.9"/>
<circle cx="193.3" cy="610.1" r="2.1" fill="#c4c4ca" fill-opacity="0.9"/>
<circle cx="185.1" cy="611.9" r="2.1" fill="#c4c4ca" fill-opacity="0.9"/>
<circle cx="183.6" cy="611.9" r="2.1" fill="#c4c4ca" fill-opacity="0.9"/>
<circle cx="166.4" cy="609.9" r="2.1" fill="#c4c4ca" fill-opacity="0.9"/>
<circle cx="197.7" cy="609.0" r="2.1" fill="#c4c4ca" fill-opacity="0.9"/>
<circle cx="188.6" cy="611.2" r="2.1" fill="#c4c4ca" fill-opacity="0.9"/>
<circle cx="188.9" cy="610.5" r="2.1" fill="#c4c4ca" fill-opacity="0.9"/>
<circle cx="178.8" cy="611.9" r="2.1" fill="#c4c4ca" fill-opacity="0.9"/>
<circle cx="166.5" cy="609.5" r="2.1" fill="#c4c4ca" fill-opacity="0.9"/>
<circle cx="164.7" cy="610.0" r="2.1" fill="#c4c4ca" fill-opacity="0.9"/>
<circle cx="180.1" cy="612.2" r="2.1" fill="#c4c4ca" fill-opacity="0.9"/>
<circle cx="187.6" cy="611.2" r="2.1" fill="#c4c4ca" fill-opacity="0.9"/>
<circle cx="184.7" cy="611.4" r="2.1" fill="#c4c4ca" fill-opacity="0.9"/>
<circle cx="172.4" cy="612.2" r="2.1" fill="#c4c4ca" fill-opacity="0.9"/>
<circle cx="174.0" cy="610.8" r="2.1" fill="#c4c4ca" fill-opacity="0.9"/>
<circle cx="170.6" cy="611.6" r="2.1" fill="#c4c4ca" fill-opacity="0.9"/>
<circle cx="194.7" cy="609.8" r="2.1" fill="#c4c4ca" fill-opacity="0.9"/>
<circle cx="178.8" cy="611.9" r="2.1" fill="#c4c4ca" fill-opacity="0.9"/>
<circle cx="174.9" cy="611.1" r="2.1" fill="#c4c4ca" fill-opacity="0.9"/>
<circle cx="170.5" cy="610.7" r="2.1" fill="#c4c4ca" fill-opacity="0.9"/>
<circle cx="191.3" cy="608.9" r="2.1" fill="#c4c4ca" fill-opacity="0.9"/>
<circle cx="193.8" cy="610.8" r="2.1" fill="#c4c4ca" fill-opacity="0.9"/>
<circle cx="183.6" cy="612.1" r="2.1" fill="#c4c4ca" fill-opacity="0.9"/>
<circle cx="168.3" cy="610.4" r="2.1" fill="#c4c4ca" fill-opacity="0.9"/>
<circle cx="192.3" cy="609.1" r="2.1" fill="#c4c4ca" fill-opacity="0.9"/>
<circle cx="188.0" cy="609.9" r="2.1" fill="#c4c4ca" fill-opacity="0.9"/>
<circle cx="173.2" cy="611.8" r="2.1" fill="#c4c4ca" fill-opacity="0.9"/>
<circle cx="179.1" cy="612.2" r="2.1" fill="#c4c4ca" fill-opacity="0.9"/>
<circle cx="171.0" cy="610.7" r="2.1" fill="#c4c4ca" fill-opacity="0.9"/>
<circle cx="185.1" cy="611.8" r="2.1" fill="#c4c4ca" fill-opacity="0.9"/>
<circle cx="174.5" cy="610.6" r="2.1" fill="#c4c4ca" fill-opacity="0.9"/>
<circle cx="197.3" cy="610.6" r="2.1" fill="#c4c4ca" fill-opacity="0.9"/>
<circle cx="166.2" cy="612.2" r="2.1" fill="#c4c4ca" fill-opacity="0.9"/>
<circle cx="193.6" cy="612.1" r="2.1" fill="#c4c4ca" fill-opacity="0.9"/>
<circle cx="187.9" cy="610.9" r="2.1" fill="#c4c4ca" fill-opacity="0.9"/>
<circle cx="174.3" cy="610.6" r="2.1" fill="#c4c4ca" fill-opacity="0.9"/>
<circle cx="164.3" cy="611.8" r="2.1" fill="#c4c4ca" fill-opacity="0.9"/>
<circle cx="179.3" cy="612.3" r="2.1" fill="#c4c4ca" fill-opacity="0.9"/>
<circle cx="192.1" cy="611.4" r="2.1" fill="#c4c4ca" fill-opacity="0.9"/>
<circle cx="168.5" cy="612.1" r="2.1" fill="#c4c4ca" fill-opacity="0.9"/>
<circle cx="185.2" cy="611.8" r="2.1" fill="#c4c4ca" fill-opacity="0.9"/>
<circle cx="185.3" cy="611.6" r="2.1" fill="#c4c4ca" fill-opacity="0.9"/>
<circle cx="191.3" cy="608.7" r="2.1" fill="#c4c4ca" fill-opacity="0.9"/>
<circle cx="187.1" cy="611.9" r="2.1" fill="#c4c4ca" fill-opacity="0.9"/>
<circle cx="179.9" cy="612.2" r="2.1" fill="#c4c4ca" fill-opacity="0.9"/>
<circle cx="164.0" cy="610.5" r="2.1" fill="#c4c4ca" fill-opacity="0.9"/>
<circle cx="188.1" cy="611.8" r="2.1" fill="#c4c4ca" fill-opacity="0.9"/>
<circle cx="173.0" cy="611.3" r="2.1" fill="#c4c4ca" fill-opacity="0.9"/>
<circle cx="187.6" cy="611.1" r="2.1" fill="#c4c4ca" fill-opacity="0.9"/>
<circle cx="184.7" cy="611.6" r="2.1" fill="#c4c4ca" fill-opacity="0.9"/>
<circle cx="177.2" cy="611.6" r="2.1" fill="#c4c4ca" fill-opacity="0.9"/>
<circle cx="194.7" cy="611.9" r="2.1" fill="#c4c4ca" fill-opacity="0.9"/>
<circle cx="195.6" cy="609.6" r="2.1" fill="#c4c4ca" fill-opacity="0.9"/>
<circle cx="168.1" cy="610.6" r="2.1" fill="#c4c4ca" fill-opacity="0.9"/>
<circle cx="185.1" cy="611.3" r="2.1" fill="#c4c4ca" fill-opacity="0.9"/>
<circle cx="176.6" cy="611.7" r="2.1" fill="#c4c4ca" fill-opacity="0.9"/>
<circle cx="193.8" cy="609.3" r="2.1" fill="#c4c4ca" fill-opacity="0.9"/>
<circle cx="196.0" cy="610.5" r="2.1" fill="#c4c4ca" fill-opacity="0.9"/>
<circle cx="186.0" cy="612.0" r="2.1" fill="#c4c4ca" fill-opacity="0.9"/>
<circle cx="188.4" cy="610.1" r="2.1" fill="#c4c4ca" fill-opacity="0.9"/>
<circle cx="185.7" cy="611.4" r="2.1" fill="#c4c4ca" fill-opacity="0.9"/>
<circle cx="171.0" cy="608.9" r="2.1" fill="#c4c4ca" fill-opacity="0.9"/>
<circle cx="197.3" cy="608.6" r="2.1" fill="#c4c4ca" fill-opacity="0.9"/>
<circle cx="182.1" cy="612.0" r="2.1" fill="#c4c4ca" fill-opacity="0.9"/>
<circle cx="174.6" cy="610.6" r="2.1" fill="#c4c4ca" fill-opacity="0.9"/>
<circle cx="193.0" cy="611.0" r="2.1" fill="#c4c4ca" fill-opacity="0.9"/>
<circle cx="166.5" cy="610.6" r="2.1" fill="#c4c4ca" fill-opacity="0.9"/>
<circle cx="182.5" cy="612.0" r="2.1" fill="#c4c4ca" fill-opacity="0.9"/>
<circle cx="180.4" cy="612.3" r="2.1" fill="#c4c4ca" fill-opacity="0.9"/>
<circle cx="191.4" cy="612.0" r="2.1" fill="#c4c4ca" fill-opacity="0.9"/>
<circle cx="191.1" cy="611.6" r="2.1" fill="#c4c4ca" fill-opacity="0.9"/>
<circle cx="175.1" cy="611.0" r="2.1" fill="#c4c4ca" fill-opacity="0.9"/>
<circle cx="168.5" cy="611.7" r="2.1" fill="#c4c4ca" fill-opacity="0.9"/>
<circle cx="181.4" cy="612.1" r="2.1" fill="#c4c4ca" fill-opacity="0.9"/>
<circle cx="192.4" cy="609.7" r="2.1" fill="#c4c4ca" fill-opacity="0.9"/>
<circle cx="196.1" cy="610.4" r="2.1" fill="#c4c4ca" fill-opacity="0.9"/>
<circle cx="196.2" cy="611.9" r="2.1" fill="#c4c4ca" fill-opacity="0.9"/>
<circle cx="171.3" cy="610.3" r="2.1" fill="#c4c4ca" fill-opacity="0.9"/>
<circle cx="173.6" cy="610.5" r="2.1" fill="#c4c4ca" fill-opacity="0.9"/>
<circle cx="185.6" cy="611.6" r="2.1" fill="#c4c4ca" fill-opacity="0.9"/>
<circle cx="192.6" cy="610.2" r="2.1" fill="#c4c4ca" fill-opacity="0.9"/>
<circle cx="174.3" cy="611.5" r="2.1" fill="#c4c4ca" fill-opacity="0.9"/>
<circle cx="192.6" cy="608.9" r="2.1" fill="#c4c4ca" fill-opacity="0.9"/>
<circle cx="170.8" cy="609.1" r="2.1" fill="#c4c4ca" fill-opacity="0.9"/>
<circle cx="196.8" cy="610.3" r="2.1" fill="#c4c4ca" fill-opacity="0.9"/>
<circle cx="183.3" cy="612.2" r="2.1" fill="#c4c4ca" fill-opacity="0.9"/>
<circle cx="182.0" cy="612.1" r="2.1" fill="#c4c4ca" fill-opacity="0.9"/>
<circle cx="184.4" cy="612.2" r="2.1" fill="#c4c4ca" fill-opacity="0.9"/>
<circle cx="196.9" cy="610.3" r="2.1" fill="#c4c4ca" fill-opacity="0.9"/>
<circle cx="177.4" cy="611.7" r="2.1" fill="#c4c4ca" fill-opacity="0.9"/>
<circle cx="183.0" cy="612.0" r="2.1" fill="#c4c4ca" fill-opacity="0.9"/>
<circle cx="187.3" cy="612.1" r="2.1" fill="#c4c4ca" fill-opacity="0.9"/>
<circle cx="182.1" cy="612.1" r="2.1" fill="#c4c4ca" fill-opacity="0.9"/>
<circle cx="196.5" cy="608.8" r="2.1" fill="#c4c4ca" fill-opacity="0.9"/>
<circle cx="172.9" cy="610.9" r="2.1" fill="#c4c4ca" fill-opacity="0.9"/>
<circle cx="168.0" cy="610.7" r="2.1" fill="#c4c4ca" fill-opacity="0.9"/>
<circle cx="191.6" cy="608.9" r="2.1" fill="#c4c4ca" fill-opacity="0.9"/>
<circle cx="180.0" cy="612.2" r="2.1" fill="#c4c4ca" fill-opacity="0.9"/>
<circle cx="170.2" cy="610.0" r="2.1" fill="#c4c4ca" fill-opacity="0.9"/>
<circle cx="195.4" cy="611.8" r="2.1" fill="#c4c4ca" fill-opacity="0.9"/>
<circle cx="190.4" cy="612.2" r="2.1" fill="#c4c4ca" fill-opacity="0.9"/>
<circle cx="170.3" cy="611.4" r="2.1" fill="#c4c4ca" fill-opacity="0.9"/>
<circle cx="187.2" cy="611.6" r="2.1" fill="#c4c4ca" fill-opacity="0.9"/>
<circle cx="175.8" cy="611.5" r="2.1" fill="#c4c4ca" fill-opacity="0.9"/>
<circle cx="167.3" cy="609.6" r="2.1" fill="#c4c4ca" fill-opacity="0.9"/>
<circle cx="167.9" cy="610.4" r="2.1" fill="#c4c4ca" fill-opacity="0.9"/>
<circle cx="172.3" cy="611.6" r="2.1" fill="#c4c4ca" fill-opacity="0.9"/>
<circle cx="181.8" cy="612.1" r="2.1" fill="#c4c4ca" fill-opacity="0.9"/>
<circle cx="176.5" cy="611.8" r="2.1" fill="#c4c4ca" fill-opacity="0.9"/>
<circle cx="181.8" cy="612.2" r="2.1" fill="#c4c4ca" fill-opacity="0.9"/>
<circle cx="170.7" cy="609.9" r="2.1" fill="#c4c4ca" fill-opacity="0.9"/>
<circle cx="185.5" cy="611.6" r="2.1" fill="#c4c4ca" fill-opacity="0.9"/>
<circle cx="192.8" cy="610.0" r="2.1" fill="#c4c4ca" fill-opacity="0.9"/>
<circle cx="193.0" cy="611.4" r="2.1" fill="#c4c4ca" fill-opacity="0.9"/>
<circle cx="189.0" cy="609.7" r="2.1" fill="#c4c4ca" fill-opacity="0.9"/>
<circle cx="194.6" cy="611.1" r="2.1" fill="#c4c4ca" fill-opacity="0.9"/>
<circle cx="174.5" cy="610.5" r="2.1" fill="#c4c4ca" fill-opacity="0.9"/>
<circle cx="171.1" cy="608.6" r="2.1" fill="#c4c4ca" fill-opacity="0.9"/>
<circle cx="194.1" cy="611.8" r="2.1" fill="#c4c4ca" fill-opacity="0.9"/>
<circle cx="171.9" cy="609.6" r="2.1" fill="#c4c4ca" fill-opacity="0.9"/>
<circle cx="172.6" cy="612.0" r="2.1" fill="#c4c4ca" fill-opacity="0.9"/>
<circle cx="192.2" cy="610.7" r="2.1" fill="#c4c4ca" fill-opacity="0.9"/>
<circle cx="190.7" cy="611.8" r="2.1" fill="#c4c4ca" fill-opacity="0.9"/>
<circle cx="177.5" cy="611.8" r="2.1" fill="#c4c4ca" fill-opacity="0.9"/>
<circle cx="164.3" cy="611.5" r="2.1" fill="#c4c4ca" fill-opacity="0.9"/>
<circle cx="187.0" cy="610.5" r="2.1" fill="#c4c4ca" fill-opacity="0.9"/>
<circle cx="196.8" cy="611.8" r="2.1" fill="#c4c4ca" fill-opacity="0.9"/>
<circle cx="181.0" cy="612.1" r="2.1" fill="#c4c4ca" fill-opacity="0.9"/>
<circle cx="180.9" cy="612.1" r="2.1" fill="#c4c4ca" fill-opacity="0.9"/>
<circle cx="170.1" cy="612.0" r="2.1" fill="#c4c4ca" fill-opacity="0.9"/>
<circle cx="167.3" cy="612.1" r="2.1" fill="#c4c4ca" fill-opacity="0.9"/>
<circle cx="182.6" cy="612.1" r="2.1" fill="#c4c4ca" fill-opacity="0.9"/>
<circle cx="183.2" cy="612.2" r="2.1" fill="#c4c4ca" fill-opacity="0.9"/>
<circle cx="170.0" cy="611.5" r="2.1" fill="#c4c4ca" fill-opacity="0.9"/>
<circle cx="192.5" cy="608.6" r="2.1" fill="#c4c4ca" fill-opacity="0.9"/>
<circle cx="195.4" cy="611.9" r="2.1" fill="#c4c4ca" fill-opacity="0.9"/>
<circle cx="165.8" cy="608.7" r="2.1" fill="#c4c4ca" fill-opacity="0.9"/>
<circle cx="179.5" cy="612.0" r="2.1" fill="#c4c4ca" fill-opacity="0.9"/>
<circle cx="174.9" cy="611.5" r="2.1" fill="#c4c4ca" fill-opacity="0.9"/>
<circle cx="181.3" cy="612.2" r="2.1" fill="#c4c4ca" fill-opacity="0.9"/>
<circle cx="184.3" cy="612.3" r="2.1" fill="#c4c4ca" fill-opacity="0.9"/>
<circle cx="187.7" cy="610.4" r="2.1" fill="#c4c4ca" fill-opacity="0.9"/>
<circle cx="169.9" cy="610.6" r="2.1" fill="#c4c4ca" fill-opacity="0.9"/>
<circle cx="189.0" cy="611.0" r="2.1" fill="#c4c4ca" fill-opacity="0.9"/>
<circle cx="170.4" cy="611.7" r="2.1" fill="#c4c4ca" fill-opacity="0.9"/>
<circle cx="181.2" cy="612.3" r="2.1" fill="#c4c4ca" fill-opacity="0.9"/>
<circle cx="194.3" cy="609.3" r="2.1" fill="#c4c4ca" fill-opacity="0.9"/>
<circle cx="187.8" cy="610.3" r="2.1" fill="#c4c4ca" fill-opacity="0.9"/>
<circle cx="185.2" cy="611.8" r="2.1" fill="#c4c4ca" fill-opacity="0.9"/>
<circle cx="184.2" cy="611.9" r="2.1" fill="#c4c4ca" fill-opacity="0.9"/>
<circle cx="197.3" cy="609.3" r="2.1" fill="#c4c4ca" fill-opacity="0.9"/>
<circle cx="172.5" cy="609.4" r="2.1" fill="#c4c4ca" fill-opacity="0.9"/>
<circle cx="189.2" cy="609.8" r="2.1" fill="#c4c4ca" fill-opacity="0.9"/>
<circle cx="191.6" cy="610.8" r="2.1" fill="#c4c4ca" fill-opacity="0.9"/>
<circle cx="194.4" cy="609.0" r="2.1" fill="#c4c4ca" fill-opacity="0.9"/>
<circle cx="187.5" cy="610.6" r="2.1" fill="#c4c4ca" fill-opacity="0.9"/>
<circle cx="189.9" cy="610.8" r="2.1" fill="#c4c4ca" fill-opacity="0.9"/>
<circle cx="188.4" cy="612.1" r="2.1" fill="#c4c4ca" fill-opacity="0.9"/>
<circle cx="175.4" cy="611.6" r="2.1" fill="#c4c4ca" fill-opacity="0.9"/>
<circle cx="164.0" cy="610.9" r="2.1" fill="#c4c4ca" fill-opacity="0.9"/>
<circle cx="185.6" cy="611.5" r="2.1" fill="#c4c4ca" fill-opacity="0.9"/>
<circle cx="171.6" cy="608.8" r="2.1" fill="#c4c4ca" fill-opacity="0.9"/>
<circle cx="186.5" cy="611.7" r="2.1" fill="#c4c4ca" fill-opacity="0.9"/>
<circle cx="186.3" cy="611.4" r="2.1" fill="#c4c4ca" fill-opacity="0.9"/>
<circle cx="181.9" cy="612.1" r="2.1" fill="#c4c4ca" fill-opacity="0.9"/>
<circle cx="197.9" cy="609.9" r="2.1" fill="#c4c4ca" fill-opacity="0.9"/>
<circle cx="187.7" cy="610.6" r="2.1" fill="#c4c4ca" fill-opacity="0.9"/>
<circle cx="197.2" cy="612.2" r="2.1" fill="#c4c4ca" fill-opacity="0.9"/>
<circle cx="184.8" cy="611.6" r="2.1" fill="#c4c4ca" fill-opacity="0.9"/>
<circle cx="172.5" cy="611.0" r="2.1" fill="#c4c4ca" fill-opacity="0.9"/>
<circle cx="165.4" cy="611.5" r="2.1" fill="#c4c4ca" fill-opacity="0.9"/>
<circle cx="176.5" cy="612.2" r="2.1" fill="#c4c4ca" fill-opacity="0.9"/>
<circle cx="172.3" cy="609.3" r="2.1" fill="#c4c4ca" fill-opacity="0.9"/>
<circle cx="182.5" cy="612.1" r="2.1" fill="#c4c4ca" fill-opacity="0.9"/>
<circle cx="196.8" cy="610.2" r="2.1" fill="#c4c4ca" fill-opacity="0.9"/>
<circle cx="197.8" cy="609.9" r="2.1" fill="#c4c4ca" fill-opacity="0.9"/>
<circle cx="191.4" cy="612.0" r="2.1" fill="#c4c4ca" fill-opacity="0.9"/>
<circle cx="184.1" cy="611.7" r="2.1" fill="#c4c4ca" fill-opacity="0.9"/>
<circle cx="165.2" cy="608.8" r="2.1" fill="#c4c4ca" fill-opacity="0.9"/>
<circle cx="169.1" cy="610.5" r="2.1" fill="#c4c4ca" fill-opacity="0.9"/>
<circle cx="169.5" cy="610.4" r="2.1" fill="#c4c4ca" fill-opacity="0.9"/>
<circle cx="184.6" cy="612.2" r="2.1" fill="#c4c4ca" fill-opacity="0.9"/>
<circle cx="196.1" cy="610.7" r="2.1" fill="#c4c4ca" fill-opacity="0.9"/>
<circle cx="181.7" cy="612.1" r="2.1" fill="#c4c4ca" fill-opacity="0.9"/>
<circle cx="176.2" cy="611.9" r="2.1" fill="#c4c4ca" fill-opacity="0.9"/>
<circle cx="186.1" cy="611.5" r="2.1" fill="#c4c4ca" fill-opacity="0.9"/>
<circle cx="173.4" cy="610.4" r="2.1" fill="#c4c4ca" fill-opacity="0.9"/>
<circle cx="173.8" cy="612.2" r="2.1" fill="#c4c4ca" fill-opacity="0.9"/>
<circle cx="172.1" cy="612.1" r="2.1" fill="#c4c4ca" fill-opacity="0.9"/>
<circle cx="169.0" cy="609.5" r="2.1" fill="#c4c4ca" fill-opacity="0.9"/>
<circle cx="177.0" cy="611.5" r="2.1" fill="#c4c4ca" fill-opacity="0.9"/>
<circle cx="189.3" cy="612.1" r="2.1" fill="#c4c4ca" fill-opacity="0.9"/>
<circle cx="197.5" cy="608.8" r="2.1" fill="#c4c4ca" fill-opacity="0.9"/>
<circle cx="166.2" cy="608.9" r="2.1" fill="#c4c4ca" fill-opacity="0.9"/>
<circle cx="178.4" cy="612.0" r="2.1" fill="#c4c4ca" fill-opacity="0.9"/>
<circle cx="197.0" cy="611.4" r="2.1" fill="#c4c4ca" fill-opacity="0.9"/>
<circle cx="181.6" cy="612.0" r="2.1" fill="#c4c4ca" fill-opacity="0.9"/>
<circle cx="188.4" cy="611.0" r="2.1" fill="#c4c4ca" fill-opacity="0.9"/>
<circle cx="197.2" cy="609.2" r="2.1" fill="#c4c4ca" fill-opacity="0.9"/>
<circle cx="184.4" cy="612.2" r="2.1" fill="#c4c4ca" fill-opacity="0.9"/>
<circle cx="185.1" cy="611.8" r="2.1" fill="#c4c4ca" fill-opacity="0.9"/>
<circle cx="170.6" cy="612.1" r="2.1" fill="#c4c4ca" fill-opacity="0.9"/>
<circle cx="181.8" cy="612.2" r="2.1" fill="#c4c4ca" fill-opacity="0.9"/>
<circle cx="178.8" cy="612.0" r="2.1" fill="#c4c4ca" fill-opacity="0.9"/>
<circle cx="179.3" cy="612.2" r="2.1" fill="#c4c4ca" fill-opacity="0.9"/>
<circle cx="183.6" cy="612.0" r="2.1" fill="#c4c4ca" fill-opacity="0.9"/>
<circle cx="190.3" cy="610.3" r="2.1" fill="#c4c4ca" fill-opacity="0.9"/>
<circle cx="197.8" cy="608.7" r="2.1" fill="#c4c4ca" fill-opacity="0.9"/>
<circle cx="188.8" cy="611.6" r="2.1" fill="#c4c4ca" fill-opacity="0.9"/>
<circle cx="167.6" cy="608.9" r="2.1" fill="#c4c4ca" fill-opacity="0.9"/>
<circle cx="190.5" cy="609.9" r="2.1" fill="#c4c4ca" fill-opacity="0.9"/>
<circle cx="176.0" cy="611.9" r="2.1" fill="#c4c4ca" fill-opacity="0.9"/>
<circle cx="187.1" cy="611.2" r="2.1" fill="#c4c4ca" fill-opacity="0.9"/>
<circle cx="183.9" cy="611.8" r="2.1" fill="#c4c4ca" fill-opacity="0.9"/>
<circle cx="189.5" cy="611.6" r="2.1" fill="#c4c4ca" fill-opacity="0.9"/>
<circle cx="172.2" cy="609.0" r="2.1" fill="#c4c4ca" fill-opacity="0.9"/>
<circle cx="195.0" cy="609.0" r="2.1" fill="#c4c4ca" fill-opacity="0.9"/>
<circle cx="165.0" cy="612.0" r="2.1" fill="#c4c4ca" fill-opacity="0.9"/>
<circle cx="173.0" cy="611.1" r="2.1" fill="#c4c4ca" fill-opacity="0.9"/>
<circle cx="185.0" cy="612.2" r="2.1" fill="#c4c4ca" fill-opacity="0.9"/>
<circle cx="182.2" cy="612.2" r="2.1" fill="#c4c4ca" fill-opacity="0.9"/>
<circle cx="166.6" cy="609.8" r="2.1" fill="#c4c4ca" fill-opacity="0.9"/>
<circle cx="182.5" cy="612.0" r="2.1" fill="#c4c4ca" fill-opacity="0.9"/>
<circle cx="176.5" cy="611.8" r="2.1" fill="#c4c4ca" fill-opacity="0.9"/>
<circle cx="170.9" cy="611.0" r="2.1" fill="#c4c4ca" fill-opacity="0.9"/>
<circle cx="189.2" cy="609.6" r="2.1" fill="#c4c4ca" fill-opacity="0.9"/>
<circle cx="166.2" cy="611.8" r="2.1" fill="#c4c4ca" fill-opacity="0.9"/>
<circle cx="191.4" cy="609.9" r="2.1" fill="#c4c4ca" fill-opacity="0.9"/>
<circle cx="190.0" cy="611.5" r="2.1" fill="#c4c4ca" fill-opacity="0.9"/>
<circle cx="178.2" cy="612.1" r="2.1" fill="#c4c4ca" fill-opacity="0.9"/>
<circle cx="191.4" cy="610.9" r="2.1" fill="#c4c4ca" fill-opacity="0.9"/>
<circle cx="186.1" cy="610.9" r="2.1" fill="#c4c4ca" fill-opacity="0.9"/>
<circle cx="174.8" cy="611.3" r="2.1" fill="#c4c4ca" fill-opacity="0.9"/>
<circle cx="189.2" cy="609.3" r="2.1" fill="#c4c4ca" fill-opacity="0.9"/>
<circle cx="178.3" cy="612.1" r="2.1" fill="#c4c4ca" fill-opacity="0.9"/>
<circle cx="167.0" cy="609.0" r="2.1" fill="#c4c4ca" fill-opacity="0.9"/>
<circle cx="166.4" cy="612.0" r="2.1" fill="#c4c4ca" fill-opacity="0.9"/>
<circle cx="183.0" cy="612.0" r="2.1" fill="#c4c4ca" fill-opacity="0.9"/>
<circle cx="187.1" cy="611.7" r="2.1" fill="#c4c4ca" fill-opacity="0.9"/>
<circle cx="190.2" cy="612.0" r="2.1" fill="#c4c4ca" fill-opacity="0.9"/>
<circle cx="171.0" cy="609.8" r="2.1" fill="#c4c4ca" fill-opacity="0.9"/>
<circle cx="166.5" cy="611.1" r="2.1" fill="#c4c4ca" fill-opacity="0.9"/>
<circle cx="188.5" cy="610.4" r="2.1" fill="#c4c4ca" fill-opacity="0.9"/>
<circle cx="173.4" cy="611.9" r="2.1" fill="#c4c4ca" fill-opacity="0.9"/>
<circle cx="175.9" cy="611.4" r="2.1" fill="#c4c4ca" fill-opacity="0.9"/>
<circle cx="176.2" cy="612.1" r="2.1" fill="#c4c4ca" fill-opacity="0.9"/>
<circle cx="188.0" cy="610.9" r="2.1" fill="#c4c4ca" fill-opacity="0.9"/>
<circle cx="195.1" cy="608.8" r="2.1" fill="#c4c4ca" fill-opacity="0.9"/>
<circle cx="195.0" cy="610.6" r="2.1" fill="#c4c4ca" fill-opacity="0.9"/>
<circle cx="191.2" cy="611.1" r="2.1" fill="#c4c4ca" fill-opacity="0.9"/>
<circle cx="174.6" cy="611.5" r="2.1" fill="#c4c4ca" fill-opacity="0.9"/>
<circle cx="195.7" cy="608.9" r="2.1" fill="#c4c4ca" fill-opacity="0.9"/>
<circle cx="172.2" cy="611.0" r="2.1" fill="#c4c4ca" fill-opacity="0.9"/>
<circle cx="176.2" cy="611.9" r="2.1" fill="#c4c4ca" fill-opacity="0.9"/>
<circle cx="177.2" cy="612.0" r="2.1" fill="#c4c4ca" fill-opacity="0.9"/>
<circle cx="170.3" cy="610.2" r="2.1" fill="#c4c4ca" fill-opacity="0.9"/>
<circle cx="191.0" cy="610.3" r="2.1" fill="#c4c4ca" fill-opacity="0.9"/>
<circle cx="192.3" cy="610.2" r="2.1" fill="#c4c4ca" fill-opacity="0.9"/>
<circle cx="169.7" cy="609.4" r="2.1" fill="#c4c4ca" fill-opacity="0.9"/>
<circle cx="193.8" cy="611.2" r="2.1" fill="#c4c4ca" fill-opacity="0.9"/>
<circle cx="164.4" cy="610.4" r="2.1" fill="#c4c4ca" fill-opacity="0.9"/>
<circle cx="182.3" cy="612.1" r="2.1" fill="#c4c4ca" fill-opacity="0.9"/>
<circle cx="196.8" cy="609.8" r="2.1" fill="#c4c4ca" fill-opacity="0.9"/>
<circle cx="191.2" cy="612.0" r="2.1" fill="#c4c4ca" fill-opacity="0.9"/>
<circle cx="182.4" cy="612.0" r="2.1" fill="#c4c4ca" fill-opacity="0.9"/>
<circle cx="166.5" cy="612.0" r="2.1" fill="#c4c4ca" fill-opacity="0.9"/>
<circle cx="188.9" cy="609.5" r="2.1" fill="#c4c4ca" fill-opacity="0.9"/>
<circle cx="166.6" cy="609.9" r="2.1" fill="#c4c4ca" fill-opacity="0.9"/>
<circle cx="168.6" cy="609.5" r="2.1" fill="#c4c4ca" fill-opacity="0.9"/>
<circle cx="185.9" cy="611.9" r="2.1" fill="#c4c4ca" fill-opacity="0.9"/>
<circle cx="171.2" cy="609.4" r="2.1" fill="#c4c4ca" fill-opacity="0.9"/>
<circle cx="181.5" cy="612.1" r="2.1" fill="#c4c4ca" fill-opacity="0.9"/>
<circle cx="177.2" cy="612.0" r="2.1" fill="#c4c4ca" fill-opacity="0.9"/>
<circle cx="196.8" cy="609.8" r="2.1" fill="#c4c4ca" fill-opacity="0.9"/>
<circle cx="180.6" cy="612.1" r="2.1" fill="#c4c4ca" fill-opacity="0.9"/>
<circle cx="188.4" cy="610.4" r="2.1" fill="#c4c4ca" fill-opacity="0.9"/>
<circle cx="195.0" cy="610.7" r="2.1" fill="#c4c4ca" fill-opacity="0.9"/>
<circle cx="192.0" cy="609.8" r="2.1" fill="#c4c4ca" fill-opacity="0.9"/>
<circle cx="192.9" cy="609.3" r="2.1" fill="#c4c4ca" fill-opacity="0.9"/>
<circle cx="192.2" cy="609.0" r="2.1" fill="#c4c4ca" fill-opacity="0.9"/>
<circle cx="196.5" cy="609.9" r="2.1" fill="#c4c4ca" fill-opacity="0.9"/>
<circle cx="181.6" cy="612.1" r="2.1" fill="#c4c4ca" fill-opacity="0.9"/>
<circle cx="191.2" cy="610.7" r="2.1" fill="#c4c4ca" fill-opacity="0.9"/>
<circle cx="178.1" cy="612.2" r="2.1" fill="#c4c4ca" fill-opacity="0.9"/>
<circle cx="189.1" cy="609.2" r="2.1" fill="#c4c4ca" fill-opacity="0.9"/>
<circle cx="176.5" cy="612.1" r="2.1" fill="#c4c4ca" fill-opacity="0.9"/>
<circle cx="170.7" cy="610.7" r="2.1" fill="#c4c4ca" fill-opacity="0.9"/>
<circle cx="173.7" cy="610.0" r="2.1" fill="#c4c4ca" fill-opacity="0.9"/>
<circle cx="165.7" cy="611.1" r="2.1" fill="#c4c4ca" fill-opacity="0.9"/>
<circle cx="167.6" cy="609.9" r="2.1" fill="#c4c4ca" fill-opacity="0.9"/>
<circle cx="190.3" cy="611.6" r="2.1" fill="#c4c4ca" fill-opacity="0.9"/>
<circle cx="165.8" cy="610.6" r="2.1" fill="#c4c4ca" fill-opacity="0.9"/>
<circle cx="183.7" cy="611.7" r="2.1" fill="#c4c4ca" fill-opacity="0.9"/>
<circle cx="164.9" cy="611.9" r="2.1" fill="#c4c4ca" fill-opacity="0.9"/>
<circle cx="170.0" cy="611.5" r="2.1" fill="#c4c4ca" fill-opacity="0.9"/>
<circle cx="171.7" cy="609.6" r="2.1" fill="#c4c4ca" fill-opacity="0.9"/>
<circle cx="184.0" cy="612.1" r="2.1" fill="#c4c4ca" fill-opacity="0.9"/>
<circle cx="170.0" cy="611.2" r="2.1" fill="#c4c4ca" fill-opacity="0.9"/>
<circle cx="169.6" cy="609.5" r="2.1" fill="#c4c4ca" fill-opacity="0.9"/>
<circle cx="174.3" cy="611.2" r="2.1" fill="#c4c4ca" fill-opacity="0.9"/>
<circle cx="191.7" cy="610.5" r="2.1" fill="#c4c4ca" fill-opacity="0.9"/>
<circle cx="172.6" cy="609.5" r="2.1" fill="#c4c4ca" fill-opacity="0.9"/>
<circle cx="195.0" cy="611.0" r="2.1" fill="#c4c4ca" fill-opacity="0.9"/>
<circle cx="182.4" cy="611.9" r="2.1" fill="#c4c4ca" fill-opacity="0.9"/>
<circle cx="180.2" cy="612.2" r="2.1" fill="#c4c4ca" fill-opacity="0.9"/>
<circle cx="165.4" cy="608.7" r="2.1" fill="#c4c4ca" fill-opacity="0.9"/>
<circle cx="191.1" cy="610.8" r="2.1" fill="#c4c4ca" fill-opacity="0.9"/>
<circle cx="181.7" cy="612.1" r="2.1" fill="#c4c4ca" fill-opacity="0.9"/>
<circle cx="173.1" cy="609.5" r="2.1" fill="#c4c4ca" fill-opacity="0.9"/>
<circle cx="186.2" cy="611.9" r="2.1" fill="#c4c4ca" fill-opacity="0.9"/>
<circle cx="164.0" cy="610.5" r="2.1" fill="#c4c4ca" fill-opacity="0.9"/>
<circle cx="176.4" cy="611.4" r="2.1" fill="#c4c4ca" fill-opacity="0.9"/>
<circle cx="188.1" cy="610.8" r="2.1" fill="#c4c4ca" fill-opacity="0.9"/>
<circle cx="169.1" cy="611.7" r="2.1" fill="#c4c4ca" fill-opacity="0.9"/>
<circle cx="174.7" cy="611.8" r="2.1" fill="#c4c4ca" fill-opacity="0.9"/>
<circle cx="193.5" cy="610.3" r="2.1" fill="#c4c4ca" fill-opacity="0.9"/>
<circle cx="185.5" cy="611.1" r="2.1" fill="#c4c4ca" fill-opacity="0.9"/>
<circle cx="172.8" cy="610.7" r="2.1" fill="#c4c4ca" fill-opacity="0.9"/>
<circle cx="168.8" cy="609.4" r="2.1" fill="#c4c4ca" fill-opacity="0.9"/>
<circle cx="163.7" cy="609.2" r="2.1" fill="#c4c4ca" fill-opacity="0.9"/>
<circle cx="192.7" cy="609.2" r="2.1" fill="#c4c4ca" fill-opacity="0.9"/>
<circle cx="166.5" cy="611.3" r="2.1" fill="#c4c4ca" fill-opacity="0.9"/>
<circle cx="188.2" cy="612.0" r="2.1" fill="#c4c4ca" fill-opacity="0.9"/>
<circle cx="180.1" cy="612.1" r="2.1" fill="#c4c4ca" fill-opacity="0.9"/>
<circle cx="196.4" cy="610.1" r="2.1" fill="#c4c4ca" fill-opacity="0.9"/>
<circle cx="193.0" cy="611.1" r="2.1" fill="#c4c4ca" fill-opacity="0.9"/>
<circle cx="190.7" cy="610.7" r="2.1" fill="#c4c4ca" fill-opacity="0.9"/>
<circle cx="195.1" cy="611.9" r="2.1" fill="#c4c4ca" fill-opacity="0.9"/>
<circle cx="192.0" cy="611.5" r="2.1" fill="#c4c4ca" fill-opacity="0.9"/>
<circle cx="182.3" cy="612.1" r="2.1" fill="#c4c4ca" fill-opacity="0.9"/>
<circle cx="169.1" cy="609.2" r="2.1" fill="#c4c4ca" fill-opacity="0.9"/>
<circle cx="174.3" cy="611.6" r="2.1" fill="#c4c4ca" fill-opacity="0.9"/>
<circle cx="166.3" cy="611.1" r="2.1" fill="#c4c4ca" fill-opacity="0.9"/>
<circle cx="179.7" cy="612.0" r="2.1" fill="#c4c4ca" fill-opacity="0.9"/>
<circle cx="176.0" cy="611.4" r="2.1" fill="#c4c4ca" fill-opacity="0.9"/>
<circle cx="167.3" cy="610.8" r="2.1" fill="#c4c4ca" fill-opacity="0.9"/>
<circle cx="179.5" cy="612.0" r="2.1" fill="#c4c4ca" fill-opacity="0.9"/>
<circle cx="192.1" cy="609.8" r="2.1" fill="#c4c4ca" fill-opacity="0.9"/>
<circle cx="164.1" cy="610.9" r="2.1" fill="#c4c4ca" fill-opacity="0.9"/>
<circle cx="188.0" cy="611.7" r="2.1" fill="#c4c4ca" fill-opacity="0.9"/>
<circle cx="183.0" cy="612.1" r="2.1" fill="#c4c4ca" fill-opacity="0.9"/>
<circle cx="164.0" cy="608.6" r="2.1" fill="#c4c4ca" fill-opacity="0.9"/>
<circle cx="191.1" cy="611.5" r="2.1" fill="#c4c4ca" fill-opacity="0.9"/>
<circle cx="184.8" cy="612.0" r="2.1" fill="#c4c4ca" fill-opacity="0.9"/>
<circle cx="176.6" cy="611.7" r="2.1" fill="#c4c4ca" fill-opacity="0.9"/>
<circle cx="173.9" cy="611.5" r="2.1" fill="#c4c4ca" fill-opacity="0.9"/>
<circle cx="177.1" cy="611.7" r="2.1" fill="#c4c4ca" fill-opacity="0.9"/>
<circle cx="172.5" cy="611.6" r="2.1" fill="#c4c4ca" fill-opacity="0.9"/>
<circle cx="188.7" cy="611.3" r="2.1" fill="#c4c4ca" fill-opacity="0.9"/>
<circle cx="196.0" cy="610.2" r="2.1" fill="#c4c4ca" fill-opacity="0.9"/>
<circle cx="188.5" cy="611.4" r="2.1" fill="#c4c4ca" fill-opacity="0.9"/>
<circle cx="192.0" cy="611.9" r="2.1" fill="#c4c4ca" fill-opacity="0.9"/>
<circle cx="168.5" cy="611.9" r="2.1" fill="#c4c4ca" fill-opacity="0.9"/>
<circle cx="186.9" cy="611.0" r="2.1" fill="#c4c4ca" fill-opacity="0.9"/>
<circle cx="169.8" cy="610.8" r="2.1" fill="#c4c4ca" fill-opacity="0.9"/>
<circle cx="192.3" cy="610.1" r="2.1" fill="#c4c4ca" fill-opacity="0.9"/>
<circle cx="166.8" cy="611.4" r="2.1" fill="#c4c4ca" fill-opacity="0.9"/>
<circle cx="169.1" cy="611.8" r="2.1" fill="#c4c4ca" fill-opacity="0.9"/>
<circle cx="177.6" cy="612.2" r="2.1" fill="#c4c4ca" fill-opacity="0.9"/>
<circle cx="195.2" cy="610.7" r="2.1" fill="#c4c4ca" fill-opacity="0.9"/>
<circle cx="181.2" cy="612.1" r="2.1" fill="#c4c4ca" fill-opacity="0.9"/>
<circle cx="189.9" cy="609.2" r="2.1" fill="#c4c4ca" fill-opacity="0.9"/>
<circle cx="176.9" cy="612.0" r="2.1" fill="#c4c4ca" fill-opacity="0.9"/>
<circle cx="177.8" cy="612.3" r="2.1" fill="#c4c4ca" fill-opacity="0.9"/>
<circle cx="177.4" cy="611.8" r="2.1" fill="#c4c4ca" fill-opacity="0.9"/>
<circle cx="197.3" cy="609.3" r="2.1" fill="#c4c4ca" fill-opacity="0.9"/>
<circle cx="186.3" cy="611.3" r="2.1" fill="#c4c4ca" fill-opacity="0.9"/>
<circle cx="164.3" cy="611.0" r="2.1" fill="#c4c4ca" fill-opacity="0.9"/>
<circle cx="175.4" cy="611.3" r="2.1" fill="#c4c4ca" fill-opacity="0.9"/>
<circle cx="167.3" cy="610.9" r="2.1" fill="#c4c4ca" fill-opacity="0.9"/>
<circle cx="181.1" cy="612.1" r="2.1" fill="#c4c4ca" fill-opacity="0.9"/>
<circle cx="191.9" cy="610.0" r="2.1" fill="#c4c4ca" fill-opacity="0.9"/>
<circle cx="169.1" cy="609.4" r="2.1" fill="#c4c4ca" fill-opacity="0.9"/>
<circle cx="194.6" cy="610.2" r="2.1" fill="#c4c4ca" fill-opacity="0.9"/>
<circle cx="175.7" cy="611.6" r="2.1" fill="#c4c4ca" fill-opacity="0.9"/>
<circle cx="168.5" cy="609.6" r="2.1" fill="#c4c4ca" fill-opacity="0.9"/>
<circle cx="197.5" cy="610.3" r="2.1" fill="#c4c4ca" fill-opacity="0.9"/>
<circle cx="188.2" cy="610.1" r="2.1" fill="#c4c4ca" fill-opacity="0.9"/>
<circle cx="170.4" cy="608.8" r="2.1" fill="#c4c4ca" fill-opacity="0.9"/>
<circle cx="185.2" cy="612.1" r="2.1" fill="#c4c4ca" fill-opacity="0.9"/>
<circle cx="166.5" cy="611.4" r="2.1" fill="#c4c4ca" fill-opacity="0.9"/>
<circle cx="183.4" cy="611.9" r="2.1" fill="#c4c4ca" fill-opacity="0.9"/>
<circle cx="174.9" cy="610.7" r="2.1" fill="#c4c4ca" fill-opacity="0.9"/>
<circle cx="176.0" cy="611.7" r="2.1" fill="#c4c4ca" fill-opacity="0.9"/>
<circle cx="167.9" cy="608.6" r="2.1" fill="#c4c4ca" fill-opacity="0.9"/>
<circle cx="168.3" cy="608.9" r="2.1" fill="#c4c4ca" fill-opacity="0.9"/>
<circle cx="182.3" cy="612.1" r="2.1" fill="#c4c4ca" fill-opacity="0.9"/>
<circle cx="182.9" cy="612.2" r="2.1" fill="#c4c4ca" fill-opacity="0.9"/>
<circle cx="194.8" cy="608.6" r="2.1" fill="#c4c4ca" fill-opacity="0.9"/>
<circle cx="191.7" cy="610.0" r="2.1" fill="#c4c4ca" fill-opacity="0.9"/>
<circle cx="167.9" cy="609.2" r="2.1" fill="#c4c4ca" fill-opacity="0.9"/>
<circle cx="173.6" cy="610.1" r="2.1" fill="#c4c4ca" fill-opacity="0.9"/>
<circle cx="171.9" cy="610.2" r="2.1" fill="#c4c4ca" fill-opacity="0.9"/>
<circle cx="192.1" cy="611.6" r="2.1" fill="#c4c4ca" fill-opacity="0.9"/>
<circle cx="182.4" cy="612.2" r="2.1" fill="#c4c4ca" fill-opacity="0.9"/>
<circle cx="164.8" cy="611.6" r="2.1" fill="#c4c4ca" fill-opacity="0.9"/>
<circle cx="197.5" cy="608.8" r="2.1" fill="#c4c4ca" fill-opacity="0.9"/>
<circle cx="186.2" cy="611.8" r="2.1" fill="#c4c4ca" fill-opacity="0.9"/>
<circle cx="186.7" cy="611.0" r="2.1" fill="#c4c4ca" fill-opacity="0.9"/>
<circle cx="176.7" cy="611.7" r="2.1" fill="#c4c4ca" fill-opacity="0.9"/>
<circle cx="191.2" cy="612.2" r="2.1" fill="#c4c4ca" fill-opacity="0.9"/>
<circle cx="170.5" cy="610.5" r="2.1" fill="#c4c4ca" fill-opacity="0.9"/>
<circle cx="168.6" cy="610.8" r="2.1" fill="#c4c4ca" fill-opacity="0.9"/>
<circle cx="183.2" cy="612.2" r="2.1" fill="#c4c4ca" fill-opacity="0.9"/>
<circle cx="181.5" cy="612.2" r="2.1" fill="#c4c4ca" fill-opacity="0.9"/>
<circle cx="183.1" cy="612.1" r="2.1" fill="#c4c4ca" fill-opacity="0.9"/>
<circle cx="185.7" cy="612.2" r="2.1" fill="#c4c4ca" fill-opacity="0.9"/>
<circle cx="186.7" cy="612.0" r="2.1" fill="#c4c4ca" fill-opacity="0.9"/>
<circle cx="196.5" cy="610.0" r="2.1" fill="#c4c4ca" fill-opacity="0.9"/>
<circle cx="179.8" cy="612.1" r="2.1" fill="#c4c4ca" fill-opacity="0.9"/>
<circle cx="185.0" cy="611.6" r="2.1" fill="#c4c4ca" fill-opacity="0.9"/>
<circle cx="189.6" cy="609.6" r="2.1" fill="#c4c4ca" fill-opacity="0.9"/>
<circle cx="180.3" cy="612.0" r="2.1" fill="#c4c4ca" fill-opacity="0.9"/>
<circle cx="192.4" cy="609.1" r="2.1" fill="#c4c4ca" fill-opacity="0.9"/>
<circle cx="177.7" cy="612.0" r="2.1" fill="#c4c4ca" fill-opacity="0.9"/>
<circle cx="183.1" cy="611.8" r="2.1" fill="#c4c4ca" fill-opacity="0.9"/>
<circle cx="181.7" cy="612.1" r="2.1" fill="#c4c4ca" fill-opacity="0.9"/>
<circle cx="178.5" cy="611.8" r="2.1" fill="#c4c4ca" fill-opacity="0.9"/>
<circle cx="174.7" cy="612.2" r="2.1" fill="#c4c4ca" fill-opacity="0.9"/>
<circle cx="188.5" cy="609.8" r="2.1" fill="#c4c4ca" fill-opacity="0.9"/>
<circle cx="188.7" cy="610.5" r="2.1" fill="#c4c4ca" fill-opacity="0.9"/>
<circle cx="189.4" cy="611.2" r="2.1" fill="#c4c4ca" fill-opacity="0.9"/>
<circle cx="184.0" cy="612.2" r="2.1" fill="#c4c4ca" fill-opacity="0.9"/>
<circle cx="167.9" cy="610.6" r="2.1" fill="#c4c4ca" fill-opacity="0.9"/>
<circle cx="180.9" cy="612.2" r="2.1" fill="#c4c4ca" fill-opacity="0.9"/>
<circle cx="165.5" cy="609.7" r="2.1" fill="#c4c4ca" fill-opacity="0.9"/>
<circle cx="181.7" cy="612.2" r="2.1" fill="#c4c4ca" fill-opacity="0.9"/>
<circle cx="174.2" cy="611.4" r="2.1" fill="#c4c4ca" fill-opacity="0.9"/>
<circle cx="171.8" cy="612.0" r="2.1" fill="#c4c4ca" fill-opacity="0.9"/>
<circle cx="194.9" cy="608.7" r="2.1" fill="#c4c4ca" fill-opacity="0.9"/>
<circle cx="186.5" cy="610.9" r="2.1" fill="#c4c4ca" fill-opacity="0.9"/>
<circle cx="178.1" cy="611.8" r="2.1" fill="#c4c4ca" fill-opacity="0.9"/>
<circle cx="171.3" cy="609.5" r="2.1" fill="#c4c4ca" fill-opacity="0.9"/>
<circle cx="183.1" cy="611.8" r="2.1" fill="#c4c4ca" fill-opacity="0.9"/>
<circle cx="167.0" cy="609.3" r="2.1" fill="#c4c4ca" fill-opacity="0.9"/>
<circle cx="167.9" cy="610.3" r="2.1" fill="#c4c4ca" fill-opacity="0.9"/>
<circle cx="196.3" cy="612.3" r="2.1" fill="#c4c4ca" fill-opacity="0.9"/>
<circle cx="172.0" cy="611.2" r="2.1" fill="#c4c4ca" fill-opacity="0.9"/>
<circle cx="174.8" cy="612.2" r="2.1" fill="#c4c4ca" fill-opacity="0.9"/>
<circle cx="194.3" cy="609.2" r="2.1" fill="#c4c4ca" fill-opacity="0.9"/>
<circle cx="177.3" cy="612.0" r="2.1" fill="#c4c4ca" fill-opacity="0.9"/>
<circle cx="183.7" cy="612.2" r="2.1" fill="#c4c4ca" fill-opacity="0.9"/>
<circle cx="164.7" cy="608.9" r="2.1" fill="#c4c4ca" fill-opacity="0.9"/>
<circle cx="174.2" cy="611.2" r="2.1" fill="#c4c4ca" fill-opacity="0.9"/>
<circle cx="195.7" cy="608.6" r="2.1" fill="#c4c4ca" fill-opacity="0.9"/>
<circle cx="179.9" cy="612.2" r="2.1" fill="#c4c4ca" fill-opacity="0.9"/>
<circle cx="173.8" cy="610.1" r="2.1" fill="#c4c4ca" fill-opacity="0.9"/>
<circle cx="194.4" cy="611.5" r="2.1" fill="#c4c4ca" fill-opacity="0.9"/>
<circle cx="192.4" cy="611.0" r="2.1" fill="#c4c4ca" fill-opacity="0.9"/>
<circle cx="179.9" cy="612.2" r="2.1" fill="#c4c4ca" fill-opacity="0.9"/>
<circle cx="193.8" cy="608.6" r="2.1" fill="#c4c4ca" fill-opacity="0.9"/>
<circle cx="170.6" cy="609.9" r="2.1" fill="#c4c4ca" fill-opacity="0.9"/>
<circle cx="170.2" cy="609.0" r="2.1" fill="#c4c4ca" fill-opacity="0.9"/>
<circle cx="165.4" cy="611.9" r="2.1" fill="#c4c4ca" fill-opacity="0.9"/>
<circle cx="188.5" cy="611.4" r="2.1" fill="#c4c4ca" fill-opacity="0.9"/>
<circle cx="194.5" cy="609.0" r="2.1" fill="#c4c4ca" fill-opacity="0.9"/>
<circle cx="188.1" cy="611.9" r="2.1" fill="#c4c4ca" fill-opacity="0.9"/>
<circle cx="187.5" cy="610.3" r="2.1" fill="#c4c4ca" fill-opacity="0.9"/>
<circle cx="178.9" cy="612.2" r="2.1" fill="#c4c4ca" fill-opacity="0.9"/>
<circle cx="171.3" cy="611.1" r="2.1" fill="#c4c4ca" fill-opacity="0.9"/>
<circle cx="188.0" cy="611.8" r="2.1" fill="#c4c4ca" fill-opacity="0.9"/>
<circle cx="169.9" cy="611.4" r="2.1" fill="#c4c4ca" fill-opacity="0.9"/>
<circle cx="186.4" cy="611.0" r="2.1" fill="#c4c4ca" fill-opacity="0.9"/>
<circle cx="176.4" cy="611.6" r="2.1" fill="#c4c4ca" fill-opacity="0.9"/>
<circle cx="194.0" cy="610.1" r="2.1" fill="#c4c4ca" fill-opacity="0.9"/>
<circle cx="171.5" cy="611.1" r="2.1" fill="#c4c4ca" fill-opacity="0.9"/>
<circle cx="195.4" cy="609.8" r="2.1" fill="#c4c4ca" fill-opacity="0.9"/>
<circle cx="173.2" cy="610.5" r="2.1" fill="#c4c4ca" fill-opacity="0.9"/>
<circle cx="166.8" cy="608.6" r="2.1" fill="#c4c4ca" fill-opacity="0.9"/>
<circle cx="178.8" cy="612.0" r="2.1" fill="#c4c4ca" fill-opacity="0.9"/>
<circle cx="181.9" cy="612.3" r="2.1" fill="#c4c4ca" fill-opacity="0.9"/>
<circle cx="184.2" cy="612.1" r="2.1" fill="#c4c4ca" fill-opacity="0.9"/>
<circle cx="172.3" cy="609.6" r="2.1" fill="#c4c4ca" fill-opacity="0.9"/>
<circle cx="166.7" cy="611.2" r="2.1" fill="#c4c4ca" fill-opacity="0.9"/>
<circle cx="189.6" cy="611.4" r="2.1" fill="#c4c4ca" fill-opacity="0.9"/>
<circle cx="173.2" cy="610.8" r="2.1" fill="#c4c4ca" fill-opacity="0.9"/>
<circle cx="170.1" cy="608.9" r="2.1" fill="#c4c4ca" fill-opacity="0.9"/>
<circle cx="197.5" cy="612.1" r="2.1" fill="#c4c4ca" fill-opacity="0.9"/>
<circle cx="179.5" cy="612.0" r="2.1" fill="#c4c4ca" fill-opacity="0.9"/>
<circle cx="176.9" cy="611.4" r="2.1" fill="#c4c4ca" fill-opacity="0.9"/>
<circle cx="180.8" cy="612.2" r="2.1" fill="#c4c4ca" fill-opacity="0.9"/>
<circle cx="182.7" cy="612.0" r="2.1" fill="#c4c4ca" fill-opacity="0.9"/>
<circle cx="176.0" cy="611.5" r="2.1" fill="#c4c4ca" fill-opacity="0.9"/>
<circle cx="190.5" cy="610.3" r="2.1" fill="#c4c4ca" fill-opacity="0.9"/>
<circle cx="181.0" cy="612.1" r="2.1" fill="#c4c4ca" fill-opacity="0.9"/>
<circle cx="187.1" cy="611.3" r="2.1" fill="#c4c4ca" fill-opacity="0.9"/>
<circle cx="196.3" cy="611.6" r="2.1" fill="#c4c4ca" fill-opacity="0.9"/>
<circle cx="190.4" cy="611.7" r="2.1" fill="#c4c4ca" fill-opacity="0.9"/>
<circle cx="184.5" cy="612.1" r="2.1" fill="#c4c4ca" fill-opacity="0.9"/>
<circle cx="178.8" cy="611.9" r="2.1" fill="#c4c4ca" fill-opacity="0.9"/>
<circle cx="190.6" cy="609.3" r="2.1" fill="#c4c4ca" fill-opacity="0.9"/>
<circle cx="171.8" cy="610.5" r="2.1" fill="#c4c4ca" fill-opacity="0.9"/>
<circle cx="171.2" cy="610.1" r="2.1" fill="#c4c4ca" fill-opacity="0.9"/>
<circle cx="180.8" cy="612.3" r="2.1" fill="#c4c4ca" fill-opacity="0.9"/>
<circle cx="184.1" cy="611.8" r="2.1" fill="#c4c4ca" fill-opacity="0.9"/>
<circle cx="183.3" cy="611.8" r="2.1" fill="#c4c4ca" fill-opacity="0.9"/>
<circle cx="169.8" cy="611.7" r="2.1" fill="#c4c4ca" fill-opacity="0.9"/>
<circle cx="164.3" cy="610.4" r="2.1" fill="#c4c4ca" fill-opacity="0.9"/>
<circle cx="178.6" cy="612.1" r="2.1" fill="#c4c4ca" fill-opacity="0.9"/>
<circle cx="172.7" cy="609.9" r="2.1" fill="#c4c4ca" fill-opacity="0.9"/>
<circle cx="166.2" cy="608.9" r="2.1" fill="#c4c4ca" fill-opacity="0.9"/>
<circle cx="183.2" cy="612.0" r="2.1" fill="#c4c4ca" fill-opacity="0.9"/>
<circle cx="190.8" cy="611.4" r="2.1" fill="#c4c4ca" fill-opacity="0.9"/>
<circle cx="168.7" cy="611.1" r="2.1" fill="#c4c4ca" fill-opacity="0.9"/>
<circle cx="165.1" cy="611.1" r="2.1" fill="#c4c4ca" fill-opacity="0.9"/>
<circle cx="185.0" cy="611.8" r="2.1" fill="#c4c4ca" fill-opacity="0.9"/>
<circle cx="172.7" cy="610.5" r="2.1" fill="#c4c4ca" fill-opacity="0.9"/>
<circle cx="166.7" cy="609.2" r="2.1" fill="#c4c4ca" fill-opacity="0.9"/>
<circle cx="169.5" cy="611.3" r="2.1" fill="#c4c4ca" fill-opacity="0.9"/>
<circle cx="169.1" cy="609.7" r="2.1" fill="#c4c4ca" fill-opacity="0.9"/>
<circle cx="192.1" cy="609.3" r="2.1" fill="#c4c4ca" fill-opacity="0.9"/>
<circle cx="165.8" cy="610.7" r="2.1" fill="#c4c4ca" fill-opacity="0.9"/>
<circle cx="176.2" cy="612.0" r="2.1" fill="#c4c4ca" fill-opacity="0.9"/>
<circle cx="196.9" cy="612.1" r="2.1" fill="#c4c4ca" fill-opacity="0.9"/>
<circle cx="180.4" cy="612.1" r="2.1" fill="#c4c4ca" fill-opacity="0.9"/>
<circle cx="197.5" cy="611.7" r="2.1" fill="#c4c4ca" fill-opacity="0.9"/>
<circle cx="179.3" cy="612.0" r="2.1" fill="#c4c4ca" fill-opacity="0.9"/>
<circle cx="165.0" cy="611.4" r="2.1" fill="#c4c4ca" fill-opacity="0.9"/>
<circle cx="194.2" cy="611.7" r="2.1" fill="#c4c4ca" fill-opacity="0.9"/>
<circle cx="177.1" cy="612.0" r="2.1" fill="#c4c4ca" fill-opacity="0.9"/>
<circle cx="178.2" cy="612.2" r="2.1" fill="#c4c4ca" fill-opacity="0.9"/>
<circle cx="164.8" cy="608.6" r="2.1" fill="#c4c4ca" fill-opacity="0.9"/>
<circle cx="189.8" cy="609.6" r="2.1" fill="#c4c4ca" fill-opacity="0.9"/>
<circle cx="171.5" cy="611.3" r="2.1" fill="#c4c4ca" fill-opacity="0.9"/>
<circle cx="182.6" cy="612.2" r="2.1" fill="#c4c4ca" fill-opacity="0.9"/>
<circle cx="179.5" cy="612.0" r="2.1" fill="#c4c4ca" fill-opacity="0.9"/>
<circle cx="176.1" cy="611.9" r="2.1" fill="#c4c4ca" fill-opacity="0.9"/>
<circle cx="197.3" cy="610.0" r="2.1" fill="#c4c4ca" fill-opacity="0.9"/>
<circle cx="165.0" cy="610.8" r="2.1" fill="#c4c4ca" fill-opacity="0.9"/>
<circle cx="185.9" cy="612.2" r="2.1" fill="#c4c4ca" fill-opacity="0.9"/>
<circle cx="175.4" cy="611.2" r="2.1" fill="#c4c4ca" fill-opacity="0.9"/>
<circle cx="193.3" cy="610.1" r="2.1" fill="#c4c4ca" fill-opacity="0.9"/>
<circle cx="194.0" cy="610.5" r="2.1" fill="#c4c4ca" fill-opacity="0.9"/>
<circle cx="177.1" cy="611.6" r="2.1" fill="#c4c4ca" fill-opacity="0.9"/>
<circle cx="176.7" cy="611.5" r="2.1" fill="#c4c4ca" fill-opacity="0.9"/>
<circle cx="171.0" cy="611.0" r="2.1" fill="#c4c4ca" fill-opacity="0.9"/>
<circle cx="170.0" cy="610.2" r="2.1" fill="#c4c4ca" fill-opacity="0.9"/>
<circle cx="169.3" cy="611.5" r="2.1" fill="#c4c4ca" fill-opacity="0.9"/>
<circle cx="171.0" cy="610.5" r="2.1" fill="#c4c4ca" fill-opacity="0.9"/>
<circle cx="174.2" cy="611.3" r="2.1" fill="#c4c4ca" fill-opacity="0.9"/>
<circle cx="197.7" cy="609.7" r="2.1" fill="#c4c4ca" fill-opacity="0.9"/>
<circle cx="193.2" cy="611.5" r="2.1" fill="#c4c4ca" fill-opacity="0.9"/>
<circle cx="176.8" cy="612.2" r="2.1" fill="#c4c4ca" fill-opacity="0.9"/>
<circle cx="187.4" cy="611.5" r="2.1" fill="#c4c4ca" fill-opacity="0.9"/>
<circle cx="173.1" cy="612.2" r="2.1" fill="#c4c4ca" fill-opacity="0.9"/>
<circle cx="169.9" cy="611.3" r="2.1" fill="#c4c4ca" fill-opacity="0.9"/>
<circle cx="177.1" cy="611.5" r="2.1" fill="#c4c4ca" fill-opacity="0.9"/>
<circle cx="188.2" cy="611.6" r="2.1" fill="#c4c4ca" fill-opacity="0.9"/>
<circle cx="176.0" cy="612.1" r="2.1" fill="#c4c4ca" fill-opacity="0.9"/>
<circle cx="195.8" cy="610.9" r="2.1" fill="#c4c4ca" fill-opacity="0.9"/>
<circle cx="189.9" cy="609.6" r="2.1" fill="#c4c4ca" fill-opacity="0.9"/>
<circle cx="194.7" cy="612.2" r="2.1" fill="#c4c4ca" fill-opacity="0.9"/>
<circle cx="174.7" cy="611.6" r="2.1" fill="#c4c4ca" fill-opacity="0.9"/>
<circle cx="166.5" cy="609.0" r="2.1" fill="#c4c4ca" fill-opacity="0.9"/>
<circle cx="174.8" cy="610.9" r="2.1" fill="#c4c4ca" fill-opacity="0.9"/>
<circle cx="181.5" cy="612.3" r="2.1" fill="#c4c4ca" fill-opacity="0.9"/>
<circle cx="177.2" cy="612.1" r="2.1" fill="#c4c4ca" fill-opacity="0.9"/>
<circle cx="165.1" cy="611.7" r="2.1" fill="#c4c4ca" fill-opacity="0.9"/>
<circle cx="184.1" cy="612.2" r="2.1" fill="#c4c4ca" fill-opacity="0.9"/>
<circle cx="174.4" cy="611.4" r="2.1" fill="#c4c4ca" fill-opacity="0.9"/>
<circle cx="182.3" cy="612.2" r="2.1" fill="#c4c4ca" fill-opacity="0.9"/>
<circle cx="187.9" cy="611.7" r="2.1" fill="#c4c4ca" fill-opacity="0.9"/>
<circle cx="188.5" cy="610.4" r="2.1" fill="#c4c4ca" fill-opacity="0.9"/>
<circle cx="168.7" cy="611.5" r="2.1" fill="#c4c4ca" fill-opacity="0.9"/>
<circle cx="173.3" cy="610.4" r="2.1" fill="#c4c4ca" fill-opacity="0.9"/>
<circle cx="177.6" cy="612.0" r="2.1" fill="#c4c4ca" fill-opacity="0.9"/>
<circle cx="193.3" cy="611.4" r="2.1" fill="#c4c4ca" fill-opacity="0.9"/>
<circle cx="173.7" cy="611.4" r="2.1" fill="#c4c4ca" fill-opacity="0.9"/>
<circle cx="171.1" cy="612.1" r="2.1" fill="#c4c4ca" fill-opacity="0.9"/>
<circle cx="164.5" cy="609.9" r="2.1" fill="#c4c4ca" fill-opacity="0.9"/>
<circle cx="183.1" cy="611.9" r="2.1" fill="#c4c4ca" fill-opacity="0.9"/>
<circle cx="197.1" cy="611.2" r="2.1" fill="#c4c4ca" fill-opacity="0.9"/>
<circle cx="186.6" cy="610.7" r="2.1" fill="#c4c4ca" fill-opacity="0.9"/>
<circle cx="171.1" cy="609.7" r="2.1" fill="#c4c4ca" fill-opacity="0.9"/>
<circle cx="186.5" cy="610.7" r="2.1" fill="#c4c4ca" fill-opacity="0.9"/>
<circle cx="193.4" cy="611.4" r="2.1" fill="#c4c4ca" fill-opacity="0.9"/>
<circle cx="185.3" cy="612.2" r="2.1" fill="#c4c4ca" fill-opacity="0.9"/>
<circle cx="178.3" cy="612.1" r="2.1" fill="#c4c4ca" fill-opacity="0.9"/>
<circle cx="165.7" cy="610.8" r="2.1" fill="#c4c4ca" fill-opacity="0.9"/>
<circle cx="174.9" cy="611.4" r="2.1" fill="#c4c4ca" fill-opacity="0.9"/>
<circle cx="173.3" cy="611.8" r="2.1" fill="#c4c4ca" fill-opacity="0.9"/>
<circle cx="177.5" cy="611.9" r="2.1" fill="#c4c4ca" fill-opacity="0.9"/>
<circle cx="169.4" cy="609.8" r="2.1" fill="#c4c4ca" fill-opacity="0.9"/>
<circle cx="171.9" cy="611.9" r="2.1" fill="#c4c4ca" fill-opacity="0.9"/>
<circle cx="175.4" cy="611.6" r="2.1" fill="#c4c4ca" fill-opacity="0.9"/>
<circle cx="168.8" cy="610.1" r="2.1" fill="#c4c4ca" fill-opacity="0.9"/>
<circle cx="187.7" cy="611.0" r="2.1" fill="#c4c4ca" fill-opacity="0.9"/>
<circle cx="187.7" cy="612.2" r="2.1" fill="#c4c4ca" fill-opacity="0.9"/>
<circle cx="177.1" cy="612.0" r="2.1" fill="#c4c4ca" fill-opacity="0.9"/>
<circle cx="165.8" cy="610.8" r="2.1" fill="#c4c4ca" fill-opacity="0.9"/>
<circle cx="165.5" cy="610.4" r="2.1" fill="#c4c4ca" fill-opacity="0.9"/>
<circle cx="183.7" cy="612.0" r="2.1" fill="#c4c4ca" fill-opacity="0.9"/>
<circle cx="174.8" cy="611.8" r="2.1" fill="#c4c4ca" fill-opacity="0.9"/>
<circle cx="164.5" cy="611.0" r="2.1" fill="#c4c4ca" fill-opacity="0.9"/>
<circle cx="194.2" cy="610.2" r="2.1" fill="#c4c4ca" fill-opacity="0.9"/>
<circle cx="172.6" cy="610.2" r="2.1" fill="#c4c4ca" fill-opacity="0.9"/>
<circle cx="170.0" cy="610.5" r="2.1" fill="#c4c4ca" fill-opacity="0.9"/>
<circle cx="184.7" cy="611.4" r="2.1" fill="#c4c4ca" fill-opacity="0.9"/>
<circle cx="176.1" cy="611.6" r="2.1" fill="#c4c4ca" fill-opacity="0.9"/>
<circle cx="196.0" cy="609.4" r="2.1" fill="#c4c4ca" fill-opacity="0.9"/>
<circle cx="185.2" cy="611.6" r="2.1" fill="#c4c4ca" fill-opacity="0.9"/>
<circle cx="177.7" cy="612.0" r="2.1" fill="#c4c4ca" fill-opacity="0.9"/>
<circle cx="173.1" cy="610.0" r="2.1" fill="#c4c4ca" fill-opacity="0.9"/>
<circle cx="193.8" cy="610.8" r="2.1" fill="#c4c4ca" fill-opacity="0.9"/>
<circle cx="194.8" cy="612.1" r="2.1" fill="#c4c4ca" fill-opacity="0.9"/>
<circle cx="168.3" cy="610.4" r="2.1" fill="#c4c4ca" fill-opacity="0.9"/>
<circle cx="174.2" cy="611.5" r="2.1" fill="#c4c4ca" fill-opacity="0.9"/>
<circle cx="197.1" cy="611.7" r="2.1" fill="#c4c4ca" fill-opacity="0.9"/>
<circle cx="170.3" cy="611.4" r="2.1" fill="#c4c4ca" fill-opacity="0.9"/>
<circle cx="187.0" cy="611.8" r="2.1" fill="#c4c4ca" fill-opacity="0.9"/>
<circle cx="163.7" cy="610.2" r="2.1" fill="#c4c4ca" fill-opacity="0.9"/>
<circle cx="177.2" cy="612.1" r="2.1" fill="#c4c4ca" fill-opacity="0.9"/>
<circle cx="180.6" cy="612.1" r="2.1" fill="#c4c4ca" fill-opacity="0.9"/>
<circle cx="182.4" cy="612.0" r="2.1" fill="#c4c4ca" fill-opacity="0.9"/>
<circle cx="182.9" cy="611.9" r="2.1" fill="#c4c4ca" fill-opacity="0.9"/>
<circle cx="196.9" cy="611.0" r="2.1" fill="#c4c4ca" fill-opacity="0.9"/>
<circle cx="175.5" cy="611.0" r="2.1" fill="#c4c4ca" fill-opacity="0.9"/>
<circle cx="174.4" cy="610.9" r="2.1" fill="#c4c4ca" fill-opacity="0.9"/>
<circle cx="187.5" cy="610.8" r="2.1" fill="#c4c4ca" fill-opacity="0.9"/>
<circle cx="196.7" cy="609.2" r="2.1" fill="#c4c4ca" fill-opacity="0.9"/>
<circle cx="169.1" cy="610.0" r="2.1" fill="#c4c4ca" fill-opacity="0.9"/>
<circle cx="180.5" cy="612.1" r="2.1" fill="#c4c4ca" fill-opacity="0.9"/>
<circle cx="176.3" cy="612.0" r="2.1" fill="#c4c4ca" fill-opacity="0.9"/>
<circle cx="189.3" cy="610.5" r="2.1" fill="#c4c4ca" fill-opacity="0.9"/>
<circle cx="171.8" cy="611.4" r="2.1" fill="#c4c4ca" fill-opacity="0.9"/>
<circle cx="174.8" cy="612.0" r="2.1" fill="#c4c4ca" fill-opacity="0.9"/>
<circle cx="181.3" cy="612.2" r="2.1" fill="#c4c4ca" fill-opacity="0.9"/>
<circle cx="165.8" cy="612.0" r="2.1" fill="#c4c4ca" fill-opacity="0.9"/>
<circle cx="167.2" cy="609.6" r="2.1" fill="#c4c4ca" fill-opacity="0.9"/>
<circle cx="167.5" cy="610.6" r="2.1" fill="#c4c4ca" fill-opacity="0.9"/>
<circle cx="190.1" cy="610.5" r="2.1" fill="#c4c4ca" fill-opacity="0.9"/>
<circle cx="169.2" cy="609.0" r="2.1" fill="#c4c4ca" fill-opacity="0.9"/>
<circle cx="193.5" cy="612.1" r="2.1" fill="#c4c4ca" fill-opacity="0.9"/>
<circle cx="172.4" cy="610.6" r="2.1" fill="#c4c4ca" fill-opacity="0.9"/>
<circle cx="191.0" cy="610.8" r="2.1" fill="#c4c4ca" fill-opacity="0.9"/>
<circle cx="188.2" cy="611.6" r="2.1" fill="#c4c4ca" fill-opacity="0.9"/>
<circle cx="188.2" cy="611.4" r="2.1" fill="#c4c4ca" fill-opacity="0.9"/>
<circle cx="175.1" cy="611.0" r="2.1" fill="#c4c4ca" fill-opacity="0.9"/>
<circle cx="192.5" cy="609.2" r="2.1" fill="#c4c4ca" fill-opacity="0.9"/>
<circle cx="183.1" cy="612.1" r="2.1" fill="#c4c4ca" fill-opacity="0.9"/>
<circle cx="187.9" cy="610.8" r="2.1" fill="#c4c4ca" fill-opacity="0.9"/>
<circle cx="192.1" cy="609.3" r="2.1" fill="#c4c4ca" fill-opacity="0.9"/>
<circle cx="168.0" cy="610.9" r="2.1" fill="#c4c4ca" fill-opacity="0.9"/>
<circle cx="186.6" cy="611.9" r="2.1" fill="#c4c4ca" fill-opacity="0.9"/>
<circle cx="170.0" cy="612.2" r="2.1" fill="#c4c4ca" fill-opacity="0.9"/>
<circle cx="183.7" cy="611.7" r="2.1" fill="#c4c4ca" fill-opacity="0.9"/>
<circle cx="196.9" cy="611.8" r="2.1" fill="#c4c4ca" fill-opacity="0.9"/>
<circle cx="187.2" cy="611.4" r="2.1" fill="#c4c4ca" fill-opacity="0.9"/>
<circle cx="185.3" cy="611.8" r="2.1" fill="#c4c4ca" fill-opacity="0.9"/>
<circle cx="195.6" cy="608.6" r="2.1" fill="#c4c4ca" fill-opacity="0.9"/>
<circle cx="165.3" cy="609.6" r="2.1" fill="#c4c4ca" fill-opacity="0.9"/>
<circle cx="167.7" cy="612.1" r="2.1" fill="#c4c4ca" fill-opacity="0.9"/>
<circle cx="173.5" cy="610.4" r="2.1" fill="#c4c4ca" fill-opacity="0.9"/>
<circle cx="197.7" cy="611.8" r="2.1" fill="#c4c4ca" fill-opacity="0.9"/>
<circle cx="175.0" cy="612.2" r="2.1" fill="#c4c4ca" fill-opacity="0.9"/>
<circle cx="182.3" cy="612.1" r="2.1" fill="#c4c4ca" fill-opacity="0.9"/>
<circle cx="176.5" cy="611.9" r="2.1" fill="#c4c4ca" fill-opacity="0.9"/>
<circle cx="191.1" cy="609.1" r="2.1" fill="#c4c4ca" fill-opacity="0.9"/>
<circle cx="173.4" cy="611.3" r="2.1" fill="#c4c4ca" fill-opacity="0.9"/>
<circle cx="184.8" cy="611.6" r="2.1" fill="#c4c4ca" fill-opacity="0.9"/>
<circle cx="197.3" cy="610.8" r="2.1" fill="#c4c4ca" fill-opacity="0.9"/>
<circle cx="138.6" cy="610.3" r="2.1" fill="#38a638" fill-opacity="0.6"/>
<circle cx="134.0" cy="611.4" r="2.1" fill="#38a638" fill-opacity="0.6"/>
<circle cx="158.9" cy="611.5" r="2.1" fill="#38a638" fill-opacity="0.6"/>
<circle cx="127.9" cy="611.1" r="2.1" fill="#38a638" fill-opacity="0.6"/>
<circle cx="147.2" cy="611.5" r="2.1" fill="#38a638" fill-opacity="0.6"/>
<circle cx="153.6" cy="611.8" r="2.1" fill="#38a638" fill-opacity="0.6"/>
<circle cx="144.1" cy="611.4" r="2.1" fill="#38a638" fill-opacity="0.6"/>
<circle cx="141.6" cy="611.1" r="2.1" fill="#38a638" fill-opacity="0.6"/>
<circle cx="157.1" cy="610.5" r="2.1" fill="#38a638" fill-opacity="0.6"/>
<circle cx="152.1" cy="611.1" r="2.1" fill="#38a638" fill-opacity="0.6"/>
<circle cx="162.6" cy="611.7" r="2.1" fill="#38a638" fill-opacity="0.6"/>
<circle cx="129.8" cy="611.0" r="2.1" fill="#38a638" fill-opacity="0.6"/>
<circle cx="161.8" cy="611.3" r="2.1" fill="#38a638" fill-opacity="0.6"/>
<circle cx="147.4" cy="609.1" r="2.1" fill="#38a638" fill-opacity="0.6"/>
<circle cx="158.0" cy="609.4" r="2.1" fill="#38a638" fill-opacity="0.6"/>
<circle cx="147.4" cy="610.7" r="2.1" fill="#38a638" fill-opacity="0.6"/>
<circle cx="133.7" cy="610.7" r="2.1" fill="#38a638" fill-opacity="0.6"/>
<circle cx="162.4" cy="610.3" r="2.1" fill="#38a638" fill-opacity="0.6"/>
<circle cx="140.2" cy="610.1" r="2.1" fill="#38a638" fill-opacity="0.6"/>
<circle cx="155.3" cy="609.3" r="2.1" fill="#38a638" fill-opacity="0.6"/>
<circle cx="131.1" cy="609.1" r="2.1" fill="#38a638" fill-opacity="0.6"/>
<circle cx="149.0" cy="609.5" r="2.1" fill="#38a638" fill-opacity="0.6"/>
<circle cx="137.3" cy="611.4" r="2.1" fill="#38a638" fill-opacity="0.6"/>
<circle cx="163.2" cy="611.4" r="2.1" fill="#38a638" fill-opacity="0.6"/>
<circle cx="160.7" cy="611.6" r="2.1" fill="#38a638" fill-opacity="0.6"/>
<circle cx="152.3" cy="609.8" r="2.1" fill="#38a638" fill-opacity="0.6"/>
<circle cx="154.1" cy="610.4" r="2.1" fill="#38a638" fill-opacity="0.6"/>
<circle cx="163.5" cy="611.3" r="2.1" fill="#38a638" fill-opacity="0.6"/>
<circle cx="126.7" cy="611.8" r="2.1" fill="#38a638" fill-opacity="0.6"/>
<circle cx="145.7" cy="609.6" r="2.1" fill="#38a638" fill-opacity="0.6"/>
<circle cx="134.3" cy="609.8" r="2.1" fill="#38a638" fill-opacity="0.6"/>
<circle cx="150.8" cy="609.6" r="2.1" fill="#38a638" fill-opacity="0.6"/>
<circle cx="132.7" cy="609.7" r="2.1" fill="#38a638" fill-opacity="0.6"/>
<circle cx="125.5" cy="611.6" r="2.1" fill="#38a638" fill-opacity="0.6"/>
<circle cx="127.1" cy="610.7" r="2.1" fill="#38a638" fill-opacity="0.6"/>
<circle cx="138.1" cy="611.2" r="2.1" fill="#38a638" fill-opacity="0.6"/>
<circle cx="129.0" cy="611.8" r="2.1" fill="#38a638" fill-opacity="0.6"/>
<circle cx="143.6" cy="611.2" r="2.1" fill="#38a638" fill-opacity="0.6"/>
<circle cx="151.2" cy="610.8" r="2.1" fill="#38a638" fill-opacity="0.6"/>
<circle cx="140.2" cy="609.6" r="2.1" fill="#38a638" fill-opacity="0.6"/>
<circle cx="152.1" cy="610.1" r="2.1" fill="#38a638" fill-opacity="0.6"/>
<circle cx="152.5" cy="611.1" r="2.1" fill="#38a638" fill-opacity="0.6"/>
<circle cx="129.2" cy="611.0" r="2.1" fill="#38a638" fill-opacity="0.6"/>
<circle cx="161.4" cy="610.9" r="2.1" fill="#38a638" fill-opacity="0.6"/>
<circle cx="136.5" cy="611.3" r="2.1" fill="#38a638" fill-opacity="0.6"/>
<circle cx="136.5" cy="610.3" r="2.1" fill="#38a638" fill-opacity="0.6"/>
<circle cx="139.2" cy="611.4" r="2.1" fill="#38a638" fill-opacity="0.6"/>
<circle cx="161.0" cy="611.4" r="2.1" fill="#38a638" fill-opacity="0.6"/>
<circle cx="152.6" cy="610.7" r="2.1" fill="#38a638" fill-opacity="0.6"/>
<circle cx="163.5" cy="610.5" r="2.1" fill="#38a638" fill-opacity="0.6"/>
<circle cx="150.6" cy="611.0" r="2.1" fill="#38a638" fill-opacity="0.6"/>
<circle cx="145.3" cy="609.2" r="2.1" fill="#38a638" fill-opacity="0.6"/>
<circle cx="157.9" cy="609.4" r="2.1" fill="#38a638" fill-opacity="0.6"/>
<circle cx="153.7" cy="609.8" r="2.1" fill="#38a638" fill-opacity="0.6"/>
<circle cx="161.0" cy="609.1" r="2.1" fill="#38a638" fill-opacity="0.6"/>
<circle cx="149.6" cy="609.2" r="2.1" fill="#38a638" fill-opacity="0.6"/>
<circle cx="157.4" cy="610.7" r="2.1" fill="#38a638" fill-opacity="0.6"/>
<circle cx="138.1" cy="611.4" r="2.1" fill="#38a638" fill-opacity="0.6"/>
<circle cx="155.5" cy="610.0" r="2.1" fill="#38a638" fill-opacity="0.6"/>
<circle cx="127.3" cy="611.0" r="2.1" fill="#38a638" fill-opacity="0.6"/>
<circle cx="158.6" cy="610.9" r="2.1" fill="#38a638" fill-opacity="0.6"/>
<circle cx="125.3" cy="611.4" r="2.1" fill="#38a638" fill-opacity="0.6"/>
<circle cx="141.2" cy="610.8" r="2.1" fill="#38a638" fill-opacity="0.6"/>
<circle cx="140.8" cy="611.3" r="2.1" fill="#38a638" fill-opacity="0.6"/>
<circle cx="141.9" cy="609.4" r="2.1" fill="#38a638" fill-opacity="0.6"/>
<circle cx="131.4" cy="610.1" r="2.1" fill="#38a638" fill-opacity="0.6"/>
<circle cx="146.6" cy="610.3" r="2.1" fill="#38a638" fill-opacity="0.6"/>
<circle cx="160.8" cy="609.5" r="2.1" fill="#38a638" fill-opacity="0.6"/>
<circle cx="138.8" cy="610.6" r="2.1" fill="#38a638" fill-opacity="0.6"/>
<circle cx="139.9" cy="610.7" r="2.1" fill="#38a638" fill-opacity="0.6"/>
<circle cx="151.3" cy="611.2" r="2.1" fill="#38a638" fill-opacity="0.6"/>
<circle cx="142.6" cy="610.3" r="2.1" fill="#38a638" fill-opacity="0.6"/>
<circle cx="146.1" cy="611.8" r="2.1" fill="#38a638" fill-opacity="0.6"/>
<circle cx="141.5" cy="610.6" r="2.1" fill="#38a638" fill-opacity="0.6"/>
<circle cx="142.9" cy="610.2" r="2.1" fill="#38a638" fill-opacity="0.6"/>
<circle cx="128.0" cy="611.4" r="2.1" fill="#38a638" fill-opacity="0.6"/>
<circle cx="148.0" cy="609.1" r="2.1" fill="#38a638" fill-opacity="0.6"/>
<circle cx="136.7" cy="611.0" r="2.1" fill="#38a638" fill-opacity="0.6"/>
<circle cx="136.8" cy="609.1" r="2.1" fill="#38a638" fill-opacity="0.6"/>
<circle cx="150.7" cy="609.4" r="2.1" fill="#38a638" fill-opacity="0.6"/>
<circle cx="160.4" cy="609.1" r="2.1" fill="#38a638" fill-opacity="0.6"/>
<circle cx="147.1" cy="611.2" r="2.1" fill="#38a638" fill-opacity="0.6"/>
<circle cx="132.2" cy="610.1" r="2.1" fill="#38a638" fill-opacity="0.6"/>
<circle cx="127.7" cy="609.6" r="2.1" fill="#38a638" fill-opacity="0.6"/>
<circle cx="134.1" cy="610.4" r="2.1" fill="#38a638" fill-opacity="0.6"/>
<circle cx="125.1" cy="611.7" r="2.1" fill="#38a638" fill-opacity="0.6"/>
<circle cx="130.8" cy="609.9" r="2.1" fill="#38a638" fill-opacity="0.6"/>
<circle cx="156.3" cy="609.6" r="2.1" fill="#38a638" fill-opacity="0.6"/>
<circle cx="148.6" cy="610.4" r="2.1" fill="#38a638" fill-opacity="0.6"/>
<circle cx="131.0" cy="611.3" r="2.1" fill="#38a638" fill-opacity="0.6"/>
<circle cx="155.3" cy="610.1" r="2.1" fill="#38a638" fill-opacity="0.6"/>
<circle cx="162.0" cy="610.3" r="2.1" fill="#38a638" fill-opacity="0.6"/>
<circle cx="134.5" cy="610.5" r="2.1" fill="#38a638" fill-opacity="0.6"/>
<circle cx="156.6" cy="609.6" r="2.1" fill="#38a638" fill-opacity="0.6"/>
<circle cx="131.5" cy="609.7" r="2.1" fill="#38a638" fill-opacity="0.6"/>
<circle cx="144.8" cy="609.3" r="2.1" fill="#38a638" fill-opacity="0.6"/>
<circle cx="134.1" cy="611.4" r="2.1" fill="#38a638" fill-opacity="0.6"/>
<circle cx="152.1" cy="611.6" r="2.1" fill="#38a638" fill-opacity="0.6"/>
<circle cx="162.9" cy="610.9" r="2.1" fill="#38a638" fill-opacity="0.6"/>
<circle cx="131.1" cy="609.5" r="2.1" fill="#38a638" fill-opacity="0.6"/>
<circle cx="160.7" cy="611.3" r="2.1" fill="#38a638" fill-opacity="0.6"/>
<circle cx="151.2" cy="609.5" r="2.1" fill="#38a638" fill-opacity="0.6"/>
<circle cx="141.9" cy="609.4" r="2.1" fill="#38a638" fill-opacity="0.6"/>
<circle cx="162.0" cy="609.1" r="2.1" fill="#38a638" fill-opacity="0.6"/>
<circle cx="157.8" cy="610.1" r="2.1" fill="#38a638" fill-opacity="0.6"/>
<circle cx="130.5" cy="609.8" r="2.1" fill="#38a638" fill-opacity="0.6"/>
<circle cx="158.1" cy="610.0" r="2.1" fill="#38a638" fill-opacity="0.6"/>
<circle cx="149.5" cy="611.8" r="2.1" fill="#38a638" fill-opacity="0.6"/>
<circle cx="153.0" cy="611.0" r="2.1" fill="#38a638" fill-opacity="0.6"/>
<circle cx="141.4" cy="611.1" r="2.1" fill="#38a638" fill-opacity="0.6"/>
<circle cx="142.5" cy="609.9" r="2.1" fill="#38a638" fill-opacity="0.6"/>
<circle cx="158.7" cy="611.5" r="2.1" fill="#38a638" fill-opacity="0.6"/>
<circle cx="138.6" cy="610.6" r="2.1" fill="#38a638" fill-opacity="0.6"/>
<circle cx="160.3" cy="611.5" r="2.1" fill="#38a638" fill-opacity="0.6"/>
<circle cx="127.6" cy="610.2" r="2.1" fill="#38a638" fill-opacity="0.6"/>
<circle cx="152.4" cy="611.3" r="2.1" fill="#38a638" fill-opacity="0.6"/>
<circle cx="125.1" cy="609.9" r="2.1" fill="#38a638" fill-opacity="0.6"/>
<circle cx="136.8" cy="610.8" r="2.1" fill="#38a638" fill-opacity="0.6"/>
<circle cx="154.1" cy="610.7" r="2.1" fill="#38a638" fill-opacity="0.6"/>
<circle cx="159.8" cy="610.1" r="2.1" fill="#38a638" fill-opacity="0.6"/>
<circle cx="149.8" cy="609.6" r="2.1" fill="#38a638" fill-opacity="0.6"/>
<circle cx="150.4" cy="610.6" r="2.1" fill="#38a638" fill-opacity="0.6"/>
<circle cx="146.5" cy="609.2" r="2.1" fill="#38a638" fill-opacity="0.6"/>
<circle cx="152.8" cy="609.9" r="2.1" fill="#38a638" fill-opacity="0.6"/>
<circle cx="156.8" cy="610.2" r="2.1" fill="#38a638" fill-opacity="0.6"/>
<circle cx="155.1" cy="609.4" r="2.1" fill="#38a638" fill-opacity="0.6"/>
<circle cx="155.0" cy="609.5" r="2.1" fill="#38a638" fill-opacity="0.6"/>
<circle cx="139.4" cy="610.6" r="2.1" fill="#38a638" fill-opacity="0.6"/>
<circle cx="127.9" cy="610.8" r="2.1" fill="#38a638" fill-opacity="0.6"/>
<circle cx="136.5" cy="610.2" r="2.1" fill="#38a638" fill-opacity="0.6"/>
<circle cx="148.8" cy="611.7" r="2.1" fill="#38a638" fill-opacity="0.6"/>
<circle cx="150.0" cy="611.1" r="2.1" fill="#38a638" fill-opacity="0.6"/>
<circle cx="149.1" cy="609.2" r="2.1" fill="#38a638" fill-opacity="0.6"/>
<circle cx="154.8" cy="609.9" r="2.1" fill="#38a638" fill-opacity="0.6"/>
<circle cx="139.6" cy="611.2" r="2.1" fill="#38a638" fill-opacity="0.6"/>
<circle cx="150.3" cy="611.5" r="2.1" fill="#38a638" fill-opacity="0.6"/>
<circle cx="129.7" cy="611.1" r="2.1" fill="#38a638" fill-opacity="0.6"/>
<circle cx="149.9" cy="610.9" r="2.1" fill="#38a638" fill-opacity="0.6"/>
<circle cx="133.0" cy="609.5" r="2.1" fill="#38a638" fill-opacity="0.6"/>
<circle cx="143.0" cy="610.3" r="2.1" fill="#38a638" fill-opacity="0.6"/>
<circle cx="161.2" cy="609.4" r="2.1" fill="#38a638" fill-opacity="0.6"/>
<circle cx="161.6" cy="610.8" r="2.1" fill="#38a638" fill-opacity="0.6"/>
<circle cx="151.7" cy="609.8" r="2.1" fill="#38a638" fill-opacity="0.6"/>
<circle cx="139.7" cy="610.9" r="2.1" fill="#38a638" fill-opacity="0.6"/>
<circle cx="129.5" cy="609.2" r="2.1" fill="#38a638" fill-opacity="0.6"/>
<circle cx="163.2" cy="610.1" r="2.1" fill="#38a638" fill-opacity="0.6"/>
<circle cx="148.0" cy="610.8" r="2.1" fill="#38a638" fill-opacity="0.6"/>
<circle cx="148.2" cy="611.0" r="2.1" fill="#38a638" fill-opacity="0.6"/>
<circle cx="139.6" cy="610.2" r="2.1" fill="#38a638" fill-opacity="0.6"/>
<circle cx="126.2" cy="609.1" r="2.1" fill="#38a638" fill-opacity="0.6"/>
<circle cx="125.2" cy="610.8" r="2.1" fill="#38a638" fill-opacity="0.6"/>
<circle cx="132.7" cy="610.0" r="2.1" fill="#38a638" fill-opacity="0.6"/>
<circle cx="138.3" cy="609.1" r="2.1" fill="#38a638" fill-opacity="0.6"/>
<circle cx="162.2" cy="610.6" r="2.1" fill="#38a638" fill-opacity="0.6"/>
<circle cx="150.7" cy="610.0" r="2.1" fill="#38a638" fill-opacity="0.6"/>
<circle cx="157.4" cy="609.1" r="2.1" fill="#38a638" fill-opacity="0.6"/>
<circle cx="157.7" cy="610.8" r="2.1" fill="#38a638" fill-opacity="0.6"/>
<circle cx="159.9" cy="610.8" r="2.1" fill="#38a638" fill-opacity="0.6"/>
<circle cx="136.5" cy="611.6" r="2.1" fill="#38a638" fill-opacity="0.6"/>
<circle cx="159.1" cy="610.1" r="2.1" fill="#38a638" fill-opacity="0.6"/>
<circle cx="141.7" cy="609.8" r="2.1" fill="#38a638" fill-opacity="0.6"/>
<circle cx="156.2" cy="609.6" r="2.1" fill="#38a638" fill-opacity="0.6"/>
<circle cx="137.0" cy="609.7" r="2.1" fill="#38a638" fill-opacity="0.6"/>
<circle cx="160.6" cy="610.5" r="2.1" fill="#38a638" fill-opacity="0.6"/>
<circle cx="163.4" cy="609.5" r="2.1" fill="#38a638" fill-opacity="0.6"/>
<circle cx="127.4" cy="609.4" r="2.1" fill="#38a638" fill-opacity="0.6"/>
<circle cx="163.2" cy="610.9" r="2.1" fill="#38a638" fill-opacity="0.6"/>
<circle cx="145.3" cy="610.4" r="2.1" fill="#38a638" fill-opacity="0.6"/>
<circle cx="160.9" cy="609.7" r="2.1" fill="#38a638" fill-opacity="0.6"/>
<circle cx="154.5" cy="610.4" r="2.1" fill="#38a638" fill-opacity="0.6"/>
<circle cx="160.5" cy="610.3" r="2.1" fill="#38a638" fill-opacity="0.6"/>
<circle cx="160.3" cy="611.6" r="2.1" fill="#38a638" fill-opacity="0.6"/>
<circle cx="146.3" cy="611.0" r="2.1" fill="#38a638" fill-opacity="0.6"/>
<circle cx="135.0" cy="611.2" r="2.1" fill="#38a638" fill-opacity="0.6"/>
<circle cx="150.2" cy="611.7" r="2.1" fill="#38a638" fill-opacity="0.6"/>
<circle cx="157.4" cy="610.6" r="2.1" fill="#38a638" fill-opacity="0.6"/>
<circle cx="144.4" cy="610.6" r="2.1" fill="#38a638" fill-opacity="0.6"/>
<circle cx="131.7" cy="611.6" r="2.1" fill="#38a638" fill-opacity="0.6"/>
<circle cx="131.7" cy="611.4" r="2.1" fill="#38a638" fill-opacity="0.6"/>
<circle cx="126.2" cy="610.4" r="2.1" fill="#38a638" fill-opacity="0.6"/>
<circle cx="150.5" cy="610.2" r="2.1" fill="#38a638" fill-opacity="0.6"/>
<circle cx="131.1" cy="609.2" r="2.1" fill="#38a638" fill-opacity="0.6"/>
<circle cx="150.2" cy="611.8" r="2.1" fill="#38a638" fill-opacity="0.6"/>
<circle cx="159.6" cy="609.6" r="2.1" fill="#38a638" fill-opacity="0.6"/>
<circle cx="136.9" cy="609.9" r="2.1" fill="#38a638" fill-opacity="0.6"/>
<circle cx="159.5" cy="610.4" r="2.1" fill="#38a638" fill-opacity="0.6"/>
<circle cx="163.1" cy="611.5" r="2.1" fill="#38a638" fill-opacity="0.6"/>
<circle cx="154.5" cy="609.2" r="2.1" fill="#38a638" fill-opacity="0.6"/>
<circle cx="140.8" cy="609.5" r="2.1" fill="#38a638" fill-opacity="0.6"/>
<circle cx="162.7" cy="610.7" r="2.1" fill="#38a638" fill-opacity="0.6"/>
<circle cx="161.8" cy="611.1" r="2.1" fill="#38a638" fill-opacity="0.6"/>
<circle cx="160.9" cy="609.3" r="2.1" fill="#38a638" fill-opacity="0.6"/>
<circle cx="153.5" cy="610.5" r="2.1" fill="#38a638" fill-opacity="0.6"/>
<circle cx="140.3" cy="609.4" r="2.1" fill="#38a638" fill-opacity="0.6"/>
<circle cx="127.3" cy="610.3" r="2.1" fill="#38a638" fill-opacity="0.6"/>
<circle cx="146.7" cy="609.3" r="2.1" fill="#38a638" fill-opacity="0.6"/>
<circle cx="151.0" cy="611.0" r="2.1" fill="#38a638" fill-opacity="0.6"/>
<circle cx="136.6" cy="611.1" r="2.1" fill="#38a638" fill-opacity="0.6"/>
<circle cx="152.0" cy="610.7" r="2.1" fill="#38a638" fill-opacity="0.6"/>
<circle cx="147.7" cy="610.9" r="2.1" fill="#38a638" fill-opacity="0.6"/>
<circle cx="149.5" cy="610.6" r="2.1" fill="#38a638" fill-opacity="0.6"/>
<circle cx="162.6" cy="609.5" r="2.1" fill="#38a638" fill-opacity="0.6"/>
<circle cx="162.3" cy="610.4" r="2.1" fill="#38a638" fill-opacity="0.6"/>
<circle cx="144.8" cy="610.7" r="2.1" fill="#38a638" fill-opacity="0.6"/>
<circle cx="157.3" cy="611.6" r="2.1" fill="#38a638" fill-opacity="0.6"/>
<circle cx="151.8" cy="611.0" r="2.1" fill="#38a638" fill-opacity="0.6"/>
<circle cx="147.4" cy="611.2" r="2.1" fill="#38a638" fill-opacity="0.6"/>
<circle cx="136.2" cy="610.5" r="2.1" fill="#38a638" fill-opacity="0.6"/>
<circle cx="163.5" cy="610.7" r="2.1" fill="#38a638" fill-opacity="0.6"/>
<circle cx="126.4" cy="611.8" r="2.1" fill="#38a638" fill-opacity="0.6"/>
<circle cx="142.9" cy="609.2" r="2.1" fill="#38a638" fill-opacity="0.6"/>
<circle cx="152.1" cy="610.2" r="2.1" fill="#38a638" fill-opacity="0.6"/>
<circle cx="151.9" cy="611.0" r="2.1" fill="#38a638" fill-opacity="0.6"/>
<circle cx="142.2" cy="610.2" r="2.1" fill="#38a638" fill-opacity="0.6"/>
<circle cx="154.0" cy="610.5" r="2.1" fill="#38a638" fill-opacity="0.6"/>
<circle cx="146.1" cy="609.8" r="2.1" fill="#38a638" fill-opacity="0.6"/>
<circle cx="162.5" cy="611.6" r="2.1" fill="#38a638" fill-opacity="0.6"/>
<circle cx="156.2" cy="611.1" r="2.1" fill="#38a638" fill-opacity="0.6"/>
<circle cx="134.2" cy="610.7" r="2.1" fill="#38a638" fill-opacity="0.6"/>
<circle cx="131.3" cy="610.7" r="2.1" fill="#38a638" fill-opacity="0.6"/>
<circle cx="155.0" cy="610.0" r="2.1" fill="#38a638" fill-opacity="0.6"/>
<circle cx="161.6" cy="609.1" r="2.1" fill="#38a638" fill-opacity="0.6"/>
<circle cx="132.6" cy="610.9" r="2.1" fill="#38a638" fill-opacity="0.6"/>
<circle cx="153.9" cy="609.6" r="2.1" fill="#38a638" fill-opacity="0.6"/>
<circle cx="134.5" cy="610.1" r="2.1" fill="#38a638" fill-opacity="0.6"/>
<circle cx="162.4" cy="609.7" r="2.1" fill="#38a638" fill-opacity="0.6"/>
<circle cx="162.7" cy="610.1" r="2.1" fill="#38a638" fill-opacity="0.6"/>
<circle cx="144.6" cy="609.3" r="2.1" fill="#38a638" fill-opacity="0.6"/>
<circle cx="141.0" cy="611.8" r="2.1" fill="#38a638" fill-opacity="0.6"/>
<circle cx="127.9" cy="609.8" r="2.1" fill="#38a638" fill-opacity="0.6"/>
<circle cx="143.5" cy="611.8" r="2.1" fill="#38a638" fill-opacity="0.6"/>
<circle cx="136.8" cy="610.7" r="2.1" fill="#38a638" fill-opacity="0.6"/>
<circle cx="139.2" cy="609.1" r="2.1" fill="#38a638" fill-opacity="0.6"/>
<circle cx="128.7" cy="611.6" r="2.1" fill="#38a638" fill-opacity="0.6"/>
<circle cx="134.8" cy="610.6" r="2.1" fill="#38a638" fill-opacity="0.6"/>
<circle cx="136.1" cy="610.8" r="2.1" fill="#38a638" fill-opacity="0.6"/>
<circle cx="148.9" cy="610.6" r="2.1" fill="#38a638" fill-opacity="0.6"/>
<circle cx="160.7" cy="611.0" r="2.1" fill="#38a638" fill-opacity="0.6"/>
<circle cx="136.8" cy="611.6" r="2.1" fill="#38a638" fill-opacity="0.6"/>
<circle cx="160.7" cy="609.5" r="2.1" fill="#38a638" fill-opacity="0.6"/>
<circle cx="139.8" cy="610.3" r="2.1" fill="#38a638" fill-opacity="0.6"/>
<circle cx="160.8" cy="611.5" r="2.1" fill="#38a638" fill-opacity="0.6"/>
<circle cx="154.1" cy="609.2" r="2.1" fill="#38a638" fill-opacity="0.6"/>
<circle cx="144.3" cy="609.3" r="2.1" fill="#38a638" fill-opacity="0.6"/>
<circle cx="157.7" cy="610.7" r="2.1" fill="#38a638" fill-opacity="0.6"/>
<circle cx="145.3" cy="609.5" r="2.1" fill="#38a638" fill-opacity="0.6"/>
<circle cx="160.5" cy="609.4" r="2.1" fill="#38a638" fill-opacity="0.6"/>
<circle cx="147.9" cy="611.8" r="2.1" fill="#38a638" fill-opacity="0.6"/>
<circle cx="149.5" cy="610.8" r="2.1" fill="#38a638" fill-opacity="0.6"/>
<circle cx="139.5" cy="609.3" r="2.1" fill="#38a638" fill-opacity="0.6"/>
<circle cx="147.0" cy="609.9" r="2.1" fill="#38a638" fill-opacity="0.6"/>
<circle cx="151.2" cy="609.7" r="2.1" fill="#38a638" fill-opacity="0.6"/>
<circle cx="161.1" cy="609.8" r="2.1" fill="#38a638" fill-opacity="0.6"/>
<circle cx="159.2" cy="610.2" r="2.1" fill="#38a638" fill-opacity="0.6"/>
<circle cx="158.0" cy="610.9" r="2.1" fill="#38a638" fill-opacity="0.6"/>
<circle cx="159.2" cy="610.9" r="2.1" fill="#38a638" fill-opacity="0.6"/>
<circle cx="143.0" cy="610.4" r="2.1" fill="#38a638" fill-opacity="0.6"/>
<circle cx="151.2" cy="610.3" r="2.1" fill="#38a638" fill-opacity="0.6"/>
<circle cx="132.1" cy="610.9" r="2.1" fill="#38a638" fill-opacity="0.6"/>
<circle cx="143.3" cy="610.5" r="2.1" fill="#38a638" fill-opacity="0.6"/>
<circle cx="125.7" cy="610.9" r="2.1" fill="#38a638" fill-opacity="0.6"/>
<circle cx="138.5" cy="611.2" r="2.1" fill="#38a638" fill-opacity="0.6"/>
<circle cx="155.9" cy="609.8" r="2.1" fill="#38a638" fill-opacity="0.6"/>
<circle cx="143.7" cy="611.1" r="2.1" fill="#38a638" fill-opacity="0.6"/>
<circle cx="162.2" cy="609.6" r="2.1" fill="#38a638" fill-opacity="0.6"/>
<circle cx="151.6" cy="609.9" r="2.1" fill="#38a638" fill-opacity="0.6"/>
<circle cx="149.5" cy="610.1" r="2.1" fill="#38a638" fill-opacity="0.6"/>
<circle cx="144.3" cy="609.1" r="2.1" fill="#38a638" fill-opacity="0.6"/>
<circle cx="129.0" cy="610.6" r="2.1" fill="#38a638" fill-opacity="0.6"/>
<circle cx="147.3" cy="611.2" r="2.1" fill="#38a638" fill-opacity="0.6"/>
<circle cx="136.0" cy="611.6" r="2.1" fill="#38a638" fill-opacity="0.6"/>
<circle cx="154.3" cy="609.5" r="2.1" fill="#38a638" fill-opacity="0.6"/>
<circle cx="163.0" cy="609.9" r="2.1" fill="#38a638" fill-opacity="0.6"/>
<circle cx="144.0" cy="610.3" r="2.1" fill="#38a638" fill-opacity="0.6"/>
<circle cx="153.3" cy="611.4" r="2.1" fill="#38a638" fill-opacity="0.6"/>
<circle cx="127.1" cy="609.7" r="2.1" fill="#38a638" fill-opacity="0.6"/>
<circle cx="133.7" cy="611.6" r="2.1" fill="#38a638" fill-opacity="0.6"/>
<circle cx="134.7" cy="611.2" r="2.1" fill="#38a638" fill-opacity="0.6"/>
<circle cx="158.1" cy="610.4" r="2.1" fill="#38a638" fill-opacity="0.6"/>
<circle cx="142.2" cy="611.5" r="2.1" fill="#38a638" fill-opacity="0.6"/>
<circle cx="135.5" cy="610.2" r="2.1" fill="#38a638" fill-opacity="0.6"/>
<circle cx="129.5" cy="609.3" r="2.1" fill="#38a638" fill-opacity="0.6"/>
<circle cx="138.8" cy="610.8" r="2.1" fill="#38a638" fill-opacity="0.6"/>
<circle cx="127.1" cy="609.9" r="2.1" fill="#38a638" fill-opacity="0.6"/>
<circle cx="154.8" cy="609.5" r="2.1" fill="#38a638" fill-opacity="0.6"/>
<circle cx="137.2" cy="611.1" r="2.1" fill="#38a638" fill-opacity="0.6"/>
<circle cx="156.3" cy="611.8" r="2.1" fill="#38a638" fill-opacity="0.6"/>
<circle cx="145.2" cy="611.1" r="2.1" fill="#38a638" fill-opacity="0.6"/>
<circle cx="154.8" cy="611.1" r="2.1" fill="#38a638" fill-opacity="0.6"/>
<circle cx="160.3" cy="610.5" r="2.1" fill="#38a638" fill-opacity="0.6"/>
<circle cx="155.5" cy="611.1" r="2.1" fill="#38a638" fill-opacity="0.6"/>
<circle cx="155.3" cy="610.4" r="2.1" fill="#38a638" fill-opacity="0.6"/>
<circle cx="130.6" cy="611.4" r="2.1" fill="#38a638" fill-opacity="0.6"/>
<circle cx="131.3" cy="609.5" r="2.1" fill="#38a638" fill-opacity="0.6"/>
<circle cx="142.2" cy="610.3" r="2.1" fill="#38a638" fill-opacity="0.6"/>
<circle cx="136.9" cy="610.4" r="2.1" fill="#38a638" fill-opacity="0.6"/>
<circle cx="140.1" cy="609.3" r="2.1" fill="#38a638" fill-opacity="0.6"/>
<circle cx="135.1" cy="611.1" r="2.1" fill="#38a638" fill-opacity="0.6"/>
<circle cx="162.5" cy="609.3" r="2.1" fill="#38a638" fill-opacity="0.6"/>
<circle cx="152.2" cy="609.7" r="2.1" fill="#38a638" fill-opacity="0.6"/>
<circle cx="156.9" cy="610.6" r="2.1" fill="#38a638" fill-opacity="0.6"/>
<circle cx="151.9" cy="609.8" r="2.1" fill="#38a638" fill-opacity="0.6"/>
<circle cx="127.5" cy="610.4" r="2.1" fill="#38a638" fill-opacity="0.6"/>
<circle cx="144.1" cy="610.9" r="2.1" fill="#38a638" fill-opacity="0.6"/>
<circle cx="156.9" cy="609.2" r="2.1" fill="#38a638" fill-opacity="0.6"/>
<circle cx="160.9" cy="609.2" r="2.1" fill="#38a638" fill-opacity="0.6"/>
<circle cx="140.2" cy="611.6" r="2.1" fill="#38a638" fill-opacity="0.6"/>
<circle cx="129.4" cy="611.6" r="2.1" fill="#38a638" fill-opacity="0.6"/>
<circle cx="144.1" cy="611.5" r="2.1" fill="#38a638" fill-opacity="0.6"/>
<circle cx="125.4" cy="611.0" r="2.1" fill="#38a638" fill-opacity="0.6"/>
<circle cx="130.7" cy="611.7" r="2.1" fill="#38a638" fill-opacity="0.6"/>
<circle cx="139.8" cy="611.7" r="2.1" fill="#38a638" fill-opacity="0.6"/>
<circle cx="163.1" cy="610.3" r="2.1" fill="#38a638" fill-opacity="0.6"/>
<circle cx="125.6" cy="610.0" r="2.1" fill="#38a638" fill-opacity="0.6"/>
<circle cx="131.5" cy="609.7" r="2.1" fill="#38a638" fill-opacity="0.6"/>
<circle cx="145.9" cy="611.6" r="2.1" fill="#38a638" fill-opacity="0.6"/>
<circle cx="145.7" cy="611.3" r="2.1" fill="#38a638" fill-opacity="0.6"/>
<circle cx="145.7" cy="610.9" r="2.1" fill="#38a638" fill-opacity="0.6"/>
<circle cx="146.8" cy="611.3" r="2.1" fill="#38a638" fill-opacity="0.6"/>
<circle cx="138.1" cy="610.7" r="2.1" fill="#38a638" fill-opacity="0.6"/>
<circle cx="147.3" cy="611.6" r="2.1" fill="#38a638" fill-opacity="0.6"/>
<circle cx="147.3" cy="610.3" r="2.1" fill="#38a638" fill-opacity="0.6"/>
<circle cx="126.1" cy="610.3" r="2.1" fill="#38a638" fill-opacity="0.6"/>
<circle cx="160.2" cy="611.0" r="2.1" fill="#38a638" fill-opacity="0.6"/>
<circle cx="153.2" cy="609.9" r="2.1" fill="#38a638" fill-opacity="0.6"/>
<circle cx="127.7" cy="609.1" r="2.1" fill="#38a638" fill-opacity="0.6"/>
<circle cx="127.2" cy="609.3" r="2.1" fill="#38a638" fill-opacity="0.6"/>
<circle cx="131.3" cy="609.3" r="2.1" fill="#38a638" fill-opacity="0.6"/>
<circle cx="163.3" cy="610.5" r="2.1" fill="#38a638" fill-opacity="0.6"/>
<circle cx="143.0" cy="609.9" r="2.1" fill="#38a638" fill-opacity="0.6"/>
<circle cx="142.1" cy="610.1" r="2.1" fill="#38a638" fill-opacity="0.6"/>
<circle cx="127.9" cy="611.6" r="2.1" fill="#38a638" fill-opacity="0.6"/>
<circle cx="146.0" cy="609.2" r="2.1" fill="#38a638" fill-opacity="0.6"/>
<circle cx="163.0" cy="611.5" r="2.1" fill="#38a638" fill-opacity="0.6"/>
<circle cx="130.9" cy="609.2" r="2.1" fill="#38a638" fill-opacity="0.6"/>
<circle cx="163.2" cy="611.8" r="2.1" fill="#38a638" fill-opacity="0.6"/>
<circle cx="132.6" cy="609.9" r="2.1" fill="#38a638" fill-opacity="0.6"/>
<circle cx="146.0" cy="610.2" r="2.1" fill="#38a638" fill-opacity="0.6"/>
<circle cx="135.9" cy="609.6" r="2.1" fill="#38a638" fill-opacity="0.6"/>
<circle cx="163.7" cy="611.7" r="2.1" fill="#38a638" fill-opacity="0.6"/>
<circle cx="134.2" cy="609.1" r="2.1" fill="#38a638" fill-opacity="0.6"/>
<circle cx="132.5" cy="610.7" r="2.1" fill="#38a638" fill-opacity="0.6"/>
<circle cx="153.2" cy="610.9" r="2.1" fill="#38a638" fill-opacity="0.6"/>
<circle cx="163.4" cy="609.7" r="2.1" fill="#38a638" fill-opacity="0.6"/>
<circle cx="155.9" cy="610.2" r="2.1" fill="#38a638" fill-opacity="0.6"/>
<circle cx="145.7" cy="610.9" r="2.1" fill="#38a638" fill-opacity="0.6"/>
<circle cx="139.4" cy="610.6" r="2.1" fill="#38a638" fill-opacity="0.6"/>
<circle cx="156.9" cy="609.4" r="2.1" fill="#38a638" fill-opacity="0.6"/>
<circle cx="158.9" cy="611.4" r="2.1" fill="#38a638" fill-opacity="0.6"/>
<circle cx="156.2" cy="610.5" r="2.1" fill="#38a638" fill-opacity="0.6"/>
<circle cx="134.7" cy="610.9" r="2.1" fill="#38a638" fill-opacity="0.6"/>
<circle cx="156.7" cy="610.0" r="2.1" fill="#38a638" fill-opacity="0.6"/>
<circle cx="156.0" cy="610.4" r="2.1" fill="#38a638" fill-opacity="0.6"/>
<circle cx="156.1" cy="609.4" r="2.1" fill="#38a638" fill-opacity="0.6"/>
<circle cx="158.6" cy="611.2" r="2.1" fill="#38a638" fill-opacity="0.6"/>
<circle cx="154.5" cy="610.9" r="2.1" fill="#38a638" fill-opacity="0.6"/>
<circle cx="137.2" cy="610.0" r="2.1" fill="#38a638" fill-opacity="0.6"/>
<circle cx="134.4" cy="610.4" r="2.1" fill="#38a638" fill-opacity="0.6"/>
<circle cx="161.8" cy="609.7" r="2.1" fill="#38a638" fill-opacity="0.6"/>
<circle cx="156.5" cy="611.2" r="2.1" fill="#38a638" fill-opacity="0.6"/>
<circle cx="150.2" cy="609.1" r="2.1" fill="#38a638" fill-opacity="0.6"/>
<circle cx="151.9" cy="610.9" r="2.1" fill="#38a638" fill-opacity="0.6"/>
<circle cx="129.0" cy="609.1" r="2.1" fill="#38a638" fill-opacity="0.6"/>
<circle cx="151.2" cy="611.5" r="2.1" fill="#38a638" fill-opacity="0.6"/>
<circle cx="134.4" cy="609.7" r="2.1" fill="#38a638" fill-opacity="0.6"/>
<circle cx="153.1" cy="609.7" r="2.1" fill="#38a638" fill-opacity="0.6"/>
<circle cx="151.5" cy="611.1" r="2.1" fill="#38a638" fill-opacity="0.6"/>
<circle cx="142.9" cy="609.8" r="2.1" fill="#38a638" fill-opacity="0.6"/>
<circle cx="147.7" cy="609.6" r="2.1" fill="#38a638" fill-opacity="0.6"/>
<circle cx="163.4" cy="610.5" r="2.1" fill="#38a638" fill-opacity="0.6"/>
<circle cx="151.5" cy="611.7" r="2.1" fill="#38a638" fill-opacity="0.6"/>
<circle cx="128.8" cy="611.4" r="2.1" fill="#38a638" fill-opacity="0.6"/>
<circle cx="157.9" cy="609.4" r="2.1" fill="#38a638" fill-opacity="0.6"/>
<circle cx="126.7" cy="609.3" r="2.1" fill="#38a638" fill-opacity="0.6"/>
<circle cx="153.0" cy="609.3" r="2.1" fill="#38a638" fill-opacity="0.6"/>
<circle cx="159.9" cy="609.9" r="2.1" fill="#38a638" fill-opacity="0.6"/>
<circle cx="127.4" cy="611.3" r="2.1" fill="#38a638" fill-opacity="0.6"/>
<circle cx="160.1" cy="610.0" r="2.1" fill="#38a638" fill-opacity="0.6"/>
<circle cx="130.2" cy="609.8" r="2.1" fill="#38a638" fill-opacity="0.6"/>
<circle cx="127.2" cy="610.6" r="2.1" fill="#38a638" fill-opacity="0.6"/>
<circle cx="151.8" cy="611.5" r="2.1" fill="#38a638" fill-opacity="0.6"/>
<circle cx="155.5" cy="609.3" r="2.1" fill="#38a638" fill-opacity="0.6"/>
<circle cx="162.0" cy="611.3" r="2.1" fill="#38a638" fill-opacity="0.6"/>
<circle cx="152.7" cy="611.7" r="2.1" fill="#38a638" fill-opacity="0.6"/>
<circle cx="154.3" cy="611.3" r="2.1" fill="#38a638" fill-opacity="0.6"/>
<circle cx="160.5" cy="610.4" r="2.1" fill="#38a638" fill-opacity="0.6"/>
<circle cx="145.1" cy="610.3" r="2.1" fill="#38a638" fill-opacity="0.6"/>
<circle cx="135.6" cy="610.4" r="2.1" fill="#38a638" fill-opacity="0.6"/>
<circle cx="127.3" cy="611.6" r="2.1" fill="#38a638" fill-opacity="0.6"/>
<circle cx="157.3" cy="611.6" r="2.1" fill="#38a638" fill-opacity="0.6"/>
<circle cx="154.2" cy="609.7" r="2.1" fill="#38a638" fill-opacity="0.6"/>
<circle cx="128.3" cy="610.5" r="2.1" fill="#38a638" fill-opacity="0.6"/>
<circle cx="159.4" cy="610.9" r="2.1" fill="#38a638" fill-opacity="0.6"/>
<circle cx="144.0" cy="611.0" r="2.1" fill="#38a638" fill-opacity="0.6"/>
<circle cx="134.3" cy="609.2" r="2.1" fill="#38a638" fill-opacity="0.6"/>
<circle cx="148.4" cy="610.2" r="2.1" fill="#38a638" fill-opacity="0.6"/>
<circle cx="131.9" cy="610.6" r="2.1" fill="#38a638" fill-opacity="0.6"/>
<circle cx="158.4" cy="609.2" r="2.1" fill="#38a638" fill-opacity="0.6"/>
<circle cx="125.9" cy="611.8" r="2.1" fill="#38a638" fill-opacity="0.6"/>
<circle cx="135.6" cy="610.7" r="2.1" fill="#38a638" fill-opacity="0.6"/>
<circle cx="162.6" cy="611.4" r="2.1" fill="#38a638" fill-opacity="0.6"/>
<circle cx="158.9" cy="609.8" r="2.1" fill="#38a638" fill-opacity="0.6"/>
<circle cx="157.6" cy="611.8" r="2.1" fill="#38a638" fill-opacity="0.6"/>
<circle cx="157.4" cy="609.6" r="2.1" fill="#38a638" fill-opacity="0.6"/>
<circle cx="146.8" cy="610.0" r="2.1" fill="#38a638" fill-opacity="0.6"/>
<circle cx="148.2" cy="611.3" r="2.1" fill="#38a638" fill-opacity="0.6"/>
<circle cx="163.4" cy="611.0" r="2.1" fill="#38a638" fill-opacity="0.6"/>
<circle cx="162.8" cy="611.1" r="2.1" fill="#38a638" fill-opacity="0.6"/>
<circle cx="141.8" cy="610.8" r="2.1" fill="#38a638" fill-opacity="0.6"/>
<circle cx="147.9" cy="610.1" r="2.1" fill="#38a638" fill-opacity="0.6"/>
<circle cx="153.9" cy="610.9" r="2.1" fill="#38a638" fill-opacity="0.6"/>
<circle cx="130.2" cy="610.2" r="2.1" fill="#38a638" fill-opacity="0.6"/>
<circle cx="150.1" cy="610.4" r="2.1" fill="#38a638" fill-opacity="0.6"/>
<circle cx="148.4" cy="610.9" r="2.1" fill="#38a638" fill-opacity="0.6"/>
<circle cx="128.8" cy="611.2" r="2.1" fill="#38a638" fill-opacity="0.6"/>
<circle cx="127.8" cy="609.5" r="2.1" fill="#38a638" fill-opacity="0.6"/>
<circle cx="130.3" cy="611.4" r="2.1" fill="#38a638" fill-opacity="0.6"/>
<circle cx="146.4" cy="609.1" r="2.1" fill="#38a638" fill-opacity="0.6"/>
<circle cx="154.9" cy="611.4" r="2.1" fill="#38a638" fill-opacity="0.6"/>
<circle cx="137.3" cy="611.2" r="2.1" fill="#38a638" fill-opacity="0.6"/>
<circle cx="143.3" cy="611.4" r="2.1" fill="#38a638" fill-opacity="0.6"/>
<circle cx="127.3" cy="611.1" r="2.1" fill="#38a638" fill-opacity="0.6"/>
<circle cx="161.3" cy="609.9" r="2.1" fill="#38a638" fill-opacity="0.6"/>
<circle cx="152.8" cy="610.3" r="2.1" fill="#38a638" fill-opacity="0.6"/>
<circle cx="146.9" cy="609.3" r="2.1" fill="#38a638" fill-opacity="0.6"/>
<circle cx="146.2" cy="610.8" r="2.1" fill="#38a638" fill-opacity="0.6"/>
<circle cx="163.7" cy="610.5" r="2.1" fill="#38a638" fill-opacity="0.6"/>
<circle cx="155.6" cy="610.3" r="2.1" fill="#38a638" fill-opacity="0.6"/>
<circle cx="141.3" cy="610.6" r="2.1" fill="#38a638" fill-opacity="0.6"/>
<circle cx="161.5" cy="610.5" r="2.1" fill="#38a638" fill-opacity="0.6"/>
<circle cx="147.5" cy="610.1" r="2.1" fill="#38a638" fill-opacity="0.6"/>
<circle cx="126.2" cy="611.1" r="2.1" fill="#38a638" fill-opacity="0.6"/>
<circle cx="149.1" cy="611.6" r="2.1" fill="#38a638" fill-opacity="0.6"/>
<circle cx="134.0" cy="611.2" r="2.1" fill="#38a638" fill-opacity="0.6"/>
<circle cx="132.7" cy="609.6" r="2.1" fill="#38a638" fill-opacity="0.6"/>
<circle cx="156.1" cy="609.3" r="2.1" fill="#38a638" fill-opacity="0.6"/>
<circle cx="146.6" cy="610.7" r="2.1" fill="#38a638" fill-opacity="0.6"/>
<circle cx="144.5" cy="609.2" r="2.1" fill="#38a638" fill-opacity="0.6"/>
<circle cx="147.2" cy="610.5" r="2.1" fill="#38a638" fill-opacity="0.6"/>
<circle cx="154.9" cy="609.5" r="2.1" fill="#38a638" fill-opacity="0.6"/>
<circle cx="146.6" cy="610.9" r="2.1" fill="#38a638" fill-opacity="0.6"/>
<circle cx="158.2" cy="611.2" r="2.1" fill="#38a638" fill-opacity="0.6"/>
<circle cx="132.4" cy="609.6" r="2.1" fill="#38a638" fill-opacity="0.6"/>
<circle cx="125.8" cy="609.3" r="2.1" fill="#38a638" fill-opacity="0.6"/>
<circle cx="139.0" cy="609.6" r="2.1" fill="#38a638" fill-opacity="0.6"/>
<circle cx="137.9" cy="609.6" r="2.1" fill="#38a638" fill-opacity="0.6"/>
<circle cx="133.9" cy="611.4" r="2.1" fill="#38a638" fill-opacity="0.6"/>
<circle cx="133.3" cy="611.0" r="2.1" fill="#38a638" fill-opacity="0.6"/>
<circle cx="156.5" cy="609.3" r="2.1" fill="#38a638" fill-opacity="0.6"/>
<circle cx="163.3" cy="610.4" r="2.1" fill="#38a638" fill-opacity="0.6"/>
<circle cx="152.9" cy="609.7" r="2.1" fill="#38a638" fill-opacity="0.6"/>
<circle cx="142.2" cy="609.3" r="2.1" fill="#38a638" fill-opacity="0.6"/>
<circle cx="128.0" cy="610.1" r="2.1" fill="#38a638" fill-opacity="0.6"/>
<circle cx="162.2" cy="610.0" r="2.1" fill="#38a638" fill-opacity="0.6"/>
<circle cx="160.9" cy="609.1" r="2.1" fill="#38a638" fill-opacity="0.6"/>
<circle cx="130.8" cy="611.0" r="2.1" fill="#38a638" fill-opacity="0.6"/>
<circle cx="158.5" cy="609.9" r="2.1" fill="#38a638" fill-opacity="0.6"/>
<circle cx="135.8" cy="609.1" r="2.1" fill="#38a638" fill-opacity="0.6"/>
<circle cx="141.7" cy="611.5" r="2.1" fill="#38a638" fill-opacity="0.6"/>
<circle cx="137.2" cy="611.7" r="2.1" fill="#38a638" fill-opacity="0.6"/>
<circle cx="130.9" cy="609.7" r="2.1" fill="#38a638" fill-opacity="0.6"/>
<circle cx="134.6" cy="609.4" r="2.1" fill="#38a638" fill-opacity="0.6"/>
<circle cx="143.9" cy="609.2" r="2.1" fill="#38a638" fill-opacity="0.6"/>
<circle cx="141.0" cy="610.5" r="2.1" fill="#38a638" fill-opacity="0.6"/>
<circle cx="151.3" cy="610.9" r="2.1" fill="#38a638" fill-opacity="0.6"/>
<circle cx="163.3" cy="611.4" r="2.1" fill="#38a638" fill-opacity="0.6"/>
<circle cx="134.2" cy="611.2" r="2.1" fill="#38a638" fill-opacity="0.6"/>
<circle cx="140.4" cy="609.7" r="2.1" fill="#38a638" fill-opacity="0.6"/>
<circle cx="138.6" cy="610.4" r="2.1" fill="#38a638" fill-opacity="0.6"/>
<circle cx="153.9" cy="611.1" r="2.1" fill="#38a638" fill-opacity="0.6"/>
<circle cx="158.5" cy="610.1" r="2.1" fill="#38a638" fill-opacity="0.6"/>
<circle cx="139.0" cy="609.2" r="2.1" fill="#38a638" fill-opacity="0.6"/>
<circle cx="153.4" cy="609.3" r="2.1" fill="#38a638" fill-opacity="0.6"/>
<circle cx="128.9" cy="611.0" r="2.1" fill="#38a638" fill-opacity="0.6"/>
<circle cx="127.1" cy="610.1" r="2.1" fill="#38a638" fill-opacity="0.6"/>
<circle cx="126.6" cy="609.7" r="2.1" fill="#38a638" fill-opacity="0.6"/>
<circle cx="153.3" cy="611.1" r="2.1" fill="#38a638" fill-opacity="0.6"/>
<circle cx="145.9" cy="610.5" r="2.1" fill="#38a638" fill-opacity="0.6"/>
<circle cx="163.0" cy="609.5" r="2.1" fill="#38a638" fill-opacity="0.6"/>
<circle cx="145.3" cy="610.5" r="2.1" fill="#38a638" fill-opacity="0.6"/>
<circle cx="89.4" cy="610.2" r="2.1" fill="#38a638" fill-opacity="0.45"/>
<circle cx="100.9" cy="609.6" r="2.1" fill="#38a638" fill-opacity="0.45"/>
<circle cx="119.1" cy="610.9" r="2.1" fill="#38a638" fill-opacity="0.45"/>
<circle cx="116.8" cy="609.4" r="2.1" fill="#38a638" fill-opacity="0.45"/>
<circle cx="110.0" cy="610.7" r="2.1" fill="#38a638" fill-opacity="0.45"/>
<circle cx="124.8" cy="611.5" r="2.1" fill="#38a638" fill-opacity="0.45"/>
<circle cx="207.5" cy="611.2" r="2.1" fill="#38a638" fill-opacity="0.6"/>
<circle cx="199.3" cy="610.2" r="2.1" fill="#38a638" fill-opacity="0.6"/>
<circle cx="199.7" cy="610.9" r="2.1" fill="#38a638" fill-opacity="0.6"/>
<circle cx="198.2" cy="611.7" r="2.1" fill="#38a638" fill-opacity="0.6"/>
<circle cx="201.1" cy="610.4" r="2.1" fill="#38a638" fill-opacity="0.6"/>
<circle cx="211.7" cy="610.1" r="2.1" fill="#38a638" fill-opacity="0.6"/>
<circle cx="201.9" cy="610.7" r="2.1" fill="#38a638" fill-opacity="0.6"/>
<circle cx="199.6" cy="610.5" r="2.1" fill="#38a638" fill-opacity="0.6"/>
<circle cx="211.9" cy="611.5" r="2.1" fill="#38a638" fill-opacity="0.6"/>
<circle cx="202.2" cy="609.9" r="2.1" fill="#38a638" fill-opacity="0.6"/>
<circle cx="207.8" cy="610.3" r="2.1" fill="#38a638" fill-opacity="0.6"/>
<circle cx="205.6" cy="609.3" r="2.1" fill="#38a638" fill-opacity="0.6"/>
<circle cx="210.7" cy="611.1" r="2.1" fill="#38a638" fill-opacity="0.6"/>
<circle cx="203.8" cy="609.1" r="2.1" fill="#38a638" fill-opacity="0.6"/>
<circle cx="203.6" cy="611.3" r="2.1" fill="#38a638" fill-opacity="0.6"/>
<circle cx="207.9" cy="611.7" r="2.1" fill="#38a638" fill-opacity="0.6"/>
<circle cx="198.8" cy="610.3" r="2.1" fill="#38a638" fill-opacity="0.6"/>
<circle cx="200.0" cy="609.9" r="2.1" fill="#38a638" fill-opacity="0.6"/>
<circle cx="207.1" cy="611.0" r="2.1" fill="#38a638" fill-opacity="0.6"/>
<circle cx="207.9" cy="610.1" r="2.1" fill="#38a638" fill-opacity="0.6"/>
<circle cx="206.7" cy="610.6" r="2.1" fill="#38a638" fill-opacity="0.6"/>
<circle cx="202.2" cy="611.5" r="2.1" fill="#38a638" fill-opacity="0.6"/>
<circle cx="202.8" cy="609.2" r="2.1" fill="#38a638" fill-opacity="0.6"/>
<circle cx="210.4" cy="611.7" r="2.1" fill="#38a638" fill-opacity="0.6"/>
<circle cx="198.2" cy="611.1" r="2.1" fill="#38a638" fill-opacity="0.6"/>
<circle cx="206.5" cy="610.6" r="2.1" fill="#38a638" fill-opacity="0.6"/>
<circle cx="198.6" cy="610.7" r="2.1" fill="#38a638" fill-opacity="0.6"/>
<circle cx="204.4" cy="609.8" r="2.1" fill="#38a638" fill-opacity="0.6"/>
<circle cx="201.7" cy="610.0" r="2.1" fill="#38a638" fill-opacity="0.6"/>
<circle cx="206.3" cy="610.1" r="2.1" fill="#38a638" fill-opacity="0.6"/>
<circle cx="198.1" cy="609.9" r="2.1" fill="#38a638" fill-opacity="0.6"/>
<circle cx="198.6" cy="611.7" r="2.1" fill="#38a638" fill-opacity="0.6"/>
<circle cx="202.8" cy="611.8" r="2.1" fill="#38a638" fill-opacity="0.6"/>
<circle cx="198.2" cy="610.8" r="2.1" fill="#38a638" fill-opacity="0.6"/>
<circle cx="202.7" cy="611.6" r="2.1" fill="#38a638" fill-opacity="0.6"/>
<circle cx="211.8" cy="609.5" r="2.1" fill="#38a638" fill-opacity="0.6"/>
<circle cx="203.0" cy="610.2" r="2.1" fill="#38a638" fill-opacity="0.6"/>
<circle cx="200.6" cy="609.1" r="2.1" fill="#38a638" fill-opacity="0.6"/>
<circle cx="198.5" cy="611.0" r="2.1" fill="#38a638" fill-opacity="0.6"/>
<circle cx="199.5" cy="609.5" r="2.1" fill="#38a638" fill-opacity="0.6"/>
<circle cx="203.3" cy="610.7" r="2.1" fill="#38a638" fill-opacity="0.6"/>
<circle cx="201.7" cy="609.4" r="2.1" fill="#38a638" fill-opacity="0.6"/>
<circle cx="199.9" cy="609.7" r="2.1" fill="#38a638" fill-opacity="0.6"/>
<circle cx="206.8" cy="610.6" r="2.1" fill="#38a638" fill-opacity="0.6"/>
<circle cx="201.2" cy="610.6" r="2.1" fill="#38a638" fill-opacity="0.6"/>
<circle cx="202.5" cy="611.0" r="2.1" fill="#38a638" fill-opacity="0.6"/>
<circle cx="205.2" cy="610.7" r="2.1" fill="#38a638" fill-opacity="0.6"/>
<circle cx="200.4" cy="609.7" r="2.1" fill="#38a638" fill-opacity="0.6"/>
<circle cx="202.5" cy="610.5" r="2.1" fill="#38a638" fill-opacity="0.6"/>
<circle cx="210.2" cy="610.6" r="2.1" fill="#38a638" fill-opacity="0.6"/>
<circle cx="201.4" cy="609.4" r="2.1" fill="#38a638" fill-opacity="0.6"/>
<circle cx="212.3" cy="609.7" r="2.1" fill="#38a638" fill-opacity="0.6"/>
<circle cx="201.7" cy="610.0" r="2.1" fill="#38a638" fill-opacity="0.6"/>
<circle cx="207.4" cy="611.0" r="2.1" fill="#38a638" fill-opacity="0.6"/>
<circle cx="207.1" cy="609.2" r="2.1" fill="#38a638" fill-opacity="0.6"/>
<circle cx="205.8" cy="610.0" r="2.1" fill="#38a638" fill-opacity="0.6"/>
<circle cx="202.2" cy="610.0" r="2.1" fill="#38a638" fill-opacity="0.6"/>
<circle cx="199.5" cy="609.7" r="2.1" fill="#38a638" fill-opacity="0.6"/>
<circle cx="203.8" cy="609.1" r="2.1" fill="#38a638" fill-opacity="0.6"/>
<circle cx="200.9" cy="609.9" r="2.1" fill="#38a638" fill-opacity="0.6"/>
<circle cx="198.0" cy="610.7" r="2.1" fill="#38a638" fill-opacity="0.6"/>
<circle cx="207.9" cy="611.1" r="2.1" fill="#38a638" fill-opacity="0.6"/>
<circle cx="205.1" cy="611.2" r="2.1" fill="#38a638" fill-opacity="0.6"/>
<circle cx="201.7" cy="609.1" r="2.1" fill="#38a638" fill-opacity="0.6"/>
<circle cx="199.2" cy="609.3" r="2.1" fill="#38a638" fill-opacity="0.6"/>
<circle cx="198.1" cy="610.2" r="2.1" fill="#38a638" fill-opacity="0.6"/>
<circle cx="209.0" cy="609.5" r="2.1" fill="#38a638" fill-opacity="0.6"/>
<circle cx="201.6" cy="610.2" r="2.1" fill="#38a638" fill-opacity="0.6"/>
<circle cx="206.9" cy="609.7" r="2.1" fill="#38a638" fill-opacity="0.6"/>
<circle cx="207.5" cy="610.2" r="2.1" fill="#38a638" fill-opacity="0.6"/>
<circle cx="199.8" cy="609.9" r="2.1" fill="#38a638" fill-opacity="0.6"/>
<circle cx="204.2" cy="610.3" r="2.1" fill="#38a638" fill-opacity="0.6"/>
<circle cx="212.5" cy="611.5" r="2.1" fill="#38a638" fill-opacity="0.6"/>
<circle cx="208.2" cy="610.9" r="2.1" fill="#38a638" fill-opacity="0.6"/>
<circle cx="207.1" cy="609.2" r="2.1" fill="#38a638" fill-opacity="0.6"/>
<circle cx="200.1" cy="610.3" r="2.1" fill="#38a638" fill-opacity="0.6"/>
<circle cx="203.6" cy="610.5" r="2.1" fill="#38a638" fill-opacity="0.6"/>
<circle cx="198.9" cy="610.1" r="2.1" fill="#38a638" fill-opacity="0.6"/>
<circle cx="210.5" cy="610.0" r="2.1" fill="#38a638" fill-opacity="0.6"/>
<circle cx="200.2" cy="609.6" r="2.1" fill="#38a638" fill-opacity="0.6"/>
<circle cx="202.0" cy="611.4" r="2.1" fill="#38a638" fill-opacity="0.6"/>
<circle cx="204.9" cy="610.6" r="2.1" fill="#38a638" fill-opacity="0.6"/>
<circle cx="203.7" cy="609.1" r="2.1" fill="#38a638" fill-opacity="0.6"/>
<circle cx="204.3" cy="609.2" r="2.1" fill="#38a638" fill-opacity="0.6"/>
<circle cx="201.0" cy="609.7" r="2.1" fill="#38a638" fill-opacity="0.6"/>
<circle cx="198.2" cy="611.0" r="2.1" fill="#38a638" fill-opacity="0.6"/>
<circle cx="206.5" cy="609.9" r="2.1" fill="#38a638" fill-opacity="0.6"/>
<circle cx="209.1" cy="610.8" r="2.1" fill="#38a638" fill-opacity="0.6"/>
<circle cx="200.1" cy="610.9" r="2.1" fill="#38a638" fill-opacity="0.6"/>
<circle cx="203.8" cy="611.8" r="2.1" fill="#38a638" fill-opacity="0.6"/>
<circle cx="201.3" cy="610.0" r="2.1" fill="#38a638" fill-opacity="0.6"/>
<circle cx="198.8" cy="611.0" r="2.1" fill="#38a638" fill-opacity="0.6"/>
<circle cx="210.0" cy="609.3" r="2.1" fill="#38a638" fill-opacity="0.6"/>
<circle cx="199.8" cy="611.4" r="2.1" fill="#38a638" fill-opacity="0.6"/>
<circle cx="198.5" cy="611.6" r="2.1" fill="#38a638" fill-opacity="0.6"/>
<circle cx="208.4" cy="609.8" r="2.1" fill="#38a638" fill-opacity="0.6"/>
<circle cx="199.9" cy="610.5" r="2.1" fill="#38a638" fill-opacity="0.6"/>
<circle cx="206.5" cy="611.8" r="2.1" fill="#38a638" fill-opacity="0.6"/>
<circle cx="208.9" cy="609.5" r="2.1" fill="#38a638" fill-opacity="0.6"/>
<circle cx="199.4" cy="609.9" r="2.1" fill="#38a638" fill-opacity="0.6"/>
<circle cx="206.6" cy="610.9" r="2.1" fill="#38a638" fill-opacity="0.6"/>
<circle cx="210.2" cy="611.2" r="2.1" fill="#38a638" fill-opacity="0.6"/>
<circle cx="202.8" cy="611.0" r="2.1" fill="#38a638" fill-opacity="0.6"/>
<circle cx="202.3" cy="609.6" r="2.1" fill="#38a638" fill-opacity="0.6"/>
<circle cx="204.3" cy="610.2" r="2.1" fill="#38a638" fill-opacity="0.6"/>
<circle cx="212.5" cy="611.2" r="2.1" fill="#38a638" fill-opacity="0.6"/>
<circle cx="199.5" cy="610.1" r="2.1" fill="#38a638" fill-opacity="0.6"/>
<circle cx="198.8" cy="609.2" r="2.1" fill="#38a638" fill-opacity="0.6"/>
<circle cx="200.9" cy="610.6" r="2.1" fill="#38a638" fill-opacity="0.6"/>
<circle cx="202.1" cy="609.6" r="2.1" fill="#38a638" fill-opacity="0.6"/>
<circle cx="210.9" cy="610.0" r="2.1" fill="#38a638" fill-opacity="0.6"/>
<circle cx="199.0" cy="610.9" r="2.1" fill="#38a638" fill-opacity="0.6"/>
<circle cx="206.7" cy="611.2" r="2.1" fill="#38a638" fill-opacity="0.6"/>
<circle cx="210.2" cy="609.4" r="2.1" fill="#38a638" fill-opacity="0.6"/>
<circle cx="199.5" cy="610.8" r="2.1" fill="#38a638" fill-opacity="0.6"/>
<circle cx="199.6" cy="609.9" r="2.1" fill="#38a638" fill-opacity="0.6"/>
<circle cx="198.1" cy="609.9" r="2.1" fill="#38a638" fill-opacity="0.6"/>
<circle cx="198.2" cy="609.5" r="2.1" fill="#38a638" fill-opacity="0.6"/>
<circle cx="203.9" cy="610.2" r="2.1" fill="#38a638" fill-opacity="0.6"/>
<circle cx="198.4" cy="611.7" r="2.1" fill="#38a638" fill-opacity="0.6"/>
<circle cx="201.0" cy="609.1" r="2.1" fill="#38a638" fill-opacity="0.6"/>
<circle cx="204.8" cy="609.5" r="2.1" fill="#38a638" fill-opacity="0.6"/>
<circle cx="198.2" cy="611.6" r="2.1" fill="#38a638" fill-opacity="0.6"/>
<circle cx="198.0" cy="609.9" r="2.1" fill="#38a638" fill-opacity="0.6"/>
<circle cx="199.0" cy="611.1" r="2.1" fill="#38a638" fill-opacity="0.6"/>
<circle cx="206.0" cy="609.9" r="2.1" fill="#38a638" fill-opacity="0.6"/>
<circle cx="200.6" cy="610.6" r="2.1" fill="#38a638" fill-opacity="0.6"/>
<circle cx="200.2" cy="610.3" r="2.1" fill="#38a638" fill-opacity="0.6"/>
<circle cx="201.1" cy="610.8" r="2.1" fill="#38a638" fill-opacity="0.6"/>
<circle cx="199.8" cy="611.0" r="2.1" fill="#38a638" fill-opacity="0.6"/>
<circle cx="199.9" cy="611.8" r="2.1" fill="#38a638" fill-opacity="0.6"/>
<circle cx="200.5" cy="610.2" r="2.1" fill="#38a638" fill-opacity="0.6"/>
<circle cx="200.0" cy="611.5" r="2.1" fill="#38a638" fill-opacity="0.6"/>
<circle cx="209.5" cy="610.5" r="2.1" fill="#38a638" fill-opacity="0.6"/>
<circle cx="203.4" cy="611.0" r="2.1" fill="#38a638" fill-opacity="0.6"/>
<circle cx="210.3" cy="609.8" r="2.1" fill="#38a638" fill-opacity="0.6"/>
<circle cx="205.2" cy="610.0" r="2.1" fill="#38a638" fill-opacity="0.6"/>
<circle cx="206.5" cy="610.5" r="2.1" fill="#38a638" fill-opacity="0.6"/>
<circle cx="201.9" cy="610.8" r="2.1" fill="#38a638" fill-opacity="0.6"/>
<circle cx="203.2" cy="610.5" r="2.1" fill="#38a638" fill-opacity="0.6"/>
<circle cx="203.6" cy="610.4" r="2.1" fill="#38a638" fill-opacity="0.6"/>
<circle cx="208.3" cy="609.4" r="2.1" fill="#38a638" fill-opacity="0.6"/>
<circle cx="199.5" cy="611.8" r="2.1" fill="#38a638" fill-opacity="0.6"/>
<circle cx="200.4" cy="611.8" r="2.1" fill="#38a638" fill-opacity="0.6"/>
<circle cx="208.5" cy="610.1" r="2.1" fill="#38a638" fill-opacity="0.6"/>
<circle cx="200.2" cy="611.3" r="2.1" fill="#38a638" fill-opacity="0.6"/>
<circle cx="209.9" cy="609.5" r="2.1" fill="#38a638" fill-opacity="0.6"/>
<circle cx="206.3" cy="609.9" r="2.1" fill="#38a638" fill-opacity="0.6"/>
<circle cx="207.5" cy="610.6" r="2.1" fill="#38a638" fill-opacity="0.6"/>
<circle cx="201.6" cy="610.3" r="2.1" fill="#38a638" fill-opacity="0.6"/>
<circle cx="215.1" cy="609.8" r="2.1" fill="#38a638" fill-opacity="0.45"/>
<circle cx="219.6" cy="610.7" r="2.1" fill="#38a638" fill-opacity="0.45"/>
<circle cx="224.2" cy="609.4" r="2.1" fill="#38a638" fill-opacity="0.45"/>
<circle cx="233.3" cy="609.6" r="2.1" fill="#38a638" fill-opacity="0.45"/>
<circle cx="212.8" cy="611.1" r="2.1" fill="#38a638" fill-opacity="0.45"/>
<circle cx="189.4" cy="605.5" r="2.1" fill="#1c5a9c" fill-opacity="0.75"/>
<circle cx="196.9" cy="603.7" r="2.1" fill="#1c5a9c" fill-opacity="0.75"/>
<circle cx="192.7" cy="603.9" r="2.1" fill="#1c5a9c" fill-opacity="0.75"/>
<circle cx="170.3" cy="605.1" r="2.1" fill="#1c5a9c" fill-opacity="0.75"/>
<circle cx="196.8" cy="598.2" r="2.1" fill="#1c5a9c" fill-opacity="0.75"/>
<circle cx="165.3" cy="603.0" r="2.1" fill="#1c5a9c" fill-opacity="0.75"/>
<circle cx="196.5" cy="601.6" r="2.1" fill="#1c5a9c" fill-opacity="0.75"/>
<circle cx="193.5" cy="602.4" r="2.1" fill="#1c5a9c" fill-opacity="0.75"/>
<circle cx="192.4" cy="605.1" r="2.1" fill="#1c5a9c" fill-opacity="0.75"/>
<circle cx="170.5" cy="605.1" r="2.1" fill="#1c5a9c" fill-opacity="0.75"/>
<circle cx="167.6" cy="603.4" r="2.1" fill="#1c5a9c" fill-opacity="0.75"/>
<circle cx="168.5" cy="603.7" r="2.1" fill="#1c5a9c" fill-opacity="0.75"/>
<circle cx="165.9" cy="601.7" r="2.1" fill="#1c5a9c" fill-opacity="0.75"/>
<circle cx="164.6" cy="599.9" r="2.1" fill="#1c5a9c" fill-opacity="0.75"/>
<circle cx="170.8" cy="605.4" r="2.1" fill="#1c5a9c" fill-opacity="0.75"/>
<circle cx="168.8" cy="604.9" r="2.1" fill="#1c5a9c" fill-opacity="0.75"/>
<circle cx="191.3" cy="604.1" r="2.1" fill="#1c5a9c" fill-opacity="0.75"/>
<circle cx="164.2" cy="599.2" r="2.1" fill="#1c5a9c" fill-opacity="0.75"/>
<circle cx="165.7" cy="605.4" r="2.1" fill="#1c5a9c" fill-opacity="0.75"/>
<circle cx="167.8" cy="601.9" r="2.1" fill="#1c5a9c" fill-opacity="0.75"/>
<circle cx="166.2" cy="600.9" r="2.1" fill="#1c5a9c" fill-opacity="0.75"/>
<circle cx="168.8" cy="604.0" r="2.1" fill="#1c5a9c" fill-opacity="0.75"/>
<circle cx="197.2" cy="601.2" r="2.1" fill="#1c5a9c" fill-opacity="0.75"/>
<circle cx="170.0" cy="605.3" r="2.1" fill="#1c5a9c" fill-opacity="0.75"/>
<circle cx="195.7" cy="602.5" r="2.1" fill="#1c5a9c" fill-opacity="0.75"/>
<circle cx="195.2" cy="604.0" r="2.1" fill="#1c5a9c" fill-opacity="0.75"/>
<circle cx="191.7" cy="605.4" r="2.1" fill="#1c5a9c" fill-opacity="0.75"/>
<circle cx="166.0" cy="603.9" r="2.1" fill="#1c5a9c" fill-opacity="0.75"/>
<circle cx="191.5" cy="603.5" r="2.1" fill="#1c5a9c" fill-opacity="0.75"/>
<circle cx="192.0" cy="604.6" r="2.1" fill="#1c5a9c" fill-opacity="0.75"/>
<circle cx="193.1" cy="605.4" r="2.1" fill="#1c5a9c" fill-opacity="0.75"/>
<circle cx="167.1" cy="603.2" r="2.1" fill="#1c5a9c" fill-opacity="0.75"/>
<circle cx="164.1" cy="597.7" r="2.1" fill="#1c5a9c" fill-opacity="0.75"/>
<circle cx="166.7" cy="604.8" r="2.1" fill="#1c5a9c" fill-opacity="0.75"/>
<circle cx="190.0" cy="605.5" r="2.1" fill="#1c5a9c" fill-opacity="0.75"/>
<circle cx="193.0" cy="602.8" r="2.1" fill="#1c5a9c" fill-opacity="0.75"/>
<circle cx="195.2" cy="604.5" r="2.1" fill="#1c5a9c" fill-opacity="0.75"/>
<circle cx="196.8" cy="599.2" r="2.1" fill="#1c5a9c" fill-opacity="0.75"/>
<circle cx="165.6" cy="602.6" r="2.1" fill="#1c5a9c" fill-opacity="0.75"/>
<circle cx="192.1" cy="603.6" r="2.1" fill="#1c5a9c" fill-opacity="0.75"/>
<circle cx="191.3" cy="605.5" r="2.1" fill="#1c5a9c" fill-opacity="0.75"/>
<circle cx="196.1" cy="604.5" r="2.1" fill="#1c5a9c" fill-opacity="0.75"/>
<circle cx="164.1" cy="598.6" r="2.1" fill="#1c5a9c" fill-opacity="0.75"/>
<circle cx="164.7" cy="605.2" r="2.1" fill="#1c5a9c" fill-opacity="0.75"/>
<circle cx="192.2" cy="603.0" r="2.1" fill="#1c5a9c" fill-opacity="0.75"/>
<circle cx="165.0" cy="603.6" r="2.1" fill="#1c5a9c" fill-opacity="0.75"/>
<circle cx="165.0" cy="604.2" r="2.1" fill="#1c5a9c" fill-opacity="0.75"/>
<circle cx="195.9" cy="604.5" r="2.1" fill="#1c5a9c" fill-opacity="0.75"/>
<circle cx="194.0" cy="604.9" r="2.1" fill="#1c5a9c" fill-opacity="0.75"/>
<circle cx="192.9" cy="604.2" r="2.1" fill="#1c5a9c" fill-opacity="0.75"/>
<circle cx="164.2" cy="600.7" r="2.1" fill="#1c5a9c" fill-opacity="0.75"/>
<circle cx="166.8" cy="605.5" r="2.1" fill="#1c5a9c" fill-opacity="0.75"/>
<circle cx="192.3" cy="604.4" r="2.1" fill="#1c5a9c" fill-opacity="0.75"/>
<circle cx="189.8" cy="605.5" r="2.1" fill="#1c5a9c" fill-opacity="0.75"/>
<circle cx="169.3" cy="604.8" r="2.1" fill="#1c5a9c" fill-opacity="0.75"/>
<circle cx="190.0" cy="605.5" r="2.1" fill="#1c5a9c" fill-opacity="0.75"/>
<circle cx="166.4" cy="601.6" r="2.1" fill="#1c5a9c" fill-opacity="0.75"/>
<circle cx="191.5" cy="603.6" r="2.1" fill="#1c5a9c" fill-opacity="0.75"/>
<circle cx="167.2" cy="601.8" r="2.1" fill="#1c5a9c" fill-opacity="0.75"/>
<circle cx="196.4" cy="598.7" r="2.1" fill="#1c5a9c" fill-opacity="0.75"/>
<circle cx="190.3" cy="605.2" r="2.1" fill="#1c5a9c" fill-opacity="0.75"/>
<circle cx="189.6" cy="605.3" r="2.1" fill="#1c5a9c" fill-opacity="0.75"/>
<circle cx="190.1" cy="604.8" r="2.1" fill="#1c5a9c" fill-opacity="0.75"/>
<circle cx="191.8" cy="603.2" r="2.1" fill="#1c5a9c" fill-opacity="0.75"/>
<circle cx="167.3" cy="603.1" r="2.1" fill="#1c5a9c" fill-opacity="0.75"/>
<circle cx="169.8" cy="605.5" r="2.1" fill="#1c5a9c" fill-opacity="0.75"/>
<circle cx="194.8" cy="603.8" r="2.1" fill="#1c5a9c" fill-opacity="0.75"/>
<circle cx="195.6" cy="602.8" r="2.1" fill="#1c5a9c" fill-opacity="0.75"/>
<circle cx="189.5" cy="605.6" r="2.1" fill="#1c5a9c" fill-opacity="0.75"/>
<circle cx="169.2" cy="605.2" r="2.1" fill="#1c5a9c" fill-opacity="0.75"/>
<circle cx="195.6" cy="602.1" r="2.1" fill="#1c5a9c" fill-opacity="0.75"/>
<circle cx="163.7" cy="605.6" r="2.1" fill="#1c5a9c" fill-opacity="0.75"/>
<circle cx="166.7" cy="604.2" r="2.1" fill="#1c5a9c" fill-opacity="0.75"/>
<circle cx="192.0" cy="605.4" r="2.1" fill="#1c5a9c" fill-opacity="0.75"/>
<circle cx="195.3" cy="602.8" r="2.1" fill="#1c5a9c" fill-opacity="0.75"/>
<circle cx="190.4" cy="604.6" r="2.1" fill="#1c5a9c" fill-opacity="0.75"/>
<circle cx="166.6" cy="603.5" r="2.1" fill="#1c5a9c" fill-opacity="0.75"/>
<circle cx="169.5" cy="604.7" r="2.1" fill="#1c5a9c" fill-opacity="0.75"/>
<circle cx="196.0" cy="600.4" r="2.1" fill="#1c5a9c" fill-opacity="0.75"/>
<circle cx="195.5" cy="601.8" r="2.1" fill="#1c5a9c" fill-opacity="0.75"/>
<circle cx="164.2" cy="602.3" r="2.1" fill="#1c5a9c" fill-opacity="0.75"/>
<circle cx="169.4" cy="604.5" r="2.1" fill="#1c5a9c" fill-opacity="0.75"/>
<circle cx="189.6" cy="605.6" r="2.1" fill="#1c5a9c" fill-opacity="0.75"/>
<circle cx="164.2" cy="601.9" r="2.1" fill="#1c5a9c" fill-opacity="0.75"/>
<circle cx="191.6" cy="604.4" r="2.1" fill="#1c5a9c" fill-opacity="0.75"/>
<circle cx="194.0" cy="605.1" r="2.1" fill="#1c5a9c" fill-opacity="0.75"/>
<circle cx="197.5" cy="603.7" r="2.1" fill="#1c5a9c" fill-opacity="0.75"/>
<circle cx="165.4" cy="605.2" r="2.1" fill="#1c5a9c" fill-opacity="0.75"/>
<circle cx="196.3" cy="601.4" r="2.1" fill="#1c5a9c" fill-opacity="0.75"/>
<circle cx="194.3" cy="605.0" r="2.1" fill="#1c5a9c" fill-opacity="0.75"/>
<circle cx="191.3" cy="603.9" r="2.1" fill="#1c5a9c" fill-opacity="0.75"/>
<circle cx="192.4" cy="603.0" r="2.1" fill="#1c5a9c" fill-opacity="0.75"/>
<circle cx="189.5" cy="605.5" r="2.1" fill="#1c5a9c" fill-opacity="0.75"/>
<circle cx="192.0" cy="604.4" r="2.1" fill="#1c5a9c" fill-opacity="0.75"/>
<circle cx="167.8" cy="604.6" r="2.1" fill="#1c5a9c" fill-opacity="0.75"/>
<circle cx="192.9" cy="603.8" r="2.1" fill="#1c5a9c" fill-opacity="0.75"/>
<circle cx="165.1" cy="601.4" r="2.1" fill="#1c5a9c" fill-opacity="0.75"/>
<circle cx="189.4" cy="605.5" r="2.1" fill="#1c5a9c" fill-opacity="0.75"/>
<circle cx="167.6" cy="603.6" r="2.1" fill="#1c5a9c" fill-opacity="0.75"/>
<circle cx="193.9" cy="601.5" r="2.1" fill="#1c5a9c" fill-opacity="0.75"/>
<circle cx="167.2" cy="603.4" r="2.1" fill="#1c5a9c" fill-opacity="0.75"/>
<circle cx="171.1" cy="605.6" r="2.1" fill="#1c5a9c" fill-opacity="0.75"/>
<circle cx="164.6" cy="600.6" r="2.1" fill="#1c5a9c" fill-opacity="0.75"/>
<circle cx="165.3" cy="602.8" r="2.1" fill="#1c5a9c" fill-opacity="0.75"/>
<circle cx="191.0" cy="604.8" r="2.1" fill="#1c5a9c" fill-opacity="0.75"/>
<circle cx="167.0" cy="601.4" r="2.1" fill="#1c5a9c" fill-opacity="0.75"/>
<circle cx="163.9" cy="598.3" r="2.1" fill="#1c5a9c" fill-opacity="0.75"/>
<circle cx="165.1" cy="604.6" r="2.1" fill="#1c5a9c" fill-opacity="0.75"/>
<circle cx="191.1" cy="605.5" r="2.1" fill="#1c5a9c" fill-opacity="0.75"/>
<circle cx="195.4" cy="602.9" r="2.1" fill="#1c5a9c" fill-opacity="0.75"/>
<circle cx="197.1" cy="598.4" r="2.1" fill="#1c5a9c" fill-opacity="0.75"/>
<circle cx="165.2" cy="600.3" r="2.1" fill="#1c5a9c" fill-opacity="0.75"/>
<circle cx="164.2" cy="600.4" r="2.1" fill="#1c5a9c" fill-opacity="0.75"/>
<circle cx="170.5" cy="605.0" r="2.1" fill="#1c5a9c" fill-opacity="0.75"/>
<circle cx="164.3" cy="600.9" r="2.1" fill="#1c5a9c" fill-opacity="0.75"/>
<circle cx="166.5" cy="600.8" r="2.1" fill="#1c5a9c" fill-opacity="0.75"/>
<circle cx="168.9" cy="605.4" r="2.1" fill="#1c5a9c" fill-opacity="0.75"/>
<circle cx="189.7" cy="605.4" r="2.1" fill="#1c5a9c" fill-opacity="0.75"/>
<circle cx="169.4" cy="603.8" r="2.1" fill="#1c5a9c" fill-opacity="0.75"/>
<circle cx="197.3" cy="601.6" r="2.1" fill="#1c5a9c" fill-opacity="0.75"/>
<circle cx="139.7" cy="604.0" r="2.05" fill="#cc1f1f" fill-opacity="0.64" stroke="#a81a1a" stroke-opacity="0.55" stroke-width="0.5"/>
<circle cx="145.1" cy="579.6" r="2.05" fill="#cc1f1f" fill-opacity="0.64" stroke="#a81a1a" stroke-opacity="0.55" stroke-width="0.5"/>
<circle cx="140.3" cy="602.3" r="2.05" fill="#cc1f1f" fill-opacity="0.64" stroke="#a81a1a" stroke-opacity="0.55" stroke-width="0.5"/>
<circle cx="157.9" cy="601.0" r="2.05" fill="#cc1f1f" fill-opacity="0.64" stroke="#a81a1a" stroke-opacity="0.55" stroke-width="0.5"/>
<circle cx="141.0" cy="588.2" r="2.05" fill="#cc1f1f" fill-opacity="0.64" stroke="#a81a1a" stroke-opacity="0.55" stroke-width="0.5"/>
<circle cx="147.3" cy="600.6" r="2.05" fill="#cc1f1f" fill-opacity="0.64" stroke="#a81a1a" stroke-opacity="0.55" stroke-width="0.5"/>
<circle cx="140.7" cy="590.0" r="2.05" fill="#cc1f1f" fill-opacity="0.64" stroke="#a81a1a" stroke-opacity="0.55" stroke-width="0.5"/>
<circle cx="160.1" cy="597.5" r="2.05" fill="#cc1f1f" fill-opacity="0.64" stroke="#a81a1a" stroke-opacity="0.55" stroke-width="0.5"/>
<circle cx="157.4" cy="604.4" r="2.05" fill="#cc1f1f" fill-opacity="0.64" stroke="#a81a1a" stroke-opacity="0.55" stroke-width="0.5"/>
<circle cx="151.3" cy="585.0" r="2.05" fill="#cc1f1f" fill-opacity="0.64" stroke="#a81a1a" stroke-opacity="0.55" stroke-width="0.5"/>
<circle cx="152.7" cy="591.8" r="2.05" fill="#cc1f1f" fill-opacity="0.64" stroke="#a81a1a" stroke-opacity="0.55" stroke-width="0.5"/>
<circle cx="157.7" cy="599.9" r="2.05" fill="#cc1f1f" fill-opacity="0.64" stroke="#a81a1a" stroke-opacity="0.55" stroke-width="0.5"/>
<circle cx="152.1" cy="578.5" r="2.05" fill="#cc1f1f" fill-opacity="0.64" stroke="#a81a1a" stroke-opacity="0.55" stroke-width="0.5"/>
<circle cx="131.5" cy="604.1" r="2.05" fill="#cc1f1f" fill-opacity="0.64" stroke="#a81a1a" stroke-opacity="0.55" stroke-width="0.5"/>
<circle cx="142.7" cy="593.4" r="2.05" fill="#cc1f1f" fill-opacity="0.64" stroke="#a81a1a" stroke-opacity="0.55" stroke-width="0.5"/>
<circle cx="146.7" cy="587.2" r="2.05" fill="#cc1f1f" fill-opacity="0.64" stroke="#a81a1a" stroke-opacity="0.55" stroke-width="0.5"/>
<circle cx="139.2" cy="582.9" r="2.05" fill="#cc1f1f" fill-opacity="0.64" stroke="#a81a1a" stroke-opacity="0.55" stroke-width="0.5"/>
<circle cx="137.7" cy="599.0" r="2.05" fill="#cc1f1f" fill-opacity="0.64" stroke="#a81a1a" stroke-opacity="0.55" stroke-width="0.5"/>
<circle cx="148.0" cy="599.7" r="2.05" fill="#cc1f1f" fill-opacity="0.64" stroke="#a81a1a" stroke-opacity="0.55" stroke-width="0.5"/>
<circle cx="137.2" cy="599.9" r="2.05" fill="#cc1f1f" fill-opacity="0.64" stroke="#a81a1a" stroke-opacity="0.55" stroke-width="0.5"/>
<circle cx="150.4" cy="600.2" r="2.05" fill="#cc1f1f" fill-opacity="0.64" stroke="#a81a1a" stroke-opacity="0.55" stroke-width="0.5"/>
<circle cx="143.0" cy="584.1" r="2.05" fill="#cc1f1f" fill-opacity="0.64" stroke="#a81a1a" stroke-opacity="0.55" stroke-width="0.5"/>
<circle cx="135.8" cy="590.7" r="2.05" fill="#cc1f1f" fill-opacity="0.64" stroke="#a81a1a" stroke-opacity="0.55" stroke-width="0.5"/>
<circle cx="137.7" cy="599.5" r="2.05" fill="#cc1f1f" fill-opacity="0.64" stroke="#a81a1a" stroke-opacity="0.55" stroke-width="0.5"/>
<circle cx="151.4" cy="602.3" r="2.05" fill="#cc1f1f" fill-opacity="0.64" stroke="#a81a1a" stroke-opacity="0.55" stroke-width="0.5"/>
<circle cx="126.2" cy="604.4" r="2.05" fill="#cc1f1f" fill-opacity="0.64" stroke="#a81a1a" stroke-opacity="0.55" stroke-width="0.5"/>
<circle cx="157.8" cy="580.9" r="2.05" fill="#cc1f1f" fill-opacity="0.64" stroke="#a81a1a" stroke-opacity="0.55" stroke-width="0.5"/>
<circle cx="160.0" cy="599.6" r="2.05" fill="#cc1f1f" fill-opacity="0.64" stroke="#a81a1a" stroke-opacity="0.55" stroke-width="0.5"/>
<circle cx="135.0" cy="603.9" r="2.05" fill="#cc1f1f" fill-opacity="0.64" stroke="#a81a1a" stroke-opacity="0.55" stroke-width="0.5"/>
<circle cx="162.2" cy="582.2" r="2.05" fill="#cc1f1f" fill-opacity="0.64" stroke="#a81a1a" stroke-opacity="0.55" stroke-width="0.5"/>
<circle cx="130.0" cy="602.2" r="2.05" fill="#cc1f1f" fill-opacity="0.64" stroke="#a81a1a" stroke-opacity="0.55" stroke-width="0.5"/>
<circle cx="123.4" cy="602.7" r="2.05" fill="#cc1f1f" fill-opacity="0.64" stroke="#a81a1a" stroke-opacity="0.55" stroke-width="0.5"/>
<circle cx="145.0" cy="600.2" r="2.05" fill="#cc1f1f" fill-opacity="0.64" stroke="#a81a1a" stroke-opacity="0.55" stroke-width="0.5"/>
<circle cx="152.3" cy="603.1" r="2.05" fill="#cc1f1f" fill-opacity="0.64" stroke="#a81a1a" stroke-opacity="0.55" stroke-width="0.5"/>
<circle cx="154.0" cy="598.5" r="2.05" fill="#cc1f1f" fill-opacity="0.64" stroke="#a81a1a" stroke-opacity="0.55" stroke-width="0.5"/>
<circle cx="163.1" cy="588.8" r="2.05" fill="#cc1f1f" fill-opacity="0.64" stroke="#a81a1a" stroke-opacity="0.55" stroke-width="0.5"/>
<circle cx="136.3" cy="592.0" r="2.05" fill="#cc1f1f" fill-opacity="0.64" stroke="#a81a1a" stroke-opacity="0.55" stroke-width="0.5"/>
<circle cx="157.0" cy="600.8" r="2.05" fill="#cc1f1f" fill-opacity="0.64" stroke="#a81a1a" stroke-opacity="0.55" stroke-width="0.5"/>
<circle cx="161.1" cy="604.2" r="2.05" fill="#cc1f1f" fill-opacity="0.64" stroke="#a81a1a" stroke-opacity="0.55" stroke-width="0.5"/>
<circle cx="147.4" cy="586.3" r="2.05" fill="#cc1f1f" fill-opacity="0.64" stroke="#a81a1a" stroke-opacity="0.55" stroke-width="0.5"/>
<circle cx="143.9" cy="604.9" r="2.05" fill="#cc1f1f" fill-opacity="0.64" stroke="#a81a1a" stroke-opacity="0.55" stroke-width="0.5"/>
<circle cx="153.8" cy="593.4" r="2.05" fill="#cc1f1f" fill-opacity="0.64" stroke="#a81a1a" stroke-opacity="0.55" stroke-width="0.5"/>
<circle cx="145.5" cy="604.8" r="2.05" fill="#cc1f1f" fill-opacity="0.64" stroke="#a81a1a" stroke-opacity="0.55" stroke-width="0.5"/>
<circle cx="121.0" cy="600.2" r="2.05" fill="#cc1f1f" fill-opacity="0.64" stroke="#a81a1a" stroke-opacity="0.55" stroke-width="0.5"/>
<circle cx="123.7" cy="600.1" r="2.05" fill="#cc1f1f" fill-opacity="0.64" stroke="#a81a1a" stroke-opacity="0.55" stroke-width="0.5"/>
<circle cx="150.1" cy="583.2" r="2.05" fill="#cc1f1f" fill-opacity="0.64" stroke="#a81a1a" stroke-opacity="0.55" stroke-width="0.5"/>
<circle cx="125.9" cy="604.1" r="2.05" fill="#cc1f1f" fill-opacity="0.64" stroke="#a81a1a" stroke-opacity="0.55" stroke-width="0.5"/>
<circle cx="138.9" cy="604.5" r="2.05" fill="#cc1f1f" fill-opacity="0.64" stroke="#a81a1a" stroke-opacity="0.55" stroke-width="0.5"/>
<circle cx="160.5" cy="604.4" r="2.05" fill="#cc1f1f" fill-opacity="0.64" stroke="#a81a1a" stroke-opacity="0.55" stroke-width="0.5"/>
<circle cx="158.6" cy="598.9" r="2.05" fill="#cc1f1f" fill-opacity="0.64" stroke="#a81a1a" stroke-opacity="0.55" stroke-width="0.5"/>
<circle cx="153.1" cy="577.7" r="2.05" fill="#cc1f1f" fill-opacity="0.64" stroke="#a81a1a" stroke-opacity="0.55" stroke-width="0.5"/>
<circle cx="140.5" cy="582.0" r="2.05" fill="#cc1f1f" fill-opacity="0.64" stroke="#a81a1a" stroke-opacity="0.55" stroke-width="0.5"/>
<circle cx="145.2" cy="587.7" r="2.05" fill="#cc1f1f" fill-opacity="0.64" stroke="#a81a1a" stroke-opacity="0.55" stroke-width="0.5"/>
<circle cx="133.1" cy="597.2" r="2.05" fill="#cc1f1f" fill-opacity="0.64" stroke="#a81a1a" stroke-opacity="0.55" stroke-width="0.5"/>
<circle cx="159.6" cy="591.0" r="2.05" fill="#cc1f1f" fill-opacity="0.64" stroke="#a81a1a" stroke-opacity="0.55" stroke-width="0.5"/>
<circle cx="149.5" cy="595.5" r="2.05" fill="#cc1f1f" fill-opacity="0.64" stroke="#a81a1a" stroke-opacity="0.55" stroke-width="0.5"/>
<circle cx="136.9" cy="596.0" r="2.05" fill="#cc1f1f" fill-opacity="0.64" stroke="#a81a1a" stroke-opacity="0.55" stroke-width="0.5"/>
<circle cx="146.2" cy="590.3" r="2.05" fill="#cc1f1f" fill-opacity="0.64" stroke="#a81a1a" stroke-opacity="0.55" stroke-width="0.5"/>
<circle cx="140.2" cy="586.5" r="2.05" fill="#cc1f1f" fill-opacity="0.64" stroke="#a81a1a" stroke-opacity="0.55" stroke-width="0.5"/>
<circle cx="158.4" cy="604.5" r="2.05" fill="#cc1f1f" fill-opacity="0.64" stroke="#a81a1a" stroke-opacity="0.55" stroke-width="0.5"/>
<circle cx="157.7" cy="604.8" r="2.05" fill="#cc1f1f" fill-opacity="0.64" stroke="#a81a1a" stroke-opacity="0.55" stroke-width="0.5"/>
<circle cx="158.1" cy="579.2" r="2.05" fill="#cc1f1f" fill-opacity="0.64" stroke="#a81a1a" stroke-opacity="0.55" stroke-width="0.5"/>
<circle cx="146.3" cy="598.1" r="2.05" fill="#cc1f1f" fill-opacity="0.64" stroke="#a81a1a" stroke-opacity="0.55" stroke-width="0.5"/>
<circle cx="154.9" cy="594.5" r="2.05" fill="#cc1f1f" fill-opacity="0.64" stroke="#a81a1a" stroke-opacity="0.55" stroke-width="0.5"/>
<circle cx="155.3" cy="586.9" r="2.05" fill="#cc1f1f" fill-opacity="0.64" stroke="#a81a1a" stroke-opacity="0.55" stroke-width="0.5"/>
<circle cx="142.8" cy="584.2" r="2.05" fill="#cc1f1f" fill-opacity="0.64" stroke="#a81a1a" stroke-opacity="0.55" stroke-width="0.5"/>
<circle cx="139.1" cy="604.9" r="2.05" fill="#cc1f1f" fill-opacity="0.64" stroke="#a81a1a" stroke-opacity="0.55" stroke-width="0.5"/>
<circle cx="121.5" cy="604.4" r="2.05" fill="#cc1f1f" fill-opacity="0.64" stroke="#a81a1a" stroke-opacity="0.55" stroke-width="0.5"/>
<circle cx="153.0" cy="604.6" r="2.05" fill="#cc1f1f" fill-opacity="0.64" stroke="#a81a1a" stroke-opacity="0.55" stroke-width="0.5"/>
<circle cx="147.2" cy="587.3" r="2.05" fill="#cc1f1f" fill-opacity="0.64" stroke="#a81a1a" stroke-opacity="0.55" stroke-width="0.5"/>
<circle cx="151.3" cy="591.1" r="2.05" fill="#cc1f1f" fill-opacity="0.64" stroke="#a81a1a" stroke-opacity="0.55" stroke-width="0.5"/>
<circle cx="157.4" cy="595.8" r="2.05" fill="#cc1f1f" fill-opacity="0.64" stroke="#a81a1a" stroke-opacity="0.55" stroke-width="0.5"/>
<circle cx="155.0" cy="597.5" r="2.05" fill="#cc1f1f" fill-opacity="0.64" stroke="#a81a1a" stroke-opacity="0.55" stroke-width="0.5"/>
<circle cx="161.1" cy="590.8" r="2.05" fill="#cc1f1f" fill-opacity="0.64" stroke="#a81a1a" stroke-opacity="0.55" stroke-width="0.5"/>
<circle cx="156.2" cy="604.0" r="2.05" fill="#cc1f1f" fill-opacity="0.64" stroke="#a81a1a" stroke-opacity="0.55" stroke-width="0.5"/>
<circle cx="142.8" cy="595.5" r="2.05" fill="#cc1f1f" fill-opacity="0.64" stroke="#a81a1a" stroke-opacity="0.55" stroke-width="0.5"/>
<circle cx="115.3" cy="604.9" r="2.05" fill="#cc1f1f" fill-opacity="0.64" stroke="#a81a1a" stroke-opacity="0.55" stroke-width="0.5"/>
<circle cx="154.7" cy="584.6" r="2.05" fill="#cc1f1f" fill-opacity="0.64" stroke="#a81a1a" stroke-opacity="0.55" stroke-width="0.5"/>
<circle cx="125.3" cy="603.7" r="2.05" fill="#cc1f1f" fill-opacity="0.64" stroke="#a81a1a" stroke-opacity="0.55" stroke-width="0.5"/>
<circle cx="160.8" cy="578.4" r="2.05" fill="#cc1f1f" fill-opacity="0.64" stroke="#a81a1a" stroke-opacity="0.55" stroke-width="0.5"/>
<circle cx="139.3" cy="587.8" r="2.05" fill="#cc1f1f" fill-opacity="0.64" stroke="#a81a1a" stroke-opacity="0.55" stroke-width="0.5"/>
<circle cx="160.0" cy="580.2" r="2.05" fill="#cc1f1f" fill-opacity="0.64" stroke="#a81a1a" stroke-opacity="0.55" stroke-width="0.5"/>
<circle cx="157.6" cy="604.2" r="2.05" fill="#cc1f1f" fill-opacity="0.64" stroke="#a81a1a" stroke-opacity="0.55" stroke-width="0.5"/>
<circle cx="122.3" cy="602.6" r="2.05" fill="#cc1f1f" fill-opacity="0.64" stroke="#a81a1a" stroke-opacity="0.55" stroke-width="0.5"/>
<circle cx="153.6" cy="581.4" r="2.05" fill="#cc1f1f" fill-opacity="0.64" stroke="#a81a1a" stroke-opacity="0.55" stroke-width="0.5"/>
<circle cx="149.1" cy="604.1" r="2.05" fill="#cc1f1f" fill-opacity="0.64" stroke="#a81a1a" stroke-opacity="0.55" stroke-width="0.5"/>
<circle cx="135.4" cy="602.5" r="2.05" fill="#cc1f1f" fill-opacity="0.64" stroke="#a81a1a" stroke-opacity="0.55" stroke-width="0.5"/>
<circle cx="139.7" cy="589.1" r="2.05" fill="#cc1f1f" fill-opacity="0.64" stroke="#a81a1a" stroke-opacity="0.55" stroke-width="0.5"/>
<circle cx="146.7" cy="598.2" r="2.05" fill="#cc1f1f" fill-opacity="0.64" stroke="#a81a1a" stroke-opacity="0.55" stroke-width="0.5"/>
<circle cx="150.6" cy="597.3" r="2.05" fill="#cc1f1f" fill-opacity="0.64" stroke="#a81a1a" stroke-opacity="0.55" stroke-width="0.5"/>
<circle cx="136.9" cy="597.7" r="2.05" fill="#cc1f1f" fill-opacity="0.64" stroke="#a81a1a" stroke-opacity="0.55" stroke-width="0.5"/>
<circle cx="154.7" cy="589.5" r="2.05" fill="#cc1f1f" fill-opacity="0.64" stroke="#a81a1a" stroke-opacity="0.55" stroke-width="0.5"/>
<circle cx="159.6" cy="594.4" r="2.05" fill="#cc1f1f" fill-opacity="0.64" stroke="#a81a1a" stroke-opacity="0.55" stroke-width="0.5"/>
<circle cx="147.2" cy="604.8" r="2.05" fill="#cc1f1f" fill-opacity="0.64" stroke="#a81a1a" stroke-opacity="0.55" stroke-width="0.5"/>
<circle cx="162.8" cy="600.1" r="2.05" fill="#cc1f1f" fill-opacity="0.64" stroke="#a81a1a" stroke-opacity="0.55" stroke-width="0.5"/>
<circle cx="159.3" cy="595.9" r="2.05" fill="#cc1f1f" fill-opacity="0.64" stroke="#a81a1a" stroke-opacity="0.55" stroke-width="0.5"/>
<circle cx="123.8" cy="587.1" r="2.05" fill="#cc1f1f" fill-opacity="0.64" stroke="#a81a1a" stroke-opacity="0.55" stroke-width="0.5"/>
<circle cx="161.3" cy="598.2" r="2.05" fill="#cc1f1f" fill-opacity="0.64" stroke="#a81a1a" stroke-opacity="0.55" stroke-width="0.5"/>
<circle cx="147.4" cy="598.3" r="2.05" fill="#cc1f1f" fill-opacity="0.64" stroke="#a81a1a" stroke-opacity="0.55" stroke-width="0.5"/>
<circle cx="156.9" cy="592.4" r="2.05" fill="#cc1f1f" fill-opacity="0.64" stroke="#a81a1a" stroke-opacity="0.55" stroke-width="0.5"/>
<circle cx="128.0" cy="596.8" r="2.05" fill="#cc1f1f" fill-opacity="0.64" stroke="#a81a1a" stroke-opacity="0.55" stroke-width="0.5"/>
<circle cx="155.3" cy="602.7" r="2.05" fill="#cc1f1f" fill-opacity="0.64" stroke="#a81a1a" stroke-opacity="0.55" stroke-width="0.5"/>
<circle cx="161.9" cy="588.7" r="2.05" fill="#cc1f1f" fill-opacity="0.64" stroke="#a81a1a" stroke-opacity="0.55" stroke-width="0.5"/>
<circle cx="153.0" cy="589.6" r="2.05" fill="#cc1f1f" fill-opacity="0.64" stroke="#a81a1a" stroke-opacity="0.55" stroke-width="0.5"/>
<circle cx="130.0" cy="603.2" r="2.05" fill="#cc1f1f" fill-opacity="0.64" stroke="#a81a1a" stroke-opacity="0.55" stroke-width="0.5"/>
<circle cx="154.8" cy="598.2" r="2.05" fill="#cc1f1f" fill-opacity="0.64" stroke="#a81a1a" stroke-opacity="0.55" stroke-width="0.5"/>
<circle cx="130.9" cy="589.3" r="2.05" fill="#cc1f1f" fill-opacity="0.64" stroke="#a81a1a" stroke-opacity="0.55" stroke-width="0.5"/>
<circle cx="150.1" cy="595.3" r="2.05" fill="#cc1f1f" fill-opacity="0.64" stroke="#a81a1a" stroke-opacity="0.55" stroke-width="0.5"/>
<circle cx="147.9" cy="594.9" r="2.05" fill="#cc1f1f" fill-opacity="0.64" stroke="#a81a1a" stroke-opacity="0.55" stroke-width="0.5"/>
<circle cx="63.2" cy="596.2" r="2.05" fill="#cc1f1f" fill-opacity="0.66" stroke="#a81a1a" stroke-opacity="0.55" stroke-width="0.5"/>
<circle cx="67.7" cy="599.6" r="2.05" fill="#cc1f1f" fill-opacity="0.66" stroke="#a81a1a" stroke-opacity="0.55" stroke-width="0.5"/>
<circle cx="71.2" cy="601.3" r="2.05" fill="#cc1f1f" fill-opacity="0.66" stroke="#a81a1a" stroke-opacity="0.55" stroke-width="0.5"/>
<circle cx="74.6" cy="600.3" r="2.05" fill="#cc1f1f" fill-opacity="0.66" stroke="#a81a1a" stroke-opacity="0.55" stroke-width="0.5"/>
<circle cx="83.8" cy="595.4" r="2.05" fill="#cc1f1f" fill-opacity="0.66" stroke="#a81a1a" stroke-opacity="0.55" stroke-width="0.5"/>
<circle cx="81.4" cy="605.4" r="2.05" fill="#cc1f1f" fill-opacity="0.66" stroke="#a81a1a" stroke-opacity="0.55" stroke-width="0.5"/>
<circle cx="84.9" cy="605.8" r="2.05" fill="#cc1f1f" fill-opacity="0.66" stroke="#a81a1a" stroke-opacity="0.55" stroke-width="0.5"/>
<circle cx="94.0" cy="605.1" r="2.05" fill="#cc1f1f" fill-opacity="0.66" stroke="#a81a1a" stroke-opacity="0.55" stroke-width="0.5"/>
<circle cx="105.4" cy="605.6" r="2.05" fill="#cc1f1f" fill-opacity="0.66" stroke="#a81a1a" stroke-opacity="0.55" stroke-width="0.5"/>
<circle cx="113.4" cy="604.9" r="2.05" fill="#cc1f1f" fill-opacity="0.66" stroke="#a81a1a" stroke-opacity="0.55" stroke-width="0.5"/>
<circle cx="112.3" cy="584.5" r="2.05" fill="#cc1f1f" fill-opacity="0.66" stroke="#a81a1a" stroke-opacity="0.55" stroke-width="0.5"/>
<circle cx="124.6" cy="569.2" r="2.05" fill="#cc1f1f" fill-opacity="0.66" stroke="#a81a1a" stroke-opacity="0.55" stroke-width="0.5"/>
<circle cx="134.5" cy="556.3" r="2.05" fill="#cc1f1f" fill-opacity="0.66" stroke="#a81a1a" stroke-opacity="0.55" stroke-width="0.5"/>
<circle cx="131.2" cy="545.0" r="2.05" fill="#cc1f1f" fill-opacity="0.66" stroke="#a81a1a" stroke-opacity="0.55" stroke-width="0.5"/>
<circle cx="132.3" cy="545.6" r="2.05" fill="#cc1f1f" fill-opacity="0.66" stroke="#a81a1a" stroke-opacity="0.55" stroke-width="0.5"/>
<circle cx="150.2" cy="542.9" r="2.05" fill="#cc1f1f" fill-opacity="0.66" stroke="#a81a1a" stroke-opacity="0.55" stroke-width="0.5"/>
<circle cx="144.1" cy="529.7" r="2.05" fill="#cc1f1f" fill-opacity="0.66" stroke="#a81a1a" stroke-opacity="0.55" stroke-width="0.5"/>
<circle cx="145.4" cy="518.4" r="2.05" fill="#cc1f1f" fill-opacity="0.66" stroke="#a81a1a" stroke-opacity="0.55" stroke-width="0.5"/>
<circle cx="124.0" cy="527.6" r="2.05" fill="#cc1f1f" fill-opacity="0.66" stroke="#a81a1a" stroke-opacity="0.55" stroke-width="0.5"/>
<circle cx="130.6" cy="501.4" r="2.05" fill="#cc1f1f" fill-opacity="0.66" stroke="#a81a1a" stroke-opacity="0.55" stroke-width="0.5"/>
<circle cx="142.0" cy="548.6" r="2.05" fill="#cc1f1f" fill-opacity="0.66" stroke="#a81a1a" stroke-opacity="0.55" stroke-width="0.5"/>
<circle cx="145.4" cy="550.8" r="2.05" fill="#cc1f1f" fill-opacity="0.66" stroke="#a81a1a" stroke-opacity="0.55" stroke-width="0.5"/>
<circle cx="128.3" cy="552.9" r="2.05" fill="#cc1f1f" fill-opacity="0.66" stroke="#a81a1a" stroke-opacity="0.55" stroke-width="0.5"/>
<circle cx="134.5" cy="555.8" r="2.05" fill="#cc1f1f" fill-opacity="0.66" stroke="#a81a1a" stroke-opacity="0.55" stroke-width="0.5"/>
<circle cx="144.8" cy="552.4" r="2.05" fill="#cc1f1f" fill-opacity="0.66" stroke="#a81a1a" stroke-opacity="0.55" stroke-width="0.5"/>
<circle cx="147.7" cy="551.2" r="2.05" fill="#cc1f1f" fill-opacity="0.66" stroke="#a81a1a" stroke-opacity="0.55" stroke-width="0.5"/>
<circle cx="154.5" cy="557.8" r="2.05" fill="#cc1f1f" fill-opacity="0.66" stroke="#a81a1a" stroke-opacity="0.55" stroke-width="0.5"/>
<circle cx="141.6" cy="560.1" r="2.05" fill="#cc1f1f" fill-opacity="0.66" stroke="#a81a1a" stroke-opacity="0.55" stroke-width="0.5"/>
<circle cx="134.0" cy="560.1" r="2.05" fill="#cc1f1f" fill-opacity="0.66" stroke="#a81a1a" stroke-opacity="0.55" stroke-width="0.5"/>
<circle cx="158.0" cy="559.7" r="2.05" fill="#cc1f1f" fill-opacity="0.66" stroke="#a81a1a" stroke-opacity="0.55" stroke-width="0.5"/>
<circle cx="140.8" cy="568.2" r="2.05" fill="#cc1f1f" fill-opacity="0.66" stroke="#a81a1a" stroke-opacity="0.55" stroke-width="0.5"/>
<circle cx="150.0" cy="569.0" r="2.05" fill="#cc1f1f" fill-opacity="0.66" stroke="#a81a1a" stroke-opacity="0.55" stroke-width="0.5"/>
<circle cx="154.5" cy="569.4" r="2.05" fill="#cc1f1f" fill-opacity="0.66" stroke="#a81a1a" stroke-opacity="0.55" stroke-width="0.5"/>
<circle cx="141.4" cy="573.5" r="2.05" fill="#cc1f1f" fill-opacity="0.66" stroke="#a81a1a" stroke-opacity="0.55" stroke-width="0.5"/>
<circle cx="148.3" cy="574.3" r="2.05" fill="#cc1f1f" fill-opacity="0.66" stroke="#a81a1a" stroke-opacity="0.55" stroke-width="0.5"/>
<circle cx="126.0" cy="578.2" r="2.05" fill="#cc1f1f" fill-opacity="0.66" stroke="#a81a1a" stroke-opacity="0.55" stroke-width="0.5"/>
<circle cx="142.0" cy="577.1" r="2.05" fill="#cc1f1f" fill-opacity="0.66" stroke="#a81a1a" stroke-opacity="0.55" stroke-width="0.5"/>
<circle cx="155.7" cy="577.7" r="2.05" fill="#cc1f1f" fill-opacity="0.66" stroke="#a81a1a" stroke-opacity="0.55" stroke-width="0.5"/>
<circle cx="159.1" cy="579.9" r="2.05" fill="#cc1f1f" fill-opacity="0.66" stroke="#a81a1a" stroke-opacity="0.55" stroke-width="0.5"/>
<circle cx="136.3" cy="581.3" r="2.05" fill="#cc1f1f" fill-opacity="0.66" stroke="#a81a1a" stroke-opacity="0.55" stroke-width="0.5"/>
<circle cx="114.6" cy="592.0" r="2.05" fill="#cc1f1f" fill-opacity="0.66" stroke="#a81a1a" stroke-opacity="0.55" stroke-width="0.5"/>
<circle cx="122.6" cy="590.5" r="2.05" fill="#cc1f1f" fill-opacity="0.66" stroke="#a81a1a" stroke-opacity="0.55" stroke-width="0.5"/>
<circle cx="131.7" cy="586.2" r="2.05" fill="#cc1f1f" fill-opacity="0.66" stroke="#a81a1a" stroke-opacity="0.55" stroke-width="0.5"/>
<circle cx="118.0" cy="596.9" r="2.05" fill="#cc1f1f" fill-opacity="0.66" stroke="#a81a1a" stroke-opacity="0.55" stroke-width="0.5"/>
<circle cx="110.0" cy="599.0" r="2.05" fill="#cc1f1f" fill-opacity="0.66" stroke="#a81a1a" stroke-opacity="0.55" stroke-width="0.5"/>
<circle cx="115.7" cy="601.8" r="2.05" fill="#cc1f1f" fill-opacity="0.66" stroke="#a81a1a" stroke-opacity="0.55" stroke-width="0.5"/>
<circle cx="107.7" cy="602.6" r="2.05" fill="#cc1f1f" fill-opacity="0.66" stroke="#a81a1a" stroke-opacity="0.55" stroke-width="0.5"/>
<circle cx="219.7" cy="554.6" r="2.05" fill="#cc1f1f" fill-opacity="0.66" stroke="#a81a1a" stroke-opacity="0.55" stroke-width="0.5"/>
<circle cx="208.2" cy="573.5" r="2.05" fill="#cc1f1f" fill-opacity="0.66" stroke="#a81a1a" stroke-opacity="0.55" stroke-width="0.5"/>
<circle cx="226.8" cy="575.4" r="2.05" fill="#cc1f1f" fill-opacity="0.66" stroke="#a81a1a" stroke-opacity="0.55" stroke-width="0.5"/>
<circle cx="208.4" cy="590.3" r="2.05" fill="#cc1f1f" fill-opacity="0.66" stroke="#a81a1a" stroke-opacity="0.55" stroke-width="0.5"/>
<circle cx="250.3" cy="602.8" r="2.05" fill="#cc1f1f" fill-opacity="0.66" stroke="#a81a1a" stroke-opacity="0.55" stroke-width="0.5"/>
<circle cx="201.9" cy="597.1" r="2.05" fill="#cc1f1f" fill-opacity="0.66" stroke="#a81a1a" stroke-opacity="0.55" stroke-width="0.5"/>
<circle cx="212.2" cy="597.9" r="2.05" fill="#cc1f1f" fill-opacity="0.66" stroke="#a81a1a" stroke-opacity="0.55" stroke-width="0.5"/>
<circle cx="217.9" cy="602.0" r="2.05" fill="#cc1f1f" fill-opacity="0.66" stroke="#a81a1a" stroke-opacity="0.55" stroke-width="0.5"/>
<circle cx="200.2" cy="605.1" r="2.05" fill="#cc1f1f" fill-opacity="0.66" stroke="#a81a1a" stroke-opacity="0.55" stroke-width="0.5"/>
<circle cx="204.2" cy="604.5" r="2.05" fill="#cc1f1f" fill-opacity="0.66" stroke="#a81a1a" stroke-opacity="0.55" stroke-width="0.5"/>
<circle cx="208.2" cy="605.4" r="2.05" fill="#cc1f1f" fill-opacity="0.66" stroke="#a81a1a" stroke-opacity="0.55" stroke-width="0.5"/>
<circle cx="202.5" cy="603.4" r="2.05" fill="#cc1f1f" fill-opacity="0.66" stroke="#a81a1a" stroke-opacity="0.55" stroke-width="0.5"/>
<circle cx="199.6" cy="601.8" r="2.05" fill="#cc1f1f" fill-opacity="0.66" stroke="#a81a1a" stroke-opacity="0.55" stroke-width="0.5"/>
<circle cx="207.1" cy="602.8" r="2.05" fill="#cc1f1f" fill-opacity="0.66" stroke="#a81a1a" stroke-opacity="0.55" stroke-width="0.5"/>
<circle cx="200.8" cy="606.0" r="2.05" fill="#cc1f1f" fill-opacity="0.66" stroke="#a81a1a" stroke-opacity="0.55" stroke-width="0.5"/>
<line x1="34.50" y1="486.00" x2="34.50" y2="619.10" stroke="#222" stroke-width="1.1" />
<line x1="34.00" y1="618.50" x2="282.50" y2="618.50" stroke="#222" stroke-width="1.1" />
<line x1="32.20" y1="612.80" x2="34.50" y2="612.80" stroke="#222" stroke-width="0.9" />
<text x="29.50" y="615.60" font-size="8" text-anchor="end" fill="#333" font-weight="normal" stroke="#333" stroke-width="0.2" >0</text>
<line x1="32.20" y1="570.30" x2="34.50" y2="570.30" stroke="#222" stroke-width="0.9" />
<text x="29.50" y="573.10" font-size="8" text-anchor="end" fill="#333" font-weight="normal" stroke="#333" stroke-width="0.2" >20</text>
<line x1="32.20" y1="527.80" x2="34.50" y2="527.80" stroke="#222" stroke-width="0.9" />
<text x="29.50" y="530.60" font-size="8" text-anchor="end" fill="#333" font-weight="normal" stroke="#333" stroke-width="0.2" >40</text>
<line x1="66.60" y1="618.50" x2="66.60" y2="621.60" stroke="#222" stroke-width="0.9" />
<text x="66.60" y="632.00" font-size="8" text-anchor="middle" fill="#333" font-weight="normal" stroke="#333" stroke-width="0.2" >−10</text>
<line x1="123.70" y1="618.50" x2="123.70" y2="621.60" stroke="#222" stroke-width="0.9" />
<text x="123.70" y="632.00" font-size="8" text-anchor="middle" fill="#333" font-weight="normal" stroke="#333" stroke-width="0.2" >−5</text>
<line x1="180.80" y1="618.50" x2="180.80" y2="621.60" stroke="#222" stroke-width="0.9" />
<text x="180.80" y="632.00" font-size="8" text-anchor="middle" fill="#333" font-weight="normal" stroke="#333" stroke-width="0.2" >0</text>
<line x1="237.90" y1="618.50" x2="237.90" y2="621.60" stroke="#222" stroke-width="0.9" />
<text x="237.90" y="632.00" font-size="8" text-anchor="middle" fill="#333" font-weight="normal" stroke="#333" stroke-width="0.2" >5</text>
<line x1="163.50" y1="485.80" x2="163.50" y2="618.50" stroke="#1a1a1a" stroke-width="0.9" stroke-dasharray="6.3,4"/>
<line x1="197.50" y1="485.80" x2="197.50" y2="618.50" stroke="#1a1a1a" stroke-width="0.9" stroke-dasharray="6.3,4"/>
<line x1="35.20" y1="606.50" x2="282.50" y2="606.50" stroke="#1a1a1a" stroke-width="0.9" stroke-dasharray="6.5,3.6"/>
<text x="134.6" y="644.4" font-size="9.2" font-weight="bold" fill="#2a2a2a" textLength="47.6" lengthAdjust="spacingAndGlyphs">Log<tspan font-size="6.2" dy="2">2</tspan><tspan dy="-2"> fold change</tspan></text>
<text transform="translate(14.0,566) rotate(-90)" font-size="9.2" font-weight="bold" fill="#2a2a2a" textLength="26.2" lengthAdjust="spacingAndGlyphs">−Log<tspan font-size="6.2" dy="2">10</tspan><tspan dy="-2" font-style="italic"> P</tspan></text>
<text x="282.40" y="657.40" font-size="7.6" text-anchor="end" fill="#333" font-weight="normal" stroke="#333" stroke-width="0.2" >total = 10266 variables</text>
<text x="58.80" y="500.10" font-size="7.6" text-anchor="middle" fill="#a82c50" font-weight="normal"  stroke="#a82c50" stroke-width="0.25">190</text>
<text x="58.30" y="509.10" font-size="7.6" text-anchor="middle" fill="#a82c50" font-weight="normal"  stroke="#a82c50" stroke-width="0.25">Control</text>
<text x="251.50" y="500.10" font-size="7.6" text-anchor="middle" fill="#a82c50" font-weight="normal"  stroke="#a82c50" stroke-width="0.25">20</text>
<text x="251.70" y="509.10" font-size="7.6" text-anchor="middle" fill="#a82c50" font-weight="normal"  stroke="#a82c50" stroke-width="0.25">GFP+/−</text>
<text x="109.60" y="509.40" font-size="7.8" text-anchor="start" fill="#1a1a1a" font-weight="normal" stroke="#1a1a1a" stroke-width="0.2" >MARCO</text>
<text x="99.20" y="525.60" font-size="7.8" text-anchor="start" fill="#1a1a1a" font-weight="normal" stroke="#1a1a1a" stroke-width="0.2" >ANKRD24</text>
<text x="100.00" y="537.90" font-size="7.8" text-anchor="start" fill="#1a1a1a" font-weight="normal" stroke="#1a1a1a" stroke-width="0.2" >VOPP1</text>
<text x="100.00" y="545.90" font-size="7.8" text-anchor="start" fill="#1a1a1a" font-weight="normal" stroke="#1a1a1a" stroke-width="0.2" >GFPT2</text>
<text x="92.80" y="553.70" font-size="7.8" text-anchor="start" fill="#1a1a1a" font-weight="normal" stroke="#1a1a1a" stroke-width="0.2" >IL18BP</text>
<text x="68.00" y="562.90" font-size="7.8" text-anchor="start" fill="#1a1a1a" font-weight="normal" stroke="#1a1a1a" stroke-width="0.2" >TMEM176B</text>
<text x="89.50" y="574.30" font-size="7.8" text-anchor="start" fill="#1a1a1a" font-weight="normal" stroke="#1a1a1a" stroke-width="0.2" >PTGER3</text>
<text x="75.00" y="582.90" font-size="7.8" text-anchor="start" fill="#1a1a1a" font-weight="normal" stroke="#1a1a1a" stroke-width="0.2" >KCNMA1</text>
<text x="35.80" y="594.10" font-size="7.8" text-anchor="start" fill="#1a1a1a" font-weight="normal" stroke="#1a1a1a" stroke-width="0.2" >LOXHD1</text>
<text x="65.00" y="590.90" font-size="7.8" text-anchor="start" fill="#1a1a1a" font-weight="normal" stroke="#1a1a1a" stroke-width="0.2" >IL2RA</text>
<text x="143.80" y="515.90" font-size="7.8" text-anchor="start" fill="#1a1a1a" font-weight="normal" stroke="#1a1a1a" stroke-width="0.2" >C1QB</text>
<text x="141.50" y="527.20" font-size="7.8" text-anchor="start" fill="#1a1a1a" font-weight="normal" stroke="#1a1a1a" stroke-width="0.2" >VCAM1</text>
<text x="149.20" y="538.30" font-size="7.8" text-anchor="start" fill="#1a1a1a" font-weight="normal" stroke="#1a1a1a" stroke-width="0.2" >PLD4</text>
<text x="216.90" y="551.70" font-size="7.8" text-anchor="start" fill="#1a1a1a" font-weight="normal" stroke="#1a1a1a" stroke-width="0.2" >GLOD4</text>
<text x="195.00" y="570.60" font-size="7.8" text-anchor="start" fill="#1a1a1a" font-weight="normal" stroke="#1a1a1a" stroke-width="0.2" >RAB7B</text>
<text x="229.20" y="580.10" font-size="7.8" text-anchor="start" fill="#1a1a1a" font-weight="normal" stroke="#1a1a1a" stroke-width="0.2" >ZBED6CL</text>
<text x="207.20" y="587.90" font-size="7.8" text-anchor="start" fill="#1a1a1a" font-weight="normal" stroke="#1a1a1a" stroke-width="0.2" >THBS1</text>
<text x="244.40" y="610.50" font-size="7.8" text-anchor="start" fill="#1a1a1a" font-weight="normal" stroke="#1a1a1a" stroke-width="0.2" >FAM184B</text>
<line x1="130.80" y1="544.60" x2="126.20" y2="536.40" stroke="#111" stroke-width="0.75" />
<polygon points="126.2,536.4 128.2,537.7 126.2,538.8" fill="#111"/>
<line x1="130.80" y1="545.40" x2="126.30" y2="544.60" stroke="#111" stroke-width="0.75" />
<polygon points="126.3,544.6 128.6,543.8 128.2,546.1" fill="#111"/>
<line x1="129.20" y1="546.50" x2="120.80" y2="550.40" stroke="#111" stroke-width="0.75" />
<polygon points="120.8,550.4 122.2,548.5 123.2,550.6" fill="#111"/>
<line x1="133.80" y1="556.20" x2="111.50" y2="559.60" stroke="#111" stroke-width="0.75" />
<polygon points="111.5,559.6 113.4,558.1 113.8,560.4" fill="#111"/>
<line x1="124.50" y1="569.30" x2="121.60" y2="570.00" stroke="#111" stroke-width="0.75" />
<polygon points="121.6,570.0 123.4,568.4 123.9,570.6" fill="#111"/>
<line x1="112.50" y1="584.80" x2="108.20" y2="582.30" stroke="#111" stroke-width="0.75" />
<polygon points="108.2,582.3 110.6,582.4 109.4,584.4" fill="#111"/>
<line x1="84.30" y1="595.00" x2="81.20" y2="592.30" stroke="#111" stroke-width="0.75" />
<polygon points="81.2,592.3 83.5,592.8 82.0,594.6" fill="#111"/>
<line x1="144.30" y1="529.60" x2="146.50" y2="527.80" stroke="#111" stroke-width="0.75" />
<polygon points="146.5,527.8 145.6,530.0 144.1,528.2" fill="#111"/>
<line x1="150.20" y1="543.00" x2="150.20" y2="540.40" stroke="#111" stroke-width="0.75" />
<polygon points="150.2,540.4 151.4,542.5 149.0,542.5" fill="#111"/>
<line x1="124.50" y1="528.40" x2="121.80" y2="526.60" stroke="#111" stroke-width="0.75" />
<polygon points="121.8,526.6 124.2,526.8 122.9,528.7" fill="#111"/>
<text x="204.80" y="15.70" font-size="11" text-anchor="start" fill="#111" font-weight="bold"  stroke="#111" stroke-width="0.35">C</text>
<rect x="334.00" y="19.40" width="72.40" height="17.80" fill="#2e3d8f" />
<line x1="330.80" y1="28.30" x2="333.50" y2="28.30" stroke="#222" stroke-width="0.8" />
<text x="327.70" y="31.00" font-size="7.45" text-anchor="end" fill="#333" font-weight="normal" stroke="#333" stroke-width="0.2" >cell-substrate adhesion</text>
<rect x="334.00" y="40.20" width="66.80" height="17.80" fill="#8181bd" />
<line x1="330.80" y1="49.10" x2="333.50" y2="49.10" stroke="#222" stroke-width="0.8" />
<text x="327.70" y="51.80" font-size="7.45" text-anchor="end" fill="#333" font-weight="normal" stroke="#333" stroke-width="0.2" >cell junction organization</text>
<rect x="334.00" y="60.60" width="106.60" height="17.80" fill="#8888c0" />
<line x1="330.80" y1="69.50" x2="333.50" y2="69.50" stroke="#222" stroke-width="0.8" />
<text x="327.70" y="68.00" font-size="7.45" text-anchor="end" fill="#333" font-weight="normal" stroke="#333" stroke-width="0.2" >integrin-mediated signaling</text>
<text x="327.70" y="76.80" font-size="7.45" text-anchor="end" fill="#333" font-weight="normal" stroke="#333" stroke-width="0.2" >pathway</text>
<rect x="334.00" y="80.80" width="56.50" height="17.80" fill="#8585be" />
<line x1="330.80" y1="89.70" x2="333.50" y2="89.70" stroke="#222" stroke-width="0.8" />
<text x="327.70" y="92.40" font-size="7.45" text-anchor="end" fill="#333" font-weight="normal" stroke="#333" stroke-width="0.2" >leukocyte migration</text>
<rect x="334.00" y="101.50" width="58.20" height="17.80" fill="#7f7fba" />
<line x1="330.80" y1="110.40" x2="333.50" y2="110.40" stroke="#222" stroke-width="0.8" />
<text x="327.70" y="113.10" font-size="7.45" text-anchor="end" fill="#333" font-weight="normal" stroke="#333" stroke-width="0.2" >myeloid cell differentiation</text>
<rect x="334.00" y="121.70" width="60.60" height="17.80" fill="#9090c6" />
<line x1="330.80" y1="130.60" x2="333.50" y2="130.60" stroke="#222" stroke-width="0.8" />
<text x="327.70" y="129.10" font-size="7.45" text-anchor="end" fill="#333" font-weight="normal" stroke="#333" stroke-width="0.2" >negative regulation of cellular</text>
<text x="327.70" y="137.90" font-size="7.45" text-anchor="end" fill="#333" font-weight="normal" stroke="#333" stroke-width="0.2" >component movement</text>
<rect x="334.00" y="142.50" width="52.80" height="17.80" fill="#8f8fc5" />
<line x1="330.80" y1="151.40" x2="333.50" y2="151.40" stroke="#222" stroke-width="0.8" />
<text x="327.70" y="149.90" font-size="7.45" text-anchor="end" fill="#333" font-weight="normal" stroke="#333" stroke-width="0.2" >positive regulation of cytokine</text>
<text x="327.70" y="158.70" font-size="7.45" text-anchor="end" fill="#333" font-weight="normal" stroke="#333" stroke-width="0.2" >production</text>
<rect x="334.00" y="162.90" width="49.80" height="17.80" fill="#9292c7" />
<line x1="330.80" y1="171.80" x2="333.50" y2="171.80" stroke="#222" stroke-width="0.8" />
<text x="327.70" y="174.50" font-size="7.45" text-anchor="end" fill="#333" font-weight="normal" stroke="#333" stroke-width="0.2" >neutrophil mediated immunity</text>
<rect x="334.00" y="183.70" width="49.00" height="17.80" fill="#9696c9" />
<line x1="330.80" y1="192.60" x2="333.50" y2="192.60" stroke="#222" stroke-width="0.8" />
<text x="327.70" y="195.30" font-size="7.45" text-anchor="end" fill="#333" font-weight="normal" stroke="#333" stroke-width="0.2" >granulocyte activation</text>
<rect x="334.00" y="203.90" width="48.50" height="17.80" fill="#9494c8" />
<line x1="330.80" y1="212.80" x2="333.50" y2="212.80" stroke="#222" stroke-width="0.8" />
<text x="327.70" y="211.30" font-size="7.45" text-anchor="end" fill="#333" font-weight="normal" stroke="#333" stroke-width="0.2" >positive regulation of cell</text>
<text x="327.70" y="220.10" font-size="7.45" text-anchor="end" fill="#333" font-weight="normal" stroke="#333" stroke-width="0.2" >motility</text>
<line x1="333.50" y1="15.40" x2="333.50" y2="222.80" stroke="#222" stroke-width="1.1" />
<line x1="333.00" y1="222.50" x2="446.50" y2="222.50" stroke="#222" stroke-width="1.1" />
<line x1="333.50" y1="222.50" x2="333.50" y2="225.20" stroke="#222" stroke-width="0.8" />
<line x1="344.10" y1="222.50" x2="344.10" y2="225.20" stroke="#222" stroke-width="0.8" />
<line x1="354.70" y1="222.50" x2="354.70" y2="225.20" stroke="#222" stroke-width="0.8" />
<line x1="365.30" y1="222.50" x2="365.30" y2="225.20" stroke="#222" stroke-width="0.8" />
<line x1="375.90" y1="222.50" x2="375.90" y2="225.20" stroke="#222" stroke-width="0.8" />
<line x1="386.50" y1="222.50" x2="386.50" y2="225.20" stroke="#222" stroke-width="0.8" />
<line x1="397.10" y1="222.50" x2="397.10" y2="225.20" stroke="#222" stroke-width="0.8" />
<line x1="407.70" y1="222.50" x2="407.70" y2="225.20" stroke="#222" stroke-width="0.8" />
<line x1="418.30" y1="222.50" x2="418.30" y2="225.20" stroke="#222" stroke-width="0.8" />
<line x1="428.90" y1="222.50" x2="428.90" y2="225.20" stroke="#222" stroke-width="0.8" />
<line x1="439.50" y1="222.50" x2="439.50" y2="225.20" stroke="#222" stroke-width="0.8" />
<text x="333.50" y="235.50" font-size="7.6" text-anchor="middle" fill="#333" font-weight="normal" stroke="#333" stroke-width="0.2" >0</text>
<text x="354.70" y="235.50" font-size="7.6" text-anchor="middle" fill="#333" font-weight="normal" stroke="#333" stroke-width="0.2" >1</text>
<text x="375.90" y="235.50" font-size="7.6" text-anchor="middle" fill="#333" font-weight="normal" stroke="#333" stroke-width="0.2" >2</text>
<text x="397.10" y="235.50" font-size="7.6" text-anchor="middle" fill="#333" font-weight="normal" stroke="#333" stroke-width="0.2" >3</text>
<text x="418.30" y="235.50" font-size="7.6" text-anchor="middle" fill="#333" font-weight="normal" stroke="#333" stroke-width="0.2" >4</text>
<text x="439.50" y="235.50" font-size="7.6" text-anchor="middle" fill="#333" font-weight="normal" stroke="#333" stroke-width="0.2" >5</text>
<text x="366.4" y="247.6" font-size="9.2" font-weight="bold" fill="#2a2a2a" textLength="47.4" lengthAdjust="spacingAndGlyphs">Enrichment ratio</text>
<text transform="translate(224.3,131) rotate(-90)" font-size="9.2" font-weight="bold" fill="#2a2a2a" textLength="23.8" lengthAdjust="spacingAndGlyphs">Pathway</text>
<text x="452.80" y="90.00" font-size="7.4" text-anchor="start" fill="#333" font-weight="normal" stroke="#333" stroke-width="0.2" >−LOG(FDR)</text>
<rect x="452.3" y="97.8" width="11.1" height="52.6" rx="2" fill="url(#cbC)"/>
<text x="466.20" y="102.10" font-size="7.6" text-anchor="start" fill="#333" font-weight="normal" stroke="#333" stroke-width="0.2" >3</text>
<text x="466.20" y="118.60" font-size="7.6" text-anchor="start" fill="#333" font-weight="normal" stroke="#333" stroke-width="0.2" >2</text>
<text x="466.20" y="136.30" font-size="7.6" text-anchor="start" fill="#333" font-weight="normal" stroke="#333" stroke-width="0.2" >1</text>
<text x="466.20" y="153.50" font-size="7.6" text-anchor="start" fill="#333" font-weight="normal" stroke="#333" stroke-width="0.2" >0</text>
<line x1="452.30" y1="115.80" x2="455.00" y2="115.80" stroke="#fff" stroke-width="0.8" />
<line x1="460.70" y1="115.80" x2="463.40" y2="115.80" stroke="#fff" stroke-width="0.8" />
<line x1="452.30" y1="133.50" x2="455.00" y2="133.50" stroke="#fff" stroke-width="0.8" />
<line x1="460.70" y1="133.50" x2="463.40" y2="133.50" stroke="#fff" stroke-width="0.8" />
<text x="204.80" y="271.60" font-size="11" text-anchor="start" fill="#111" font-weight="bold"  stroke="#111" stroke-width="0.35">D</text>
<rect x="335.40" y="272.40" width="105.40" height="7.20" fill="#8282ba" />
<line x1="331.30" y1="276.00" x2="333.80" y2="276.00" stroke="#222" stroke-width="0.8" />
<text x="327.90" y="278.60" font-size="7.55" text-anchor="end" fill="#333" font-weight="normal" stroke="#333" stroke-width="0.2" >PROTEIN_SECRETION</text>
<rect x="335.80" y="280.57" width="105.00" height="7.20" fill="#7376b4" />
<line x1="331.30" y1="284.17" x2="333.80" y2="284.17" stroke="#222" stroke-width="0.8" />
<text x="327.90" y="286.77" font-size="7.55" text-anchor="end" fill="#333" font-weight="normal" stroke="#333" stroke-width="0.2" >IFN_GAMMA_RESPONSE</text>
<rect x="338.20" y="288.74" width="102.60" height="7.20" fill="#8284bc" />
<line x1="331.30" y1="292.34" x2="333.80" y2="292.34" stroke="#222" stroke-width="0.8" />
<text x="327.90" y="294.94" font-size="7.55" text-anchor="end" fill="#333" font-weight="normal" stroke="#333" stroke-width="0.2" >IFN_ALPHA_RESPONSE</text>
<rect x="342.80" y="296.91" width="98.00" height="7.20" fill="#a0a0cb" />
<line x1="331.30" y1="300.51" x2="333.80" y2="300.51" stroke="#222" stroke-width="0.8" />
<text x="327.90" y="303.11" font-size="7.55" text-anchor="end" fill="#333" font-weight="normal" stroke="#333" stroke-width="0.2" >IL6_JAK_STAT3_SIGNALING</text>
<rect x="344.40" y="305.08" width="96.40" height="7.20" fill="#a4a4cd" />
<line x1="331.30" y1="308.68" x2="333.80" y2="308.68" stroke="#222" stroke-width="0.8" />
<text x="327.90" y="311.28" font-size="7.55" text-anchor="end" fill="#333" font-weight="normal" stroke="#333" stroke-width="0.2" >INFLAMMATORY_RESPONSE</text>
<rect x="345.30" y="313.25" width="95.50" height="7.20" fill="#a4a4cd" />
<line x1="331.30" y1="316.85" x2="333.80" y2="316.85" stroke="#222" stroke-width="0.8" />
<text x="327.90" y="319.45" font-size="7.55" text-anchor="end" fill="#333" font-weight="normal" stroke="#333" stroke-width="0.2" >KRAS_SIGNALING_UP</text>
<rect x="348.10" y="321.42" width="92.70" height="7.20" fill="#b2b2d6" />
<line x1="331.30" y1="325.02" x2="333.80" y2="325.02" stroke="#222" stroke-width="0.8" />
<text x="327.90" y="327.62" font-size="7.55" text-anchor="end" fill="#333" font-weight="normal" stroke="#333" stroke-width="0.2" >APICAL_JUNCTION</text>
<rect x="349.20" y="329.59" width="91.60" height="7.20" fill="#b4b4d6" />
<line x1="331.30" y1="333.19" x2="333.80" y2="333.19" stroke="#222" stroke-width="0.8" />
<text x="327.90" y="335.79" font-size="7.55" text-anchor="end" fill="#333" font-weight="normal" stroke="#333" stroke-width="0.2" >ALLOGRAFT_REJECTION</text>
<rect x="349.20" y="337.76" width="91.60" height="7.20" fill="#b5b5d7" />
<line x1="331.30" y1="341.36" x2="333.80" y2="341.36" stroke="#222" stroke-width="0.8" />
<text x="327.90" y="343.96" font-size="7.55" text-anchor="end" fill="#333" font-weight="normal" stroke="#333" stroke-width="0.2" >TNFA_SIGNALING_VIA_NFKB</text>
<rect x="349.90" y="345.93" width="90.90" height="7.20" fill="#b6b6d8" />
<line x1="331.30" y1="349.53" x2="333.80" y2="349.53" stroke="#222" stroke-width="0.8" />
<text x="327.90" y="352.13" font-size="7.55" text-anchor="end" fill="#333" font-weight="normal" stroke="#333" stroke-width="0.2" >APOPTOSIS</text>
<rect x="353.20" y="354.10" width="87.60" height="7.20" fill="#c0c0dd" />
<line x1="331.30" y1="357.70" x2="333.80" y2="357.70" stroke="#222" stroke-width="0.8" />
<text x="327.90" y="360.30" font-size="7.55" text-anchor="end" fill="#333" font-weight="normal" stroke="#333" stroke-width="0.2" >PEROXISOME</text>
<rect x="353.20" y="362.27" width="87.60" height="7.20" fill="#bfbfdc" />
<line x1="331.30" y1="365.87" x2="333.80" y2="365.87" stroke="#222" stroke-width="0.8" />
<text x="327.90" y="368.47" font-size="7.55" text-anchor="end" fill="#333" font-weight="normal" stroke="#333" stroke-width="0.2" >XENOBIOTIC_METABOLISM</text>
<rect x="356.40" y="370.44" width="84.40" height="7.20" fill="#c9c9e2" />
<line x1="331.30" y1="374.04" x2="333.80" y2="374.04" stroke="#222" stroke-width="0.8" />
<text x="327.90" y="376.64" font-size="7.55" text-anchor="end" fill="#333" font-weight="normal" stroke="#333" stroke-width="0.2" >COMPLEMENT</text>
<rect x="356.80" y="378.61" width="84.00" height="7.20" fill="#cbcbe3" />
<line x1="331.30" y1="382.21" x2="333.80" y2="382.21" stroke="#222" stroke-width="0.8" />
<text x="327.90" y="384.81" font-size="7.55" text-anchor="end" fill="#333" font-weight="normal" stroke="#333" stroke-width="0.2" >ANDROGEN_RESPONSE</text>
<rect x="358.00" y="386.78" width="82.80" height="7.20" fill="#cdcde4" />
<line x1="331.30" y1="390.38" x2="333.80" y2="390.38" stroke="#222" stroke-width="0.8" />
<text x="327.90" y="392.98" font-size="7.55" text-anchor="end" fill="#333" font-weight="normal" stroke="#333" stroke-width="0.2" >BILE_ACID_METABOLISM</text>
<rect x="359.20" y="394.95" width="81.60" height="7.20" fill="#cfcfe5" />
<line x1="331.30" y1="398.55" x2="333.80" y2="398.55" stroke="#222" stroke-width="0.8" />
<text x="327.90" y="401.15" font-size="7.55" text-anchor="end" fill="#333" font-weight="normal" stroke="#333" stroke-width="0.2" >E2F_TARGETS</text>
<rect x="359.80" y="403.12" width="81.00" height="7.20" fill="#d2d2e7" />
<line x1="331.30" y1="406.72" x2="333.80" y2="406.72" stroke="#222" stroke-width="0.8" />
<text x="327.90" y="409.32" font-size="7.55" text-anchor="end" fill="#333" font-weight="normal" stroke="#333" stroke-width="0.2" >ESTROGEN_RESPONSE_LATE</text>
<rect x="359.80" y="411.29" width="81.00" height="7.20" fill="#d4d4e8" />
<line x1="331.30" y1="414.89" x2="333.80" y2="414.89" stroke="#222" stroke-width="0.8" />
<text x="327.90" y="417.49" font-size="7.55" text-anchor="end" fill="#333" font-weight="normal" stroke="#333" stroke-width="0.2" >HYPOXIA</text>
<rect x="359.80" y="419.46" width="81.00" height="7.20" fill="#d4d4e8" />
<line x1="331.30" y1="423.06" x2="333.80" y2="423.06" stroke="#222" stroke-width="0.8" />
<text x="327.90" y="425.66" font-size="7.55" text-anchor="end" fill="#333" font-weight="normal" stroke="#333" stroke-width="0.2" >FATTY_ACID_METABOLISM</text>
<circle cx="445.4" cy="285.9" r="0.9" fill="#222"/>
<line x1="333.50" y1="271.90" x2="333.50" y2="427.00" stroke="#222" stroke-width="1.1" />
<line x1="333.00" y1="426.50" x2="446.30" y2="426.50" stroke="#222" stroke-width="1.1" />
<line x1="440.80" y1="426.50" x2="440.80" y2="429.30" stroke="#222" stroke-width="0.8" />
<line x1="424.43" y1="426.50" x2="424.43" y2="429.30" stroke="#222" stroke-width="0.8" />
<line x1="408.05" y1="426.50" x2="408.05" y2="429.30" stroke="#222" stroke-width="0.8" />
<line x1="391.68" y1="426.50" x2="391.68" y2="429.30" stroke="#222" stroke-width="0.8" />
<line x1="375.30" y1="426.50" x2="375.30" y2="429.30" stroke="#222" stroke-width="0.8" />
<line x1="358.93" y1="426.50" x2="358.93" y2="429.30" stroke="#222" stroke-width="0.8" />
<line x1="342.55" y1="426.50" x2="342.55" y2="429.30" stroke="#222" stroke-width="0.8" />
<text x="342.55" y="440.20" font-size="7.7" text-anchor="middle" fill="#333" font-weight="normal" stroke="#333" stroke-width="0.2" >−1.5</text>
<text x="375.30" y="440.20" font-size="7.7" text-anchor="middle" fill="#333" font-weight="normal" stroke="#333" stroke-width="0.2" >−1.0</text>
<text x="408.05" y="440.20" font-size="7.7" text-anchor="middle" fill="#333" font-weight="normal" stroke="#333" stroke-width="0.2" >−0.5</text>
<text x="440.80" y="440.20" font-size="7.7" text-anchor="middle" fill="#333" font-weight="normal" stroke="#333" stroke-width="0.2" >0.0</text>
<text x="383.9" y="452.8" font-size="9.2" font-weight="bold" fill="#2a2a2a" textLength="12.2" lengthAdjust="spacingAndGlyphs">NES</text>
<text transform="translate(212.4,361.6) rotate(-90)" font-size="9.2" font-weight="bold" fill="#2a2a2a" textLength="24.2" lengthAdjust="spacingAndGlyphs">Pathway</text>
<text x="452.60" y="326.50" font-size="7.6" text-anchor="start" fill="#333" font-weight="normal" stroke="#333" stroke-width="0.2" >−LOG(FDR)</text>
<rect x="452.3" y="334.3" width="7.7" height="43.4" rx="2" fill="url(#cbD)"/>
<text x="463.80" y="338.20" font-size="7.6" text-anchor="start" fill="#333" font-weight="normal" stroke="#333" stroke-width="0.2" >2.0</text>
<text x="463.80" y="347.40" font-size="7.6" text-anchor="start" fill="#333" font-weight="normal" stroke="#333" stroke-width="0.2" >1.5</text>
<text x="463.80" y="357.70" font-size="7.6" text-anchor="start" fill="#333" font-weight="normal" stroke="#333" stroke-width="0.2" >1.0</text>
<text x="463.80" y="367.70" font-size="7.6" text-anchor="start" fill="#333" font-weight="normal" stroke="#333" stroke-width="0.2" >0.5</text>
<text x="463.80" y="378.20" font-size="7.6" text-anchor="start" fill="#333" font-weight="normal" stroke="#333" stroke-width="0.2" >0.0</text>
<line x1="452.30" y1="344.60" x2="454.30" y2="344.60" stroke="#fff" stroke-width="0.7" />
<line x1="458.00" y1="344.60" x2="460.00" y2="344.60" stroke="#fff" stroke-width="0.7" />
<line x1="452.30" y1="354.90" x2="454.30" y2="354.90" stroke="#fff" stroke-width="0.7" />
<line x1="458.00" y1="354.90" x2="460.00" y2="354.90" stroke="#fff" stroke-width="0.7" />
<line x1="452.30" y1="364.90" x2="454.30" y2="364.90" stroke="#fff" stroke-width="0.7" />
<line x1="458.00" y1="364.90" x2="460.00" y2="364.90" stroke="#fff" stroke-width="0.7" />
<text x="297.30" y="479.60" font-size="11" text-anchor="start" fill="#111" font-weight="bold"  stroke="#111" stroke-width="0.35">E</text>
<rect x="376.70" y="490.80" width="85.80" height="29.10" fill="#ebebf4" />
<line x1="373.80" y1="505.35" x2="376.30" y2="505.35" stroke="#222" stroke-width="0.8" />
<text x="370.60" y="498.90" font-size="8.0" text-anchor="end" fill="#222" font-weight="normal" stroke="#222" stroke-width="0.2" >WNT BETA-</text>
<text x="370.60" y="508.35" font-size="8.0" text-anchor="end" fill="#222" font-weight="normal" stroke="#222" stroke-width="0.2" >CATENIN</text>
<text x="370.60" y="517.80" font-size="8.0" text-anchor="end" fill="#222" font-weight="normal" stroke="#222" stroke-width="0.2" >SIGNALING</text>
<rect x="376.70" y="523.20" width="82.10" height="29.40" fill="#d6d6ea" />
<line x1="373.80" y1="537.90" x2="376.30" y2="537.90" stroke="#222" stroke-width="0.8" />
<text x="370.60" y="536.18" font-size="8.0" text-anchor="end" fill="#222" font-weight="normal" stroke="#222" stroke-width="0.2" >TGF-BETA</text>
<text x="370.60" y="545.63" font-size="8.0" text-anchor="end" fill="#222" font-weight="normal" stroke="#222" stroke-width="0.2" >SIGNALING</text>
<rect x="376.70" y="556.60" width="76.90" height="29.10" fill="#d2d2e8" />
<line x1="373.80" y1="571.15" x2="376.30" y2="571.15" stroke="#222" stroke-width="0.8" />
<text x="370.60" y="574.15" font-size="8.0" text-anchor="end" fill="#222" font-weight="normal" stroke="#222" stroke-width="0.2" >ANGIOGENESIS</text>
<rect x="376.70" y="589.60" width="56.80" height="27.60" fill="#f3f3f8" />
<line x1="373.80" y1="603.40" x2="376.30" y2="603.40" stroke="#222" stroke-width="0.8" />
<text x="370.60" y="601.68" font-size="8.0" text-anchor="end" fill="#222" font-weight="normal" stroke="#222" stroke-width="0.2" >HEDGEHOG</text>
<text x="370.60" y="611.13" font-size="8.0" text-anchor="end" fill="#222" font-weight="normal" stroke="#222" stroke-width="0.2" >SIGNALING</text>
<line x1="376.50" y1="485.70" x2="376.50" y2="619.00" stroke="#222" stroke-width="1.1" />
<line x1="375.80" y1="618.50" x2="466.60" y2="618.50" stroke="#222" stroke-width="1.1" />
<line x1="385.50" y1="618.50" x2="385.50" y2="621.30" stroke="#222" stroke-width="0.8" />
<line x1="394.54" y1="618.50" x2="394.54" y2="621.30" stroke="#222" stroke-width="0.8" />
<line x1="403.58" y1="618.50" x2="403.58" y2="621.30" stroke="#222" stroke-width="0.8" />
<line x1="412.62" y1="618.50" x2="412.62" y2="621.30" stroke="#222" stroke-width="0.8" />
<line x1="421.66" y1="618.50" x2="421.66" y2="621.30" stroke="#222" stroke-width="0.8" />
<line x1="430.70" y1="618.50" x2="430.70" y2="621.30" stroke="#222" stroke-width="0.8" />
<line x1="439.74" y1="618.50" x2="439.74" y2="621.30" stroke="#222" stroke-width="0.8" />
<line x1="448.78" y1="618.50" x2="448.78" y2="621.30" stroke="#222" stroke-width="0.8" />
<line x1="457.82" y1="618.50" x2="457.82" y2="621.30" stroke="#222" stroke-width="0.8" />
<text x="380.60" y="631.20" font-size="7.6" text-anchor="middle" fill="#333" font-weight="normal" stroke="#333" stroke-width="0.2" >0.00</text>
<text x="398.77" y="631.20" font-size="7.6" text-anchor="middle" fill="#333" font-weight="normal" stroke="#333" stroke-width="0.2" >0.25</text>
<text x="416.94" y="631.20" font-size="7.6" text-anchor="middle" fill="#333" font-weight="normal" stroke="#333" stroke-width="0.2" >0.50</text>
<text x="435.11" y="631.20" font-size="7.6" text-anchor="middle" fill="#333" font-weight="normal" stroke="#333" stroke-width="0.2" >0.75</text>
<text x="453.28" y="631.20" font-size="7.6" text-anchor="middle" fill="#333" font-weight="normal" stroke="#333" stroke-width="0.2" >1.00</text>
<text x="415.8" y="643.8" font-size="9.2" font-weight="bold" fill="#2a2a2a" textLength="12.2" lengthAdjust="spacingAndGlyphs">NES</text>
<text transform="translate(305.2,564.2) rotate(-90)" font-size="9.2" font-weight="bold" fill="#2a2a2a" textLength="24.2" lengthAdjust="spacingAndGlyphs">Pathway</text>
<text x="473.50" y="532.20" font-size="7.6" text-anchor="start" fill="#333" font-weight="normal" stroke="#333" stroke-width="0.2" >−LOG(FDR)</text>
<rect x="473.2" y="539.8" width="6" height="34.6" rx="1.5" fill="url(#cbE)"/>
<text x="481.20" y="544.20" font-size="7.6" text-anchor="start" fill="#333" font-weight="normal" stroke="#333" stroke-width="0.2" >2.0</text>
<text x="481.20" y="552.30" font-size="7.6" text-anchor="start" fill="#333" font-weight="normal" stroke="#333" stroke-width="0.2" >1.5</text>
<text x="481.20" y="560.40" font-size="7.6" text-anchor="start" fill="#333" font-weight="normal" stroke="#333" stroke-width="0.2" >1.0</text>
<text x="481.20" y="568.50" font-size="7.6" text-anchor="start" fill="#333" font-weight="normal" stroke="#333" stroke-width="0.2" >0.5</text>
<text x="481.20" y="576.50" font-size="7.6" text-anchor="start" fill="#333" font-weight="normal" stroke="#333" stroke-width="0.2" >0.0</text>
<rect x="0.5" y="0.5" width="519" height="664" fill="none" stroke="#555" stroke-width="1"/></svg></body></html>
